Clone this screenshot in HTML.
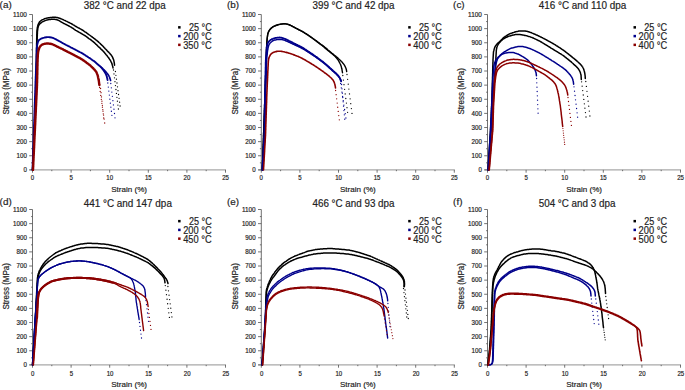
<!DOCTYPE html><html><head><meta charset="utf-8"><style>html,body{margin:0;padding:0;background:#fff;}svg{display:block;}text{font-family:"Liberation Sans", sans-serif;stroke:#222;stroke-width:0.18px;paint-order:stroke;}</style></head><body>
<svg width="685" height="390" viewBox="0 0 685 390">
<rect width="685" height="390" fill="#fff"/>
<g><line x1="32.50" y1="14.50" x2="32.50" y2="169.90" stroke="#707070" stroke-width="1"/><line x1="29.50" y1="169.90" x2="226.00" y2="169.90" stroke="#a8a8a8" stroke-width="1.1"/><line x1="29.20" y1="169.90" x2="32.50" y2="169.90" stroke="#505050" stroke-width="0.8"/><text x="26.90" y="172.20" font-size="6.4" fill="#222" text-anchor="end" textLength="3.45" lengthAdjust="spacingAndGlyphs">0</text><line x1="31.10" y1="162.84" x2="32.50" y2="162.84" stroke="#505050" stroke-width="0.8"/><line x1="29.20" y1="155.77" x2="32.50" y2="155.77" stroke="#505050" stroke-width="0.8"/><text x="26.90" y="158.07" font-size="6.4" fill="#222" text-anchor="end" textLength="10.35" lengthAdjust="spacingAndGlyphs">100</text><line x1="31.10" y1="148.71" x2="32.50" y2="148.71" stroke="#505050" stroke-width="0.8"/><line x1="29.20" y1="141.65" x2="32.50" y2="141.65" stroke="#505050" stroke-width="0.8"/><text x="26.90" y="143.95" font-size="6.4" fill="#222" text-anchor="end" textLength="10.35" lengthAdjust="spacingAndGlyphs">200</text><line x1="31.10" y1="134.58" x2="32.50" y2="134.58" stroke="#505050" stroke-width="0.8"/><line x1="29.20" y1="127.52" x2="32.50" y2="127.52" stroke="#505050" stroke-width="0.8"/><text x="26.90" y="129.82" font-size="6.4" fill="#222" text-anchor="end" textLength="10.35" lengthAdjust="spacingAndGlyphs">300</text><line x1="31.10" y1="120.46" x2="32.50" y2="120.46" stroke="#505050" stroke-width="0.8"/><line x1="29.20" y1="113.39" x2="32.50" y2="113.39" stroke="#505050" stroke-width="0.8"/><text x="26.90" y="115.69" font-size="6.4" fill="#222" text-anchor="end" textLength="10.35" lengthAdjust="spacingAndGlyphs">400</text><line x1="31.10" y1="106.33" x2="32.50" y2="106.33" stroke="#505050" stroke-width="0.8"/><line x1="29.20" y1="99.27" x2="32.50" y2="99.27" stroke="#505050" stroke-width="0.8"/><text x="26.90" y="101.56" font-size="6.4" fill="#222" text-anchor="end" textLength="10.35" lengthAdjust="spacingAndGlyphs">500</text><line x1="31.10" y1="92.20" x2="32.50" y2="92.20" stroke="#505050" stroke-width="0.8"/><line x1="29.20" y1="85.14" x2="32.50" y2="85.14" stroke="#505050" stroke-width="0.8"/><text x="26.90" y="87.44" font-size="6.4" fill="#222" text-anchor="end" textLength="10.35" lengthAdjust="spacingAndGlyphs">600</text><line x1="31.10" y1="78.07" x2="32.50" y2="78.07" stroke="#505050" stroke-width="0.8"/><line x1="29.20" y1="71.01" x2="32.50" y2="71.01" stroke="#505050" stroke-width="0.8"/><text x="26.90" y="73.31" font-size="6.4" fill="#222" text-anchor="end" textLength="10.35" lengthAdjust="spacingAndGlyphs">700</text><line x1="31.10" y1="63.95" x2="32.50" y2="63.95" stroke="#505050" stroke-width="0.8"/><line x1="29.20" y1="56.88" x2="32.50" y2="56.88" stroke="#505050" stroke-width="0.8"/><text x="26.90" y="59.18" font-size="6.4" fill="#222" text-anchor="end" textLength="10.35" lengthAdjust="spacingAndGlyphs">800</text><line x1="31.10" y1="49.82" x2="32.50" y2="49.82" stroke="#505050" stroke-width="0.8"/><line x1="29.20" y1="42.76" x2="32.50" y2="42.76" stroke="#505050" stroke-width="0.8"/><text x="26.90" y="45.06" font-size="6.4" fill="#222" text-anchor="end" textLength="10.35" lengthAdjust="spacingAndGlyphs">900</text><line x1="31.10" y1="35.69" x2="32.50" y2="35.69" stroke="#505050" stroke-width="0.8"/><line x1="29.20" y1="28.63" x2="32.50" y2="28.63" stroke="#505050" stroke-width="0.8"/><text x="26.90" y="30.93" font-size="6.4" fill="#222" text-anchor="end" textLength="13.80" lengthAdjust="spacingAndGlyphs">1000</text><line x1="31.10" y1="21.57" x2="32.50" y2="21.57" stroke="#505050" stroke-width="0.8"/><line x1="29.20" y1="14.50" x2="32.50" y2="14.50" stroke="#505050" stroke-width="0.8"/><text x="26.90" y="16.80" font-size="6.4" fill="#222" text-anchor="end" textLength="13.80" lengthAdjust="spacingAndGlyphs">1100</text><line x1="32.50" y1="169.90" x2="32.50" y2="172.70" stroke="#505050" stroke-width="0.8"/><text x="32.50" y="180.30" font-size="6.4" fill="#222" text-anchor="middle" textLength="3.37" lengthAdjust="spacingAndGlyphs">0</text><line x1="51.80" y1="169.90" x2="51.80" y2="171.20" stroke="#505050" stroke-width="0.8"/><line x1="71.10" y1="169.90" x2="71.10" y2="172.70" stroke="#505050" stroke-width="0.8"/><text x="71.10" y="180.30" font-size="6.4" fill="#222" text-anchor="middle" textLength="3.37" lengthAdjust="spacingAndGlyphs">5</text><line x1="90.40" y1="169.90" x2="90.40" y2="171.20" stroke="#505050" stroke-width="0.8"/><line x1="109.70" y1="169.90" x2="109.70" y2="172.70" stroke="#505050" stroke-width="0.8"/><text x="109.70" y="180.30" font-size="6.4" fill="#222" text-anchor="middle" textLength="6.74" lengthAdjust="spacingAndGlyphs">10</text><line x1="129.00" y1="169.90" x2="129.00" y2="171.20" stroke="#505050" stroke-width="0.8"/><line x1="148.30" y1="169.90" x2="148.30" y2="172.70" stroke="#505050" stroke-width="0.8"/><text x="148.30" y="180.30" font-size="6.4" fill="#222" text-anchor="middle" textLength="6.74" lengthAdjust="spacingAndGlyphs">15</text><line x1="167.60" y1="169.90" x2="167.60" y2="171.20" stroke="#505050" stroke-width="0.8"/><line x1="186.90" y1="169.90" x2="186.90" y2="172.70" stroke="#505050" stroke-width="0.8"/><text x="186.90" y="180.30" font-size="6.4" fill="#222" text-anchor="middle" textLength="6.74" lengthAdjust="spacingAndGlyphs">20</text><line x1="206.20" y1="169.90" x2="206.20" y2="171.20" stroke="#505050" stroke-width="0.8"/><line x1="225.50" y1="169.90" x2="225.50" y2="172.70" stroke="#505050" stroke-width="0.8"/><text x="225.50" y="180.30" font-size="6.4" fill="#222" text-anchor="middle" textLength="6.74" lengthAdjust="spacingAndGlyphs">25</text><text x="129.10" y="191.50" font-size="8.1" fill="#222" text-anchor="middle" textLength="35.8" lengthAdjust="spacingAndGlyphs">Strain (%)</text><text transform="translate(9.10,91.40) rotate(-90)" font-size="8.3" fill="#222" text-anchor="middle" textLength="46.4" lengthAdjust="spacingAndGlyphs">Stress (MPa)</text><text x="-0.40" y="7.60" font-size="9.9" fill="#222">(a)</text><text x="83.70" y="9.00" font-size="10" fill="#222" textLength="82" lengthAdjust="spacingAndGlyphs">382 °C and 22 dpa</text><rect x="178.10" y="26.10" width="2.5" height="2.5" fill="#000000"/><text x="211.70" y="31.30" font-size="10.2" fill="#222" text-anchor="end" textLength="22.8" lengthAdjust="spacingAndGlyphs">25 °C</text><rect x="178.10" y="34.85" width="2.5" height="2.5" fill="#00008b"/><text x="211.70" y="40.05" font-size="10.2" fill="#222" text-anchor="end" textLength="28.5" lengthAdjust="spacingAndGlyphs">200 °C</text><rect x="178.10" y="43.60" width="2.5" height="2.5" fill="#8b0000"/><text x="211.70" y="48.80" font-size="10.2" fill="#222" text-anchor="end" textLength="28.5" lengthAdjust="spacingAndGlyphs">350 °C</text><path d="M32.5,169.9 32.5,169.1 32.6,168.3 32.6,167.5 32.7,166.7 32.7,165.9 32.7,165.1 32.8,164.3 32.8,163.5 32.9,162.7 32.9,161.9 32.9,161.1 33.0,160.3 33.0,159.5 33.0,158.7 33.1,157.9 33.1,157.1 33.2,156.3 33.2,155.5 33.2,154.7 33.3,153.9 33.3,153.1 33.4,152.3 33.4,151.5 33.4,150.7 33.5,149.9 33.5,149.1 33.6,148.3 33.6,147.5 33.6,146.7 33.7,145.9 33.7,145.1 33.7,144.3 33.8,143.5 33.8,142.7 33.9,141.9 33.9,141.1 33.9,140.3 34.0,139.5 34.0,138.6 34.1,137.8 34.1,137.0 34.1,136.2 34.2,135.4 34.2,134.6 34.3,133.8 34.3,133.0 34.3,132.2 34.4,131.4 34.4,130.6 34.4,129.8 34.5,129.0 34.5,128.2 34.6,127.4 34.6,126.6 34.6,125.8 34.7,125.0 34.7,124.2 34.8,123.4 34.8,122.6 34.8,121.8 34.9,121.0 34.9,120.2 35.0,119.4 35.0,118.6 35.0,117.8 35.1,117.0 35.1,116.2 35.2,115.4 35.2,114.6 35.2,113.8 35.3,113.0 35.3,112.2 35.3,111.4 35.4,110.6 35.4,109.8 35.5,109.0 35.5,108.2 35.5,107.4 35.6,106.6 35.6,105.8 35.7,105.0 35.7,104.2 35.7,103.4 35.8,102.6 35.8,101.8 35.8,101.0 35.9,100.2 35.9,99.4 35.9,98.6 35.9,97.8 35.9,97.0 35.9,96.2 36.0,95.4 36.0,94.6 36.0,93.8 36.0,93.0 36.0,92.2 36.0,91.4 36.0,90.6 36.0,89.8 36.0,89.0 36.0,88.2 36.1,87.4 36.1,86.6 36.1,85.7 36.1,84.9 36.1,84.1 36.1,83.3 36.1,82.5 36.1,81.7 36.1,80.9 36.1,80.1 36.1,79.3 36.2,78.5 36.2,77.7 36.2,76.9 36.2,76.1 36.2,75.3 36.2,74.5 36.2,73.7 36.2,72.9 36.2,72.1 36.2,71.3 36.3,70.5 36.3,69.7 36.3,68.9 36.3,68.1 36.3,67.3 36.3,66.5 36.3,65.7 36.3,64.9 36.3,64.1 36.3,63.3 36.4,62.5 36.4,61.7 36.4,60.9 36.4,60.1 36.4,59.3 36.4,58.5 36.4,57.7 36.4,56.9 36.4,56.1 36.4,55.3 36.4,54.5 36.5,53.7 36.5,52.9 36.5,52.1 36.5,51.3 36.5,50.5 36.5,49.7 36.5,48.8 36.5,48.0 36.6,47.2 36.6,46.4 36.6,45.6 36.6,44.8 36.6,44.0 36.6,43.2 36.7,42.4 36.7,41.6 36.7,40.8 36.7,40.0 36.7,39.2 36.7,38.4 36.8,37.6 36.8,36.8 36.8,36.0 36.8,35.2 36.8,34.4 36.9,33.6 36.9,32.8 36.9,32.0 37.0,31.2 37.0,30.4 37.1,29.6 37.2,28.8 37.3,28.0 37.4,27.2 37.6,26.5 37.8,25.7 38.0,24.9 38.3,24.2 38.6,23.5 39.0,22.8 39.4,22.1 39.9,21.5 40.5,21.0 41.1,20.5 41.7,20.1 42.4,19.7 43.2,19.4 43.9,19.1 44.6,18.8 45.4,18.5 46.2,18.3 46.9,18.1 47.7,18.0 48.5,17.8 49.3,17.7 50.1,17.6 50.9,17.5 51.7,17.4 52.5,17.3 53.3,17.3 54.1,17.3 54.9,17.3 55.7,17.3 56.4,17.4 57.2,17.6 58.0,17.8 58.8,18.0 59.5,18.2 60.3,18.5 61.0,18.8 61.8,19.1 62.5,19.4 63.2,19.7 64.0,20.1 64.7,20.4 65.4,20.7 66.1,21.1 66.9,21.4 67.6,21.8 68.3,22.2 69.0,22.5 69.7,22.9 70.5,23.2 71.2,23.6 71.9,24.0 72.6,24.4 73.2,24.8 73.9,25.2 74.6,25.7 75.3,26.1 76.0,26.5 76.7,26.9 77.4,27.3 78.1,27.7 78.8,28.0 79.5,28.4 80.2,28.8 80.9,29.2 81.6,29.6 82.3,30.0 83.0,30.4 83.6,30.9 84.3,31.3 84.9,31.8 85.6,32.2 86.3,32.7 86.9,33.2 87.6,33.6 88.2,34.1 88.9,34.6 89.5,35.0 90.2,35.5 90.8,36.0 91.4,36.5 92.1,36.9 92.7,37.4 93.4,37.9 94.0,38.4 94.7,38.8 95.3,39.3 95.9,39.8 96.6,40.3 97.2,40.9 97.8,41.4 98.4,41.9 99.0,42.5 99.6,43.0 100.2,43.5 100.7,44.1 101.3,44.6 101.9,45.2 102.5,45.8 103.0,46.3 103.6,46.9 104.1,47.5 104.7,48.1 105.2,48.7 105.8,49.3 106.3,49.8 106.9,50.4 107.4,51.0 108.0,51.6 108.6,52.1 109.1,52.7 109.7,53.3 110.2,53.9 110.7,54.5 111.2,55.1 111.7,55.8 112.1,56.4 112.5,57.1 112.8,57.9 113.1,58.6 113.4,59.3 113.7,60.1 113.9,60.9 114.0,61.6 114.2,62.4 114.3,63.2 114.4,64.0 114.5,64.8 114.5,65.2" fill="none" stroke="#000000" stroke-width="1.5" stroke-linejoin="round" stroke-linecap="round"/><path d="M32.6,169.9 32.6,169.1 32.7,168.3 32.7,167.5 32.8,166.7 32.8,165.9 32.8,165.1 32.9,164.3 32.9,163.5 33.0,162.7 33.0,161.9 33.0,161.1 33.1,160.3 33.1,159.5 33.2,158.7 33.2,157.9 33.2,157.1 33.3,156.3 33.3,155.5 33.4,154.7 33.4,153.9 33.4,153.1 33.5,152.3 33.5,151.5 33.6,150.7 33.6,149.9 33.6,149.1 33.7,148.3 33.7,147.5 33.8,146.7 33.8,145.9 33.8,145.1 33.9,144.3 33.9,143.5 34.0,142.7 34.0,141.9 34.0,141.0 34.1,140.2 34.1,139.4 34.2,138.6 34.2,137.8 34.2,137.0 34.3,136.2 34.3,135.4 34.4,134.6 34.4,133.8 34.4,133.0 34.5,132.2 34.5,131.4 34.6,130.6 34.6,129.8 34.6,129.0 34.7,128.2 34.7,127.4 34.8,126.6 34.8,125.8 34.8,125.0 34.9,124.2 34.9,123.4 35.0,122.6 35.0,121.8 35.0,121.0 35.1,120.2 35.1,119.4 35.2,118.6 35.2,117.8 35.2,117.0 35.3,116.2 35.3,115.4 35.4,114.6 35.4,113.8 35.4,113.0 35.5,112.2 35.5,111.4 35.6,110.6 35.6,109.8 35.6,109.0 35.7,108.2 35.7,107.4 35.8,106.6 35.8,105.8 35.9,105.0 35.9,104.2 35.9,103.4 36.0,102.6 36.0,101.8 36.0,101.0 36.1,100.2 36.1,99.4 36.1,98.6 36.1,97.8 36.1,97.0 36.2,96.2 36.2,95.4 36.2,94.6 36.2,93.8 36.2,93.0 36.2,92.2 36.2,91.4 36.2,90.6 36.2,89.7 36.3,88.9 36.3,88.1 36.3,87.3 36.3,86.5 36.3,85.7 36.3,84.9 36.3,84.1 36.3,83.3 36.4,82.5 36.4,81.7 36.4,80.9 36.4,80.1 36.4,79.3 36.4,78.5 36.4,77.7 36.4,76.9 36.4,76.1 36.5,75.3 36.5,74.5 36.5,73.7 36.5,72.9 36.5,72.1 36.5,71.3 36.5,70.5 36.5,69.7 36.6,68.9 36.6,68.1 36.6,67.3 36.6,66.5 36.6,65.7 36.6,64.9 36.6,64.1 36.6,63.3 36.6,62.5 36.7,61.7 36.7,60.9 36.7,60.1 36.7,59.3 36.7,58.5 36.7,57.7 36.7,56.9 36.7,56.1 36.8,55.2 36.8,54.4 36.8,53.6 36.8,52.8 36.8,52.0 36.8,51.2 36.8,50.4 36.8,49.6 36.8,48.8 36.9,48.0 36.9,47.2 36.9,46.4 36.9,45.6 36.9,44.8 36.9,44.0 37.0,43.2 37.0,42.4 37.0,41.6 37.1,40.8 37.1,40.0 37.1,39.2 37.2,38.4 37.2,37.6 37.2,36.8 37.3,36.0 37.3,35.2 37.3,34.4 37.4,33.6 37.4,32.8 37.4,32.0 37.5,31.2 37.6,30.4 37.7,29.6 37.8,28.8 37.9,28.0 38.1,27.2 38.3,26.5 38.6,25.8 38.9,25.1 39.3,24.4 39.8,23.8 40.4,23.3 41.0,22.8 41.6,22.3 42.3,21.9 43.0,21.6 43.7,21.3 44.5,20.9 45.2,20.6 45.9,20.4 46.7,20.1 47.5,19.9 48.2,19.7 49.0,19.6 49.8,19.5 50.6,19.4 51.4,19.3 52.2,19.2 53.0,19.2 53.8,19.2 54.6,19.2 55.4,19.4 56.1,19.5 56.9,19.7 57.6,20.0 58.4,20.3 59.1,20.7 59.8,21.1 60.4,21.5 61.1,21.9 61.8,22.3 62.5,22.7 63.2,23.1 63.9,23.5 64.7,23.8 65.4,24.2 66.1,24.5 66.8,24.9 67.5,25.3 68.2,25.6 68.9,26.0 69.6,26.4 70.4,26.8 71.1,27.2 71.7,27.6 72.4,28.0 73.1,28.4 73.7,28.9 74.4,29.4 75.0,29.8 75.7,30.3 76.4,30.7 77.1,31.1 77.8,31.5 78.5,31.9 79.2,32.3 79.9,32.7 80.6,33.1 81.3,33.5 82.0,33.9 82.7,34.3 83.3,34.7 84.0,35.1 84.7,35.5 85.4,35.9 86.1,36.4 86.7,36.8 87.4,37.3 88.0,37.8 88.6,38.3 89.3,38.8 89.9,39.2 90.6,39.7 91.2,40.2 91.8,40.7 92.5,41.2 93.1,41.7 93.7,42.2 94.3,42.7 94.9,43.2 95.5,43.8 96.1,44.3 96.7,44.9 97.3,45.4 97.8,46.0 98.4,46.6 99.0,47.1 99.6,47.7 100.2,48.2 100.7,48.8 101.3,49.3 101.9,49.9 102.5,50.5 103.0,51.0 103.6,51.6 104.1,52.2 104.6,52.8 105.1,53.4 105.6,54.1 106.1,54.7 106.7,55.3 107.2,55.9 107.7,56.6 108.1,57.2 108.6,57.8 109.1,58.5 109.5,59.2 110.0,59.8 110.4,60.5 110.8,61.2 111.1,61.9 111.5,62.6 111.8,63.4 112.0,64.1 112.3,64.9 112.5,65.7 112.7,66.4 112.9,67.2 113.0,68.0" fill="none" stroke="#000000" stroke-width="1.5" stroke-linejoin="round" stroke-linecap="round"/><circle cx="113.50" cy="70.00" r="0.65" fill="#000000"/><circle cx="113.99" cy="73.90" r="0.65" fill="#000000"/><circle cx="114.48" cy="77.80" r="0.65" fill="#000000"/><circle cx="114.97" cy="81.70" r="0.65" fill="#000000"/><circle cx="115.46" cy="85.60" r="0.65" fill="#000000"/><circle cx="115.95" cy="89.50" r="0.65" fill="#000000"/><circle cx="116.44" cy="93.40" r="0.65" fill="#000000"/><circle cx="116.93" cy="97.30" r="0.65" fill="#000000"/><circle cx="117.42" cy="101.20" r="0.65" fill="#000000"/><circle cx="117.91" cy="105.10" r="0.65" fill="#000000"/><circle cx="118.40" cy="109.00" r="0.65" fill="#000000"/><circle cx="115.40" cy="71.50" r="0.65" fill="#000000"/><circle cx="115.92" cy="75.33" r="0.65" fill="#000000"/><circle cx="116.44" cy="79.17" r="0.65" fill="#000000"/><circle cx="116.97" cy="83.00" r="0.65" fill="#000000"/><circle cx="117.49" cy="86.83" r="0.65" fill="#000000"/><circle cx="118.01" cy="90.67" r="0.65" fill="#000000"/><circle cx="118.53" cy="94.50" r="0.65" fill="#000000"/><circle cx="119.06" cy="98.33" r="0.65" fill="#000000"/><circle cx="119.58" cy="102.17" r="0.65" fill="#000000"/><circle cx="120.10" cy="106.00" r="0.65" fill="#000000"/><path d="M32.5,169.9 32.5,169.1 32.6,168.3 32.6,167.5 32.6,166.7 32.6,165.9 32.7,165.1 32.7,164.3 32.7,163.5 32.7,162.7 32.8,161.9 32.8,161.1 32.8,160.3 32.9,159.5 32.9,158.7 32.9,157.9 32.9,157.1 33.0,156.3 33.0,155.5 33.0,154.7 33.1,153.9 33.1,153.1 33.1,152.3 33.1,151.5 33.2,150.7 33.2,149.9 33.2,149.1 33.2,148.2 33.3,147.4 33.3,146.6 33.3,145.8 33.4,145.0 33.4,144.2 33.4,143.4 33.4,142.6 33.5,141.8 33.5,141.0 33.5,140.2 33.6,139.4 33.6,138.6 33.6,137.8 33.6,137.0 33.7,136.2 33.7,135.4 33.7,134.6 33.7,133.8 33.8,133.0 33.8,132.2 33.8,131.4 33.9,130.6 33.9,129.8 33.9,129.0 33.9,128.2 34.0,127.4 34.0,126.6 34.0,125.8 34.0,125.0 34.1,124.2 34.1,123.4 34.1,122.6 34.2,121.8 34.2,121.0 34.2,120.2 34.2,119.4 34.3,118.6 34.3,117.8 34.3,117.0 34.4,116.2 34.4,115.4 34.4,114.6 34.4,113.8 34.5,113.0 34.5,112.2 34.5,111.4 34.5,110.6 34.6,109.8 34.6,109.0 34.6,108.2 34.7,107.4 34.7,106.6 34.7,105.8 34.7,104.9 34.8,104.1 34.8,103.3 34.8,102.5 34.9,101.7 34.9,100.9 34.9,100.1 34.9,99.3 35.0,98.5 35.0,97.7 35.0,96.9 35.0,96.1 35.1,95.3 35.1,94.5 35.1,93.7 35.2,92.9 35.2,92.1 35.2,91.3 35.2,90.5 35.3,89.7 35.3,88.9 35.3,88.1 35.3,87.3 35.4,86.5 35.4,85.7 35.4,84.9 35.5,84.1 35.5,83.3 35.5,82.5 35.5,81.7 35.6,80.9 35.6,80.1 35.6,79.3 35.7,78.5 35.7,77.7 35.7,76.9 35.8,76.1 35.8,75.3 35.8,74.5 35.9,73.7 35.9,72.9 35.9,72.1 35.9,71.3 36.0,70.5 36.0,69.7 36.0,68.9 36.1,68.1 36.1,67.3 36.1,66.5 36.2,65.7 36.2,64.9 36.2,64.1 36.3,63.3 36.3,62.5 36.3,61.7 36.4,60.9 36.4,60.0 36.4,59.2 36.5,58.4 36.5,57.6 36.5,56.8 36.5,56.0 36.6,55.2 36.6,54.4 36.6,53.6 36.7,52.8 36.7,52.0 36.7,51.2 36.7,50.4 36.8,49.6 36.8,48.8 36.8,48.0 36.9,47.2 37.0,46.4 37.1,45.6 37.2,44.9 37.4,44.1 37.6,43.3 37.8,42.5 38.0,41.8 38.3,41.1 38.7,40.5 39.2,39.9 39.8,39.5 40.5,39.0 41.2,38.7 41.9,38.4 42.6,38.1 43.4,37.9 44.2,37.7 44.9,37.5 45.7,37.3 46.5,37.2 47.3,37.1 48.1,37.1 48.9,37.1 49.6,37.2 50.4,37.3 51.2,37.5 52.0,37.7 52.7,37.9 53.5,38.2 54.2,38.5 54.9,38.8 55.6,39.2 56.4,39.6 57.1,40.0 57.8,40.4 58.5,40.8 59.2,41.2 59.9,41.5 60.6,41.9 61.3,42.3 62.0,42.7 62.7,43.1 63.4,43.5 64.1,43.8 64.8,44.2 65.5,44.6 66.2,45.0 66.9,45.3 67.6,45.7 68.4,46.1 69.1,46.4 69.8,46.8 70.5,47.2 71.2,47.6 71.9,47.9 72.6,48.3 73.3,48.7 74.0,49.0 74.8,49.4 75.5,49.8 76.2,50.2 76.9,50.5 77.6,50.9 78.3,51.3 79.0,51.6 79.7,52.0 80.5,52.4 81.2,52.7 81.9,53.1 82.6,53.5 83.2,53.9 83.9,54.4 84.6,54.8 85.3,55.2 85.9,55.7 86.6,56.1 87.3,56.6 87.9,57.0 88.6,57.5 89.3,57.9 90.0,58.3 90.6,58.8 91.3,59.2 91.9,59.7 92.6,60.2 93.2,60.6 93.9,61.1 94.5,61.6 95.1,62.1 95.7,62.6 96.4,63.2 97.0,63.7 97.6,64.2 98.2,64.7 98.8,65.2 99.4,65.7 100.0,66.2 100.6,66.8 101.2,67.4 101.7,68.0 102.2,68.6 102.7,69.2 103.2,69.9 103.7,70.5 104.1,71.2 104.6,71.8 105.0,72.5 105.4,73.2 105.7,73.9 106.1,74.6 106.4,75.4 106.7,76.1 106.9,76.9 107.1,77.7 107.3,78.4 107.4,79.2 107.6,80.0" fill="none" stroke="#00008b" stroke-width="1.9" stroke-linejoin="round" stroke-linecap="round"/><path d="M100.7,66.7 101.3,67.3 101.9,67.8 102.5,68.4 103.1,69.0 103.7,69.5 104.3,70.1 104.9,70.7 105.5,71.3 106.0,71.9 106.5,72.5 107.0,73.2 107.5,73.8 108.0,74.5 108.5,75.2 108.9,75.9 109.2,76.6 109.6,77.4 109.8,78.1 110.1,78.9 110.4,79.7 110.6,80.5" fill="none" stroke="#00008b" stroke-width="1.6" stroke-linejoin="round" stroke-linecap="round"/><circle cx="107.80" cy="83.00" r="0.65" fill="#00008b"/><circle cx="108.31" cy="87.04" r="0.65" fill="#00008b"/><circle cx="108.83" cy="91.08" r="0.65" fill="#00008b"/><circle cx="109.34" cy="95.11" r="0.65" fill="#00008b"/><circle cx="109.85" cy="99.15" r="0.65" fill="#00008b"/><circle cx="110.36" cy="103.19" r="0.65" fill="#00008b"/><circle cx="110.88" cy="107.22" r="0.65" fill="#00008b"/><circle cx="111.39" cy="111.26" r="0.65" fill="#00008b"/><circle cx="111.90" cy="115.30" r="0.65" fill="#00008b"/><circle cx="110.80" cy="83.50" r="0.65" fill="#00008b"/><circle cx="111.33" cy="87.79" r="0.65" fill="#00008b"/><circle cx="111.85" cy="92.08" r="0.65" fill="#00008b"/><circle cx="112.38" cy="96.36" r="0.65" fill="#00008b"/><circle cx="112.90" cy="100.65" r="0.65" fill="#00008b"/><circle cx="113.42" cy="104.94" r="0.65" fill="#00008b"/><circle cx="113.95" cy="109.22" r="0.65" fill="#00008b"/><circle cx="114.47" cy="113.51" r="0.65" fill="#00008b"/><circle cx="115.00" cy="117.80" r="0.65" fill="#00008b"/><path d="M33.0,169.9 33.0,169.1 33.1,168.3 33.1,167.5 33.2,166.7 33.2,165.9 33.2,165.1 33.3,164.3 33.3,163.5 33.3,162.7 33.4,161.9 33.4,161.1 33.5,160.3 33.5,159.5 33.5,158.7 33.6,157.9 33.6,157.1 33.6,156.3 33.7,155.5 33.7,154.7 33.8,153.9 33.8,153.1 33.8,152.3 33.9,151.5 33.9,150.7 33.9,149.9 34.0,149.1 34.0,148.3 34.1,147.5 34.1,146.6 34.1,145.8 34.2,145.0 34.2,144.2 34.2,143.4 34.3,142.6 34.3,141.8 34.4,141.0 34.4,140.2 34.4,139.4 34.5,138.6 34.5,137.8 34.5,137.0 34.6,136.2 34.6,135.4 34.7,134.6 34.7,133.8 34.7,133.0 34.8,132.2 34.8,131.4 34.9,130.6 34.9,129.8 34.9,129.0 35.0,128.2 35.0,127.4 35.0,126.6 35.1,125.8 35.1,125.0 35.2,124.2 35.2,123.4 35.2,122.6 35.3,121.8 35.3,121.0 35.3,120.2 35.4,119.4 35.4,118.6 35.5,117.8 35.5,117.0 35.5,116.2 35.6,115.4 35.6,114.6 35.6,113.8 35.7,113.0 35.7,112.2 35.8,111.4 35.8,110.6 35.8,109.8 35.9,109.0 35.9,108.2 35.9,107.4 36.0,106.6 36.0,105.8 36.1,105.0 36.1,104.2 36.1,103.4 36.2,102.6 36.2,101.8 36.2,100.9 36.3,100.1 36.3,99.3 36.4,98.5 36.4,97.7 36.4,96.9 36.5,96.1 36.5,95.3 36.6,94.5 36.6,93.7 36.6,92.9 36.7,92.1 36.7,91.3 36.7,90.5 36.8,89.7 36.8,88.9 36.9,88.1 36.9,87.3 36.9,86.5 37.0,85.7 37.0,84.9 37.0,84.1 37.0,83.3 37.1,82.5 37.1,81.7 37.1,80.9 37.1,80.1 37.1,79.3 37.2,78.5 37.2,77.7 37.2,76.9 37.2,76.1 37.2,75.3 37.3,74.5 37.3,73.7 37.3,72.9 37.3,72.1 37.3,71.3 37.3,70.5 37.4,69.7 37.4,68.9 37.4,68.1 37.4,67.3 37.4,66.5 37.5,65.7 37.5,64.9 37.5,64.1 37.5,63.2 37.5,62.4 37.6,61.6 37.6,60.8 37.6,60.0 37.6,59.2 37.7,58.4 37.7,57.6 37.8,56.8 37.8,56.0 37.8,55.2 37.9,54.4 38.0,53.6 38.0,52.8 38.2,52.0 38.3,51.3 38.5,50.5 38.7,49.7 39.0,49.0 39.2,48.2 39.5,47.5 39.9,46.8 40.4,46.2 40.9,45.7 41.5,45.2 42.1,44.7 42.8,44.4 43.5,44.1 44.3,43.9 45.1,43.7 45.8,43.6 46.6,43.5 47.4,43.5 48.2,43.5 49.0,43.6 49.8,43.7 50.6,43.8 51.4,44.0 52.1,44.2 52.9,44.5 53.6,44.8 54.3,45.2 55.1,45.5 55.8,45.9 56.5,46.2 57.2,46.6 57.9,46.9 58.7,47.3 59.4,47.6 60.1,48.0 60.8,48.3 61.5,48.7 62.3,49.0 63.0,49.4 63.7,49.8 64.4,50.1 65.1,50.5 65.8,50.9 66.6,51.2 67.3,51.6 68.0,52.0 68.7,52.3 69.4,52.7 70.1,53.0 70.8,53.4 71.6,53.8 72.3,54.2 73.0,54.5 73.7,54.9 74.4,55.3 75.1,55.7 75.8,56.0 76.5,56.4 77.2,56.8 77.9,57.2 78.6,57.5 79.4,57.9 80.1,58.3 80.8,58.7 81.5,59.1 82.1,59.5 82.8,59.9 83.5,60.4 84.1,60.9 84.8,61.3 85.4,61.8 86.1,62.3 86.7,62.8 87.3,63.3 88.0,63.7 88.6,64.2 89.3,64.7 89.9,65.2 90.5,65.7 91.1,66.3 91.7,66.8 92.2,67.4 92.8,68.0 93.4,68.5 93.9,69.1 94.5,69.7 95.0,70.3 95.5,70.9 96.0,71.5 96.4,72.2 96.7,72.9 97.0,73.7 97.3,74.4 97.6,75.2 97.8,75.9 98.0,76.7 98.1,77.5 98.3,78.3 98.5,79.1 98.6,79.8 98.8,80.6 98.9,81.4 99.0,82.2 99.1,83.0 99.2,83.8 99.3,84.6 99.4,85.0" fill="none" stroke="#8b0000" stroke-width="2.4" stroke-linejoin="round" stroke-linecap="round"/><circle cx="99.60" cy="87.50" r="0.65" fill="#8b0000"/><circle cx="100.17" cy="91.44" r="0.65" fill="#8b0000"/><circle cx="100.73" cy="95.39" r="0.65" fill="#8b0000"/><circle cx="101.30" cy="99.33" r="0.65" fill="#8b0000"/><circle cx="101.87" cy="103.28" r="0.65" fill="#8b0000"/><circle cx="102.43" cy="107.22" r="0.65" fill="#8b0000"/><circle cx="103.00" cy="111.17" r="0.65" fill="#8b0000"/><circle cx="103.57" cy="115.11" r="0.65" fill="#8b0000"/><circle cx="104.13" cy="119.06" r="0.65" fill="#8b0000"/><circle cx="104.70" cy="123.00" r="0.65" fill="#8b0000"/><circle cx="100.60" cy="88.50" r="0.65" fill="#8b0000"/><circle cx="101.04" cy="92.71" r="0.65" fill="#8b0000"/><circle cx="101.49" cy="96.93" r="0.65" fill="#8b0000"/><circle cx="101.93" cy="101.14" r="0.65" fill="#8b0000"/><circle cx="102.37" cy="105.36" r="0.65" fill="#8b0000"/><circle cx="102.81" cy="109.57" r="0.65" fill="#8b0000"/><circle cx="103.26" cy="113.79" r="0.65" fill="#8b0000"/><circle cx="103.70" cy="118.00" r="0.65" fill="#8b0000"/></g>
<g><line x1="261.30" y1="14.50" x2="261.30" y2="169.90" stroke="#707070" stroke-width="1"/><line x1="258.30" y1="169.90" x2="454.80" y2="169.90" stroke="#a8a8a8" stroke-width="1.1"/><line x1="258.00" y1="169.90" x2="261.30" y2="169.90" stroke="#505050" stroke-width="0.8"/><text x="255.70" y="172.20" font-size="6.4" fill="#222" text-anchor="end" textLength="3.45" lengthAdjust="spacingAndGlyphs">0</text><line x1="259.90" y1="162.84" x2="261.30" y2="162.84" stroke="#505050" stroke-width="0.8"/><line x1="258.00" y1="155.77" x2="261.30" y2="155.77" stroke="#505050" stroke-width="0.8"/><text x="255.70" y="158.07" font-size="6.4" fill="#222" text-anchor="end" textLength="10.35" lengthAdjust="spacingAndGlyphs">100</text><line x1="259.90" y1="148.71" x2="261.30" y2="148.71" stroke="#505050" stroke-width="0.8"/><line x1="258.00" y1="141.65" x2="261.30" y2="141.65" stroke="#505050" stroke-width="0.8"/><text x="255.70" y="143.95" font-size="6.4" fill="#222" text-anchor="end" textLength="10.35" lengthAdjust="spacingAndGlyphs">200</text><line x1="259.90" y1="134.58" x2="261.30" y2="134.58" stroke="#505050" stroke-width="0.8"/><line x1="258.00" y1="127.52" x2="261.30" y2="127.52" stroke="#505050" stroke-width="0.8"/><text x="255.70" y="129.82" font-size="6.4" fill="#222" text-anchor="end" textLength="10.35" lengthAdjust="spacingAndGlyphs">300</text><line x1="259.90" y1="120.46" x2="261.30" y2="120.46" stroke="#505050" stroke-width="0.8"/><line x1="258.00" y1="113.39" x2="261.30" y2="113.39" stroke="#505050" stroke-width="0.8"/><text x="255.70" y="115.69" font-size="6.4" fill="#222" text-anchor="end" textLength="10.35" lengthAdjust="spacingAndGlyphs">400</text><line x1="259.90" y1="106.33" x2="261.30" y2="106.33" stroke="#505050" stroke-width="0.8"/><line x1="258.00" y1="99.27" x2="261.30" y2="99.27" stroke="#505050" stroke-width="0.8"/><text x="255.70" y="101.56" font-size="6.4" fill="#222" text-anchor="end" textLength="10.35" lengthAdjust="spacingAndGlyphs">500</text><line x1="259.90" y1="92.20" x2="261.30" y2="92.20" stroke="#505050" stroke-width="0.8"/><line x1="258.00" y1="85.14" x2="261.30" y2="85.14" stroke="#505050" stroke-width="0.8"/><text x="255.70" y="87.44" font-size="6.4" fill="#222" text-anchor="end" textLength="10.35" lengthAdjust="spacingAndGlyphs">600</text><line x1="259.90" y1="78.07" x2="261.30" y2="78.07" stroke="#505050" stroke-width="0.8"/><line x1="258.00" y1="71.01" x2="261.30" y2="71.01" stroke="#505050" stroke-width="0.8"/><text x="255.70" y="73.31" font-size="6.4" fill="#222" text-anchor="end" textLength="10.35" lengthAdjust="spacingAndGlyphs">700</text><line x1="259.90" y1="63.95" x2="261.30" y2="63.95" stroke="#505050" stroke-width="0.8"/><line x1="258.00" y1="56.88" x2="261.30" y2="56.88" stroke="#505050" stroke-width="0.8"/><text x="255.70" y="59.18" font-size="6.4" fill="#222" text-anchor="end" textLength="10.35" lengthAdjust="spacingAndGlyphs">800</text><line x1="259.90" y1="49.82" x2="261.30" y2="49.82" stroke="#505050" stroke-width="0.8"/><line x1="258.00" y1="42.76" x2="261.30" y2="42.76" stroke="#505050" stroke-width="0.8"/><text x="255.70" y="45.06" font-size="6.4" fill="#222" text-anchor="end" textLength="10.35" lengthAdjust="spacingAndGlyphs">900</text><line x1="259.90" y1="35.69" x2="261.30" y2="35.69" stroke="#505050" stroke-width="0.8"/><line x1="258.00" y1="28.63" x2="261.30" y2="28.63" stroke="#505050" stroke-width="0.8"/><text x="255.70" y="30.93" font-size="6.4" fill="#222" text-anchor="end" textLength="13.80" lengthAdjust="spacingAndGlyphs">1000</text><line x1="259.90" y1="21.57" x2="261.30" y2="21.57" stroke="#505050" stroke-width="0.8"/><line x1="258.00" y1="14.50" x2="261.30" y2="14.50" stroke="#505050" stroke-width="0.8"/><text x="255.70" y="16.80" font-size="6.4" fill="#222" text-anchor="end" textLength="13.80" lengthAdjust="spacingAndGlyphs">1100</text><line x1="261.30" y1="169.90" x2="261.30" y2="172.70" stroke="#505050" stroke-width="0.8"/><text x="261.30" y="180.30" font-size="6.4" fill="#222" text-anchor="middle" textLength="3.37" lengthAdjust="spacingAndGlyphs">0</text><line x1="280.60" y1="169.90" x2="280.60" y2="171.20" stroke="#505050" stroke-width="0.8"/><line x1="299.90" y1="169.90" x2="299.90" y2="172.70" stroke="#505050" stroke-width="0.8"/><text x="299.90" y="180.30" font-size="6.4" fill="#222" text-anchor="middle" textLength="3.37" lengthAdjust="spacingAndGlyphs">5</text><line x1="319.20" y1="169.90" x2="319.20" y2="171.20" stroke="#505050" stroke-width="0.8"/><line x1="338.50" y1="169.90" x2="338.50" y2="172.70" stroke="#505050" stroke-width="0.8"/><text x="338.50" y="180.30" font-size="6.4" fill="#222" text-anchor="middle" textLength="6.74" lengthAdjust="spacingAndGlyphs">10</text><line x1="357.80" y1="169.90" x2="357.80" y2="171.20" stroke="#505050" stroke-width="0.8"/><line x1="377.10" y1="169.90" x2="377.10" y2="172.70" stroke="#505050" stroke-width="0.8"/><text x="377.10" y="180.30" font-size="6.4" fill="#222" text-anchor="middle" textLength="6.74" lengthAdjust="spacingAndGlyphs">15</text><line x1="396.40" y1="169.90" x2="396.40" y2="171.20" stroke="#505050" stroke-width="0.8"/><line x1="415.70" y1="169.90" x2="415.70" y2="172.70" stroke="#505050" stroke-width="0.8"/><text x="415.70" y="180.30" font-size="6.4" fill="#222" text-anchor="middle" textLength="6.74" lengthAdjust="spacingAndGlyphs">20</text><line x1="435.00" y1="169.90" x2="435.00" y2="171.20" stroke="#505050" stroke-width="0.8"/><line x1="454.30" y1="169.90" x2="454.30" y2="172.70" stroke="#505050" stroke-width="0.8"/><text x="454.30" y="180.30" font-size="6.4" fill="#222" text-anchor="middle" textLength="6.74" lengthAdjust="spacingAndGlyphs">25</text><text x="357.90" y="191.50" font-size="8.1" fill="#222" text-anchor="middle" textLength="35.8" lengthAdjust="spacingAndGlyphs">Strain (%)</text><text transform="translate(237.90,91.40) rotate(-90)" font-size="8.3" fill="#222" text-anchor="middle" textLength="46.4" lengthAdjust="spacingAndGlyphs">Stress (MPa)</text><text x="226.90" y="7.60" font-size="9.9" fill="#222">(b)</text><text x="312.50" y="9.00" font-size="10" fill="#222" textLength="82" lengthAdjust="spacingAndGlyphs">399 °C and 42 dpa</text><rect x="408.20" y="26.10" width="2.5" height="2.5" fill="#000000"/><text x="441.80" y="31.30" font-size="10.2" fill="#222" text-anchor="end" textLength="22.8" lengthAdjust="spacingAndGlyphs">25 °C</text><rect x="408.20" y="34.85" width="2.5" height="2.5" fill="#00008b"/><text x="441.80" y="40.05" font-size="10.2" fill="#222" text-anchor="end" textLength="28.5" lengthAdjust="spacingAndGlyphs">200 °C</text><rect x="408.20" y="43.60" width="2.5" height="2.5" fill="#8b0000"/><text x="441.80" y="48.80" font-size="10.2" fill="#222" text-anchor="end" textLength="28.5" lengthAdjust="spacingAndGlyphs">400 °C</text><path d="M262.3,169.9 262.3,169.1 262.4,168.3 262.4,167.5 262.4,166.7 262.4,165.9 262.5,165.1 262.5,164.3 262.5,163.5 262.6,162.7 262.6,161.9 262.6,161.1 262.6,160.3 262.7,159.5 262.7,158.7 262.7,157.9 262.8,157.1 262.8,156.3 262.8,155.5 262.8,154.7 262.9,153.9 262.9,153.1 262.9,152.3 263.0,151.5 263.0,150.6 263.0,149.8 263.1,149.0 263.1,148.2 263.1,147.4 263.1,146.6 263.2,145.8 263.2,145.0 263.2,144.2 263.3,143.4 263.3,142.6 263.3,141.8 263.3,141.0 263.4,140.2 263.4,139.4 263.4,138.6 263.5,137.8 263.5,137.0 263.5,136.2 263.5,135.4 263.6,134.6 263.6,133.8 263.6,133.0 263.7,132.2 263.7,131.4 263.7,130.6 263.7,129.8 263.8,129.0 263.8,128.2 263.8,127.4 263.9,126.6 263.9,125.8 263.9,125.0 263.9,124.2 264.0,123.4 264.0,122.6 264.0,121.8 264.1,121.0 264.1,120.2 264.1,119.4 264.2,118.6 264.2,117.8 264.2,117.0 264.2,116.2 264.3,115.4 264.3,114.6 264.3,113.7 264.4,112.9 264.4,112.1 264.4,111.3 264.4,110.5 264.5,109.7 264.5,108.9 264.5,108.1 264.6,107.3 264.6,106.5 264.6,105.7 264.6,104.9 264.7,104.1 264.7,103.3 264.7,102.5 264.8,101.7 264.8,100.9 264.8,100.1 264.8,99.3 264.9,98.5 264.9,97.7 264.9,96.9 265.0,96.1 265.0,95.3 265.0,94.5 265.0,93.7 265.1,92.9 265.1,92.1 265.1,91.3 265.2,90.5 265.2,89.7 265.2,88.9 265.2,88.1 265.3,87.3 265.3,86.5 265.3,85.7 265.3,84.9 265.4,84.1 265.4,83.3 265.4,82.5 265.4,81.7 265.5,80.9 265.5,80.1 265.5,79.3 265.6,78.5 265.6,77.7 265.6,76.8 265.6,76.0 265.7,75.2 265.7,74.4 265.7,73.6 265.7,72.8 265.8,72.0 265.8,71.2 265.8,70.4 265.8,69.6 265.9,68.8 265.9,68.0 265.9,67.2 266.0,66.4 266.0,65.6 266.0,64.8 266.0,64.0 266.1,63.2 266.1,62.4 266.1,61.6 266.1,60.8 266.2,60.0 266.2,59.2 266.2,58.4 266.2,57.6 266.3,56.8 266.3,56.0 266.3,55.2 266.4,54.4 266.4,53.6 266.4,52.8 266.4,52.0 266.5,51.2 266.5,50.4 266.5,49.6 266.6,48.8 266.6,48.0 266.6,47.2 266.7,46.4 266.7,45.6 266.8,44.8 266.8,44.0 266.9,43.2 266.9,42.4 266.9,41.6 267.0,40.8 267.1,40.0 267.1,39.2 267.2,38.4 267.3,37.6 267.4,36.8 267.5,36.0 267.6,35.2 267.7,34.4 267.9,33.6 268.1,32.9 268.4,32.1 268.8,31.4 269.1,30.7 269.6,30.0 270.0,29.4 270.6,28.8 271.1,28.3 271.7,27.8 272.4,27.3 273.0,26.8 273.7,26.4 274.4,26.1 275.1,25.8 275.9,25.5 276.6,25.2 277.4,25.0 278.2,24.7 278.9,24.5 279.7,24.4 280.5,24.2 281.3,24.1 282.1,24.0 282.9,23.9 283.7,23.8 284.5,23.8 285.2,23.9 286.0,23.9 286.8,24.1 287.6,24.3 288.3,24.5 289.1,24.7 289.8,25.0 290.6,25.4 291.3,25.7 292.0,26.1 292.7,26.5 293.4,26.9 294.1,27.2 294.8,27.6 295.5,28.0 296.2,28.4 297.0,28.7 297.7,29.1 298.4,29.5 299.1,29.8 299.8,30.2 300.5,30.6 301.2,30.9 301.9,31.3 302.6,31.7 303.3,32.1 304.0,32.5 304.7,33.0 305.4,33.4 306.1,33.8 306.7,34.2 307.4,34.7 308.1,35.1 308.8,35.6 309.4,36.0 310.1,36.5 310.7,36.9 311.4,37.4 312.0,37.8 312.7,38.3 313.4,38.8 314.0,39.2 314.7,39.7 315.3,40.2 316.0,40.6 316.6,41.1 317.3,41.6 317.9,42.1 318.6,42.5 319.2,43.0 319.8,43.5 320.5,44.0 321.1,44.5 321.8,44.9 322.4,45.4 323.1,45.9 323.7,46.4 324.3,46.9 324.9,47.4 325.6,47.9 326.2,48.4 326.8,48.9 327.4,49.4 328.0,50.0 328.7,50.5 329.3,51.0 329.9,51.5 330.5,52.0 331.1,52.5 331.7,53.0 332.4,53.5 333.0,54.0 333.6,54.6 334.2,55.1 334.9,55.6 335.5,56.0 336.1,56.6 336.7,57.1 337.3,57.6 337.9,58.1 338.5,58.7 339.1,59.2 339.7,59.8 340.3,60.3 340.9,60.9 341.4,61.5 342.0,62.0 342.5,62.7 343.0,63.3 343.5,63.9 344.0,64.5 344.4,65.2 344.8,65.9 345.2,66.6 345.5,67.3 345.8,68.0 346.1,68.8 346.3,69.5 346.5,70.3 346.6,71.1 346.7,71.5" fill="none" stroke="#000000" stroke-width="1.4" stroke-linejoin="round" stroke-linecap="round"/><path d="M262.3,169.9 262.3,169.1 262.4,168.3 262.4,167.5 262.4,166.7 262.4,165.9 262.5,165.1 262.5,164.3 262.5,163.5 262.6,162.7 262.6,161.9 262.6,161.1 262.6,160.3 262.7,159.5 262.7,158.7 262.7,157.9 262.8,157.1 262.8,156.3 262.8,155.5 262.8,154.7 262.9,153.9 262.9,153.1 262.9,152.3 263.0,151.5 263.0,150.7 263.0,149.9 263.1,149.1 263.1,148.3 263.1,147.5 263.1,146.7 263.2,145.9 263.2,145.1 263.2,144.3 263.3,143.5 263.3,142.7 263.3,141.9 263.3,141.1 263.4,140.3 263.4,139.4 263.4,138.6 263.5,137.8 263.5,137.0 263.5,136.2 263.5,135.4 263.6,134.6 263.6,133.8 263.6,133.0 263.7,132.2 263.7,131.4 263.7,130.6 263.7,129.8 263.8,129.0 263.8,128.2 263.8,127.4 263.9,126.6 263.9,125.8 263.9,125.0 263.9,124.2 264.0,123.4 264.0,122.6 264.0,121.8 264.1,121.0 264.1,120.2 264.1,119.4 264.1,118.6 264.2,117.8 264.2,117.0 264.2,116.2 264.3,115.4 264.3,114.6 264.3,113.8 264.4,113.0 264.4,112.2 264.4,111.4 264.4,110.6 264.5,109.8 264.5,109.0 264.5,108.2 264.6,107.4 264.6,106.6 264.6,105.8 264.6,105.0 264.7,104.2 264.7,103.4 264.7,102.6 264.8,101.8 264.8,101.0 264.8,100.2 264.8,99.4 264.9,98.6 264.9,97.8 264.9,97.0 265.0,96.2 265.0,95.4 265.0,94.6 265.0,93.8 265.1,93.0 265.1,92.2 265.1,91.4 265.1,90.6 265.2,89.8 265.2,89.0 265.2,88.2 265.3,87.4 265.3,86.6 265.3,85.8 265.3,85.0 265.4,84.2 265.4,83.4 265.4,82.6 265.4,81.8 265.5,80.9 265.5,80.1 265.5,79.3 265.5,78.5 265.6,77.7 265.6,76.9 265.6,76.1 265.7,75.3 265.7,74.5 265.7,73.7 265.7,72.9 265.8,72.1 265.8,71.3 265.8,70.5 265.8,69.7 265.9,68.9 265.9,68.1 265.9,67.3 265.9,66.5 266.0,65.7 266.0,64.9 266.0,64.1 266.1,63.3 266.1,62.5 266.1,61.7 266.1,60.9 266.2,60.1 266.2,59.3 266.2,58.5 266.2,57.7 266.3,56.9 266.3,56.1 266.3,55.3 266.3,54.5 266.4,53.7 266.4,52.9 266.4,52.1 266.5,51.3 266.5,50.5 266.5,49.7 266.6,48.9 266.6,48.1 266.6,47.3 266.7,46.5 266.7,45.7 266.8,44.9 266.8,44.1 266.8,43.3 266.9,42.5 266.9,41.7 267.0,40.9 267.0,40.1 267.1,39.3 267.2,38.5 267.3,37.7 267.4,36.9 267.5,36.1 267.6,35.3 267.7,34.5 267.9,33.8 268.1,33.0 268.4,32.3 268.7,31.5 269.1,30.8 269.5,30.2 269.9,29.5 270.5,28.9 271.0,28.4 271.6,27.9 272.2,27.4 272.9,26.9 273.6,26.5 274.3,26.1 275.0,25.8 275.7,25.5 276.5,25.3 277.2,25.0 278.0,24.8 278.8,24.6 279.6,24.4 280.3,24.2 281.1,24.1 281.9,24.0 282.7,23.9 283.5,23.9 284.3,23.8 285.1,23.8 285.9,23.9 286.7,24.1 287.4,24.2 288.2,24.4 289.0,24.7 289.7,25.0 290.4,25.3 291.1,25.6 291.9,26.0 292.6,26.4 293.3,26.8 294.0,27.2 294.7,27.5 295.4,27.9 296.1,28.3 296.8,28.7 297.5,29.0 298.2,29.4 298.9,29.8 299.7,30.1 300.4,30.5 301.1,30.9 301.8,31.2 302.5,31.6 303.2,32.0 303.9,32.4 304.5,32.9 305.2,33.3 305.9,33.7 306.6,34.1 307.3,34.6 307.9,35.0 308.6,35.5 309.2,35.9 309.9,36.4 310.5,36.9 311.2,37.3 311.8,37.8 312.5,38.3 313.1,38.8 313.8,39.2 314.4,39.7 315.1,40.2 315.7,40.7 316.4,41.1 317.0,41.6 317.6,42.1 318.3,42.6 318.9,43.1 319.5,43.6 320.2,44.1 320.8,44.6 321.5,45.0 322.1,45.5 322.7,46.0 323.3,46.5 324.0,47.0 324.6,47.6 325.2,48.1 325.8,48.6 326.4,49.1 327.0,49.6 327.6,50.2 328.2,50.7 328.9,51.2 329.5,51.7 330.1,52.2 330.7,52.7 331.3,53.2 332.0,53.7 332.6,54.2 333.2,54.7 333.8,55.2 334.4,55.8 335.0,56.3 335.5,56.9 336.0,57.5 336.6,58.1 337.1,58.8 337.6,59.4 338.1,60.0 338.5,60.7 338.9,61.4 339.3,62.1 339.7,62.8 340.0,63.5 340.4,64.2 340.7,64.9 341.0,65.7 341.2,66.4 341.4,67.2 341.6,68.0 341.8,68.8 342.0,69.5 342.1,70.3 342.2,71.1 342.4,71.9 342.5,72.7" fill="none" stroke="#000000" stroke-width="1.4" stroke-linejoin="round" stroke-linecap="round"/><circle cx="342.80" cy="75.50" r="0.65" fill="#000000"/><circle cx="343.40" cy="80.10" r="0.65" fill="#000000"/><circle cx="344.00" cy="84.70" r="0.65" fill="#000000"/><circle cx="344.60" cy="89.30" r="0.65" fill="#000000"/><circle cx="345.20" cy="93.90" r="0.65" fill="#000000"/><circle cx="345.80" cy="98.50" r="0.65" fill="#000000"/><circle cx="346.40" cy="103.10" r="0.65" fill="#000000"/><circle cx="347.00" cy="107.70" r="0.65" fill="#000000"/><circle cx="347.60" cy="112.30" r="0.65" fill="#000000"/><circle cx="347.00" cy="74.50" r="0.65" fill="#000000"/><circle cx="347.62" cy="79.36" r="0.65" fill="#000000"/><circle cx="348.25" cy="84.22" r="0.65" fill="#000000"/><circle cx="348.88" cy="89.09" r="0.65" fill="#000000"/><circle cx="349.50" cy="93.95" r="0.65" fill="#000000"/><circle cx="350.12" cy="98.81" r="0.65" fill="#000000"/><circle cx="350.75" cy="103.68" r="0.65" fill="#000000"/><circle cx="351.38" cy="108.54" r="0.65" fill="#000000"/><circle cx="352.00" cy="113.40" r="0.65" fill="#000000"/><path d="M262.3,169.9 262.3,169.1 262.4,168.3 262.4,167.5 262.5,166.7 262.5,165.9 262.6,165.1 262.6,164.3 262.7,163.5 262.7,162.7 262.8,161.9 262.8,161.1 262.9,160.3 262.9,159.5 262.9,158.7 263.0,157.9 263.0,157.1 263.1,156.3 263.1,155.5 263.2,154.7 263.2,153.9 263.3,153.1 263.3,152.3 263.4,151.5 263.4,150.7 263.4,149.9 263.5,149.1 263.5,148.3 263.6,147.5 263.6,146.7 263.7,145.9 263.7,145.1 263.8,144.3 263.8,143.5 263.9,142.7 263.9,141.9 264.0,141.1 264.0,140.3 264.0,139.5 264.1,138.7 264.1,137.9 264.2,137.1 264.2,136.3 264.3,135.5 264.3,134.7 264.3,133.9 264.3,133.1 264.3,132.3 264.4,131.5 264.4,130.7 264.4,129.9 264.4,129.1 264.4,128.3 264.4,127.5 264.4,126.7 264.5,125.9 264.5,125.1 264.5,124.3 264.5,123.5 264.5,122.7 264.5,121.8 264.5,121.0 264.6,120.2 264.6,119.4 264.6,118.6 264.6,117.8 264.6,117.0 264.6,116.2 264.6,115.4 264.7,114.6 264.7,113.8 264.7,113.0 264.7,112.2 264.7,111.4 264.7,110.6 264.7,109.8 264.8,109.0 264.8,108.2 264.8,107.4 264.8,106.6 264.8,105.8 264.8,105.0 264.8,104.2 264.9,103.4 264.9,102.6 264.9,101.8 264.9,101.0 264.9,100.2 264.9,99.4 264.9,98.6 265.0,97.8 265.0,97.0 265.0,96.2 265.0,95.4 265.0,94.6 265.0,93.8 265.0,93.0 265.1,92.2 265.1,91.4 265.1,90.6 265.1,89.8 265.1,89.0 265.2,88.2 265.2,87.4 265.2,86.6 265.2,85.8 265.2,85.0 265.2,84.2 265.3,83.4 265.3,82.6 265.3,81.8 265.3,81.0 265.3,80.2 265.4,79.4 265.4,78.6 265.4,77.8 265.4,77.0 265.4,76.2 265.4,75.4 265.5,74.6 265.5,73.7 265.5,72.9 265.5,72.1 265.5,71.3 265.6,70.5 265.6,69.7 265.6,68.9 265.6,68.1 265.6,67.3 265.7,66.5 265.7,65.7 265.7,64.9 265.7,64.1 265.7,63.3 265.7,62.5 265.8,61.7 265.8,60.9 265.8,60.1 265.9,59.3 265.9,58.5 266.0,57.7 266.1,56.9 266.1,56.1 266.2,55.3 266.3,54.5 266.3,53.7 266.4,52.9 266.4,52.1 266.5,51.3 266.5,50.5 266.6,49.7 266.6,48.9 266.7,48.1 266.7,47.3 266.8,46.5 267.0,45.8 267.2,45.0 267.4,44.3 267.7,43.5 268.0,42.8 268.4,42.1 268.9,41.5 269.4,40.9 270.0,40.4 270.6,39.9 271.3,39.5 271.9,39.1 272.7,38.8 273.4,38.5 274.1,38.3 274.9,38.1 275.7,37.9 276.5,37.8 277.3,37.7 278.1,37.6 278.9,37.6 279.6,37.5 280.4,37.6 281.2,37.7 282.0,37.9 282.8,38.1 283.5,38.3 284.3,38.6 285.0,38.8 285.7,39.2 286.5,39.5 287.2,39.9 287.9,40.2 288.6,40.6 289.3,41.0 290.1,41.3 290.8,41.7 291.5,42.0 292.2,42.4 292.9,42.8 293.6,43.1 294.4,43.5 295.1,43.8 295.8,44.2 296.5,44.6 297.2,44.9 297.9,45.3 298.7,45.6 299.4,46.0 300.1,46.4 300.8,46.7 301.5,47.1 302.2,47.5 302.9,47.9 303.6,48.3 304.2,48.7 304.9,49.2 305.6,49.6 306.3,50.1 306.9,50.5 307.6,50.9 308.3,51.4 308.9,51.8 309.6,52.3 310.3,52.7 310.9,53.2 311.6,53.6 312.3,54.1 312.9,54.5 313.6,55.0 314.2,55.4 314.9,55.9 315.6,56.4 316.2,56.8 316.9,57.3 317.5,57.8 318.1,58.3 318.8,58.7 319.4,59.2 320.1,59.7 320.7,60.2 321.3,60.7 322.0,61.1 322.6,61.6 323.3,62.1 323.9,62.6 324.5,63.1 325.1,63.6 325.7,64.1 326.3,64.7 326.9,65.2 327.5,65.7 328.1,66.3 328.7,66.8 329.3,67.3 329.9,67.9 330.5,68.4 331.1,68.9 331.7,69.5 332.3,70.0 332.9,70.6 333.5,71.1 334.1,71.6 334.7,72.2 335.3,72.7 335.9,73.2 336.5,73.8 337.0,74.4 337.6,75.0 338.1,75.6 338.6,76.2 339.0,76.8 339.5,77.5 339.8,78.2 340.2,78.9 340.4,79.7 340.7,80.4 340.8,80.8" fill="none" stroke="#00008b" stroke-width="1.8" stroke-linejoin="round" stroke-linecap="round"/><path d="M262.8,169.9 262.8,169.1 262.9,168.3 262.9,167.5 263.0,166.7 263.0,165.9 263.1,165.1 263.1,164.3 263.2,163.5 263.2,162.7 263.3,161.9 263.3,161.1 263.4,160.3 263.4,159.5 263.4,158.7 263.5,157.9 263.5,157.1 263.6,156.3 263.6,155.5 263.7,154.7 263.7,153.9 263.8,153.1 263.8,152.3 263.9,151.5 263.9,150.7 263.9,149.9 264.0,149.1 264.0,148.3 264.1,147.5 264.1,146.7 264.2,145.9 264.2,145.1 264.3,144.3 264.3,143.5 264.4,142.7 264.4,141.8 264.5,141.0 264.5,140.2 264.5,139.4 264.6,138.6 264.6,137.8 264.7,137.0 264.7,136.2 264.8,135.4 264.8,134.6 264.8,133.8 264.8,133.0 264.9,132.2 264.9,131.4 264.9,130.6 264.9,129.8 264.9,129.0 264.9,128.2 265.0,127.4 265.0,126.6 265.0,125.8 265.0,125.0 265.0,124.2 265.0,123.4 265.0,122.6 265.1,121.8 265.1,121.0 265.1,120.2 265.1,119.4 265.1,118.6 265.1,117.8 265.2,117.0 265.2,116.2 265.2,115.4 265.2,114.6 265.2,113.8 265.2,113.0 265.3,112.2 265.3,111.4 265.3,110.6 265.3,109.8 265.3,109.0 265.3,108.2 265.4,107.3 265.4,106.5 265.4,105.7 265.4,104.9 265.4,104.1 265.4,103.3 265.4,102.5 265.5,101.7 265.5,100.9 265.5,100.1 265.5,99.3 265.5,98.5 265.5,97.7 265.6,96.9 265.6,96.1 265.6,95.3 265.6,94.5 265.6,93.7 265.7,92.9 265.7,92.1 265.7,91.3 265.7,90.5 265.8,89.7 265.8,88.9 265.8,88.1 265.8,87.3 265.8,86.5 265.9,85.7 265.9,84.9 265.9,84.1 265.9,83.3 266.0,82.5 266.0,81.7 266.0,80.9 266.0,80.1 266.0,79.3 266.1,78.5 266.1,77.7 266.1,76.9 266.1,76.1 266.2,75.2 266.2,74.4 266.2,73.6 266.2,72.8 266.3,72.0 266.3,71.2 266.3,70.4 266.3,69.6 266.3,68.8 266.4,68.0 266.4,67.2 266.4,66.4 266.4,65.6 266.5,64.8 266.5,64.0 266.5,63.2 266.5,62.4 266.6,61.6 266.6,60.8 266.6,60.0 266.7,59.2 266.8,58.4 266.8,57.6 266.9,56.8 267.0,56.0 267.1,55.2 267.2,54.4 267.2,53.6 267.3,52.8 267.4,52.0 267.5,51.2 267.6,50.4 267.8,49.6 267.9,48.8 268.0,48.1 268.2,47.3 268.4,46.5 268.6,45.7 268.9,45.0 269.2,44.3 269.7,43.7 270.1,43.0 270.7,42.5 271.3,41.9 271.9,41.5 272.5,41.0 273.2,40.6 273.9,40.3 274.7,40.1 275.5,39.9 276.2,39.8 277.0,39.6 277.8,39.5 278.6,39.5 279.4,39.4 280.2,39.4 281.0,39.5 281.8,39.6 282.6,39.7 283.3,39.9 284.1,40.1 284.9,40.4 285.6,40.7 286.3,41.0 287.1,41.3 287.8,41.6 288.5,42.0 289.3,42.3 290.0,42.6 290.7,43.0 291.4,43.3 292.2,43.7 292.9,44.0 293.6,44.3 294.4,44.7 295.1,45.0 295.8,45.4 296.5,45.7 297.3,46.1 298.0,46.4 298.7,46.7 299.4,47.1 300.2,47.4 300.9,47.8 301.6,48.2 302.3,48.5 303.0,48.9 303.7,49.3 304.4,49.7 305.1,50.1 305.8,50.6 306.4,51.0 307.1,51.4 307.8,51.8 308.5,52.3 309.1,52.7 309.8,53.2 310.5,53.6 311.2,54.0 311.8,54.5 312.5,54.9 313.2,55.4 313.8,55.8 314.5,56.2 315.2,56.7 315.8,57.1 316.5,57.6 317.1,58.1 317.8,58.6 318.4,59.0 319.1,59.5 319.7,60.0 320.4,60.5 321.0,60.9 321.7,61.4 322.3,61.9 322.9,62.4 323.6,62.9 324.2,63.4 324.8,63.9 325.4,64.4 326.1,64.9 326.7,65.4 327.3,66.0 327.9,66.5 328.5,67.1 329.0,67.6 329.6,68.1 330.2,68.7 330.8,69.2 331.4,69.7 332.0,70.3 332.6,70.8 333.2,71.3 333.8,71.9 334.4,72.4 335.0,73.0 335.6,73.5 336.2,74.0 336.8,74.6 337.3,75.2 337.9,75.7 338.4,76.3 338.9,77.0 339.4,77.6 339.9,78.2 340.3,78.9 340.6,79.6 340.9,80.4 341.2,81.1 341.3,81.5" fill="none" stroke="#00008b" stroke-width="1.5" stroke-linejoin="round" stroke-linecap="round"/><circle cx="340.60" cy="83.50" r="0.65" fill="#00008b"/><circle cx="341.26" cy="87.81" r="0.65" fill="#00008b"/><circle cx="341.93" cy="92.12" r="0.65" fill="#00008b"/><circle cx="342.59" cy="96.44" r="0.65" fill="#00008b"/><circle cx="343.25" cy="100.75" r="0.65" fill="#00008b"/><circle cx="343.91" cy="105.06" r="0.65" fill="#00008b"/><circle cx="344.57" cy="109.38" r="0.65" fill="#00008b"/><circle cx="345.24" cy="113.69" r="0.65" fill="#00008b"/><circle cx="345.90" cy="118.00" r="0.65" fill="#00008b"/><circle cx="341.60" cy="84.50" r="0.65" fill="#00008b"/><circle cx="341.99" cy="88.84" r="0.65" fill="#00008b"/><circle cx="342.38" cy="93.17" r="0.65" fill="#00008b"/><circle cx="342.76" cy="97.51" r="0.65" fill="#00008b"/><circle cx="343.15" cy="101.85" r="0.65" fill="#00008b"/><circle cx="343.54" cy="106.19" r="0.65" fill="#00008b"/><circle cx="343.93" cy="110.53" r="0.65" fill="#00008b"/><circle cx="344.31" cy="114.86" r="0.65" fill="#00008b"/><circle cx="344.70" cy="119.20" r="0.65" fill="#00008b"/><path d="M263.5,169.9 263.5,169.1 263.6,168.3 263.6,167.5 263.7,166.7 263.7,165.9 263.8,165.1 263.8,164.3 263.9,163.5 263.9,162.7 264.0,161.9 264.0,161.1 264.1,160.3 264.1,159.5 264.1,158.7 264.2,157.9 264.2,157.1 264.3,156.3 264.3,155.5 264.4,154.7 264.4,153.9 264.5,153.1 264.5,152.3 264.6,151.5 264.6,150.7 264.6,149.9 264.7,149.1 264.7,148.3 264.8,147.5 264.8,146.7 264.9,145.9 264.9,145.1 265.0,144.3 265.0,143.5 265.1,142.7 265.1,141.9 265.2,141.1 265.2,140.3 265.2,139.5 265.3,138.7 265.3,137.9 265.4,137.1 265.4,136.3 265.5,135.5 265.5,134.7 265.5,133.9 265.6,133.1 265.6,132.3 265.6,131.5 265.6,130.7 265.7,129.9 265.7,129.1 265.7,128.3 265.7,127.5 265.8,126.7 265.8,125.9 265.8,125.1 265.8,124.3 265.9,123.5 265.9,122.7 265.9,121.9 266.0,121.1 266.0,120.2 266.0,119.4 266.0,118.6 266.1,117.8 266.1,117.0 266.1,116.2 266.1,115.4 266.2,114.6 266.2,113.8 266.2,113.0 266.2,112.2 266.3,111.4 266.3,110.6 266.3,109.8 266.3,109.0 266.4,108.2 266.4,107.4 266.4,106.6 266.4,105.8 266.5,105.0 266.5,104.2 266.5,103.4 266.6,102.6 266.6,101.8 266.6,101.0 266.6,100.2 266.7,99.4 266.7,98.6 266.7,97.8 266.7,97.0 266.8,96.2 266.8,95.4 266.8,94.6 266.9,93.8 266.9,93.0 266.9,92.2 267.0,91.4 267.0,90.6 267.0,89.8 267.1,89.0 267.1,88.2 267.1,87.4 267.2,86.6 267.2,85.8 267.2,85.0 267.3,84.2 267.3,83.4 267.3,82.6 267.4,81.8 267.4,81.0 267.5,80.2 267.5,79.4 267.5,78.6 267.6,77.8 267.6,77.0 267.6,76.2 267.7,75.4 267.7,74.6 267.7,73.8 267.8,73.0 267.8,72.2 267.8,71.4 267.9,70.6 267.9,69.8 268.0,69.0 268.0,68.2 268.0,67.4 268.1,66.6 268.1,65.8 268.2,65.0 268.2,64.2 268.2,63.4 268.3,62.6 268.3,61.8 268.4,61.0 268.5,60.2 268.6,59.4 268.7,58.6 269.0,57.9 269.2,57.1 269.6,56.4 269.9,55.7 270.3,55.0 270.7,54.4 271.2,53.8 271.8,53.3 272.4,52.9 273.1,52.6 273.8,52.3 274.6,52.0 275.3,51.8 276.1,51.6 276.9,51.4 277.6,51.3 278.4,51.2 279.2,51.2 280.0,51.2 280.8,51.3 281.6,51.4 282.4,51.5 283.2,51.7 284.0,51.8 284.7,52.0 285.5,52.2 286.3,52.4 287.1,52.6 287.8,52.8 288.6,53.1 289.4,53.3 290.1,53.5 290.9,53.8 291.7,54.1 292.4,54.3 293.2,54.6 293.9,54.9 294.7,55.1 295.4,55.4 296.2,55.7 296.9,56.0 297.7,56.3 298.4,56.6 299.1,56.9 299.9,57.3 300.6,57.6 301.3,57.9 302.0,58.3 302.7,58.7 303.4,59.1 304.1,59.4 304.8,59.8 305.5,60.2 306.2,60.7 306.9,61.1 307.6,61.5 308.3,61.9 309.0,62.3 309.7,62.7 310.4,63.1 311.0,63.5 311.7,64.0 312.4,64.4 313.1,64.8 313.8,65.2 314.5,65.6 315.1,66.1 315.8,66.5 316.5,67.0 317.1,67.4 317.8,67.9 318.5,68.3 319.1,68.8 319.8,69.2 320.4,69.7 321.1,70.1 321.8,70.6 322.4,71.0 323.1,71.5 323.7,72.0 324.3,72.5 325.0,73.0 325.6,73.4 326.3,73.9 326.9,74.4 327.5,74.9 328.2,75.4 328.8,75.9 329.4,76.4 330.0,77.0 330.6,77.5 331.2,78.0 331.7,78.6 332.3,79.2 332.8,79.8 333.2,80.4 333.6,81.1 334.0,81.8 334.3,82.6 334.5,83.3 334.8,84.1 335.0,84.9 335.1,85.6 335.3,86.4 335.4,87.2 335.5,88.0" fill="none" stroke="#8b0000" stroke-width="1.6" stroke-linejoin="round" stroke-linecap="round"/><circle cx="335.60" cy="90.50" r="0.65" fill="#8b0000"/><circle cx="336.13" cy="94.69" r="0.65" fill="#8b0000"/><circle cx="336.66" cy="98.87" r="0.65" fill="#8b0000"/><circle cx="337.19" cy="103.06" r="0.65" fill="#8b0000"/><circle cx="337.71" cy="107.24" r="0.65" fill="#8b0000"/><circle cx="338.24" cy="111.43" r="0.65" fill="#8b0000"/><circle cx="338.77" cy="115.61" r="0.65" fill="#8b0000"/><circle cx="339.30" cy="119.80" r="0.65" fill="#8b0000"/></g>
<g><line x1="487.50" y1="14.50" x2="487.50" y2="169.90" stroke="#707070" stroke-width="1"/><line x1="484.50" y1="169.90" x2="681.00" y2="169.90" stroke="#a8a8a8" stroke-width="1.1"/><line x1="484.20" y1="169.90" x2="487.50" y2="169.90" stroke="#505050" stroke-width="0.8"/><text x="481.90" y="172.20" font-size="6.4" fill="#222" text-anchor="end" textLength="3.45" lengthAdjust="spacingAndGlyphs">0</text><line x1="486.10" y1="162.84" x2="487.50" y2="162.84" stroke="#505050" stroke-width="0.8"/><line x1="484.20" y1="155.77" x2="487.50" y2="155.77" stroke="#505050" stroke-width="0.8"/><text x="481.90" y="158.07" font-size="6.4" fill="#222" text-anchor="end" textLength="10.35" lengthAdjust="spacingAndGlyphs">100</text><line x1="486.10" y1="148.71" x2="487.50" y2="148.71" stroke="#505050" stroke-width="0.8"/><line x1="484.20" y1="141.65" x2="487.50" y2="141.65" stroke="#505050" stroke-width="0.8"/><text x="481.90" y="143.95" font-size="6.4" fill="#222" text-anchor="end" textLength="10.35" lengthAdjust="spacingAndGlyphs">200</text><line x1="486.10" y1="134.58" x2="487.50" y2="134.58" stroke="#505050" stroke-width="0.8"/><line x1="484.20" y1="127.52" x2="487.50" y2="127.52" stroke="#505050" stroke-width="0.8"/><text x="481.90" y="129.82" font-size="6.4" fill="#222" text-anchor="end" textLength="10.35" lengthAdjust="spacingAndGlyphs">300</text><line x1="486.10" y1="120.46" x2="487.50" y2="120.46" stroke="#505050" stroke-width="0.8"/><line x1="484.20" y1="113.39" x2="487.50" y2="113.39" stroke="#505050" stroke-width="0.8"/><text x="481.90" y="115.69" font-size="6.4" fill="#222" text-anchor="end" textLength="10.35" lengthAdjust="spacingAndGlyphs">400</text><line x1="486.10" y1="106.33" x2="487.50" y2="106.33" stroke="#505050" stroke-width="0.8"/><line x1="484.20" y1="99.27" x2="487.50" y2="99.27" stroke="#505050" stroke-width="0.8"/><text x="481.90" y="101.56" font-size="6.4" fill="#222" text-anchor="end" textLength="10.35" lengthAdjust="spacingAndGlyphs">500</text><line x1="486.10" y1="92.20" x2="487.50" y2="92.20" stroke="#505050" stroke-width="0.8"/><line x1="484.20" y1="85.14" x2="487.50" y2="85.14" stroke="#505050" stroke-width="0.8"/><text x="481.90" y="87.44" font-size="6.4" fill="#222" text-anchor="end" textLength="10.35" lengthAdjust="spacingAndGlyphs">600</text><line x1="486.10" y1="78.07" x2="487.50" y2="78.07" stroke="#505050" stroke-width="0.8"/><line x1="484.20" y1="71.01" x2="487.50" y2="71.01" stroke="#505050" stroke-width="0.8"/><text x="481.90" y="73.31" font-size="6.4" fill="#222" text-anchor="end" textLength="10.35" lengthAdjust="spacingAndGlyphs">700</text><line x1="486.10" y1="63.95" x2="487.50" y2="63.95" stroke="#505050" stroke-width="0.8"/><line x1="484.20" y1="56.88" x2="487.50" y2="56.88" stroke="#505050" stroke-width="0.8"/><text x="481.90" y="59.18" font-size="6.4" fill="#222" text-anchor="end" textLength="10.35" lengthAdjust="spacingAndGlyphs">800</text><line x1="486.10" y1="49.82" x2="487.50" y2="49.82" stroke="#505050" stroke-width="0.8"/><line x1="484.20" y1="42.76" x2="487.50" y2="42.76" stroke="#505050" stroke-width="0.8"/><text x="481.90" y="45.06" font-size="6.4" fill="#222" text-anchor="end" textLength="10.35" lengthAdjust="spacingAndGlyphs">900</text><line x1="486.10" y1="35.69" x2="487.50" y2="35.69" stroke="#505050" stroke-width="0.8"/><line x1="484.20" y1="28.63" x2="487.50" y2="28.63" stroke="#505050" stroke-width="0.8"/><text x="481.90" y="30.93" font-size="6.4" fill="#222" text-anchor="end" textLength="13.80" lengthAdjust="spacingAndGlyphs">1000</text><line x1="486.10" y1="21.57" x2="487.50" y2="21.57" stroke="#505050" stroke-width="0.8"/><line x1="484.20" y1="14.50" x2="487.50" y2="14.50" stroke="#505050" stroke-width="0.8"/><text x="481.90" y="16.80" font-size="6.4" fill="#222" text-anchor="end" textLength="13.80" lengthAdjust="spacingAndGlyphs">1100</text><line x1="487.50" y1="169.90" x2="487.50" y2="172.70" stroke="#505050" stroke-width="0.8"/><text x="487.50" y="180.30" font-size="6.4" fill="#222" text-anchor="middle" textLength="3.37" lengthAdjust="spacingAndGlyphs">0</text><line x1="506.80" y1="169.90" x2="506.80" y2="171.20" stroke="#505050" stroke-width="0.8"/><line x1="526.10" y1="169.90" x2="526.10" y2="172.70" stroke="#505050" stroke-width="0.8"/><text x="526.10" y="180.30" font-size="6.4" fill="#222" text-anchor="middle" textLength="3.37" lengthAdjust="spacingAndGlyphs">5</text><line x1="545.40" y1="169.90" x2="545.40" y2="171.20" stroke="#505050" stroke-width="0.8"/><line x1="564.70" y1="169.90" x2="564.70" y2="172.70" stroke="#505050" stroke-width="0.8"/><text x="564.70" y="180.30" font-size="6.4" fill="#222" text-anchor="middle" textLength="6.74" lengthAdjust="spacingAndGlyphs">10</text><line x1="584.00" y1="169.90" x2="584.00" y2="171.20" stroke="#505050" stroke-width="0.8"/><line x1="603.30" y1="169.90" x2="603.30" y2="172.70" stroke="#505050" stroke-width="0.8"/><text x="603.30" y="180.30" font-size="6.4" fill="#222" text-anchor="middle" textLength="6.74" lengthAdjust="spacingAndGlyphs">15</text><line x1="622.60" y1="169.90" x2="622.60" y2="171.20" stroke="#505050" stroke-width="0.8"/><line x1="641.90" y1="169.90" x2="641.90" y2="172.70" stroke="#505050" stroke-width="0.8"/><text x="641.90" y="180.30" font-size="6.4" fill="#222" text-anchor="middle" textLength="6.74" lengthAdjust="spacingAndGlyphs">20</text><line x1="661.20" y1="169.90" x2="661.20" y2="171.20" stroke="#505050" stroke-width="0.8"/><line x1="680.50" y1="169.90" x2="680.50" y2="172.70" stroke="#505050" stroke-width="0.8"/><text x="680.50" y="180.30" font-size="6.4" fill="#222" text-anchor="middle" textLength="6.74" lengthAdjust="spacingAndGlyphs">25</text><text x="584.10" y="191.50" font-size="8.1" fill="#222" text-anchor="middle" textLength="35.8" lengthAdjust="spacingAndGlyphs">Strain (%)</text><text transform="translate(464.10,91.40) rotate(-90)" font-size="8.3" fill="#222" text-anchor="middle" textLength="46.4" lengthAdjust="spacingAndGlyphs">Stress (MPa)</text><text x="453.10" y="7.60" font-size="9.9" fill="#222">(c)</text><text x="538.70" y="9.00" font-size="10" fill="#222" textLength="87.5" lengthAdjust="spacingAndGlyphs">416 °C and 110 dpa</text><rect x="633.50" y="26.10" width="2.5" height="2.5" fill="#000000"/><text x="667.10" y="31.30" font-size="10.2" fill="#222" text-anchor="end" textLength="22.8" lengthAdjust="spacingAndGlyphs">25 °C</text><rect x="633.50" y="34.85" width="2.5" height="2.5" fill="#00008b"/><text x="667.10" y="40.05" font-size="10.2" fill="#222" text-anchor="end" textLength="28.5" lengthAdjust="spacingAndGlyphs">200 °C</text><rect x="633.50" y="43.60" width="2.5" height="2.5" fill="#8b0000"/><text x="667.10" y="48.80" font-size="10.2" fill="#222" text-anchor="end" textLength="28.5" lengthAdjust="spacingAndGlyphs">400 °C</text><path d="M488.0,169.9 488.1,169.1 488.1,168.3 488.2,167.5 488.2,166.7 488.3,165.9 488.3,165.1 488.4,164.3 488.4,163.5 488.5,162.7 488.5,161.9 488.6,161.1 488.6,160.3 488.7,159.5 488.7,158.7 488.8,157.9 488.8,157.1 488.9,156.3 488.9,155.5 489.0,154.7 489.0,153.9 489.1,153.1 489.1,152.3 489.2,151.5 489.2,150.7 489.3,149.9 489.3,149.1 489.4,148.3 489.4,147.5 489.5,146.7 489.5,145.9 489.6,145.1 489.6,144.3 489.7,143.5 489.7,142.7 489.8,141.9 489.8,141.1 489.9,140.3 489.9,139.5 490.0,138.7 490.0,137.9 490.1,137.1 490.1,136.3 490.2,135.5 490.2,134.7 490.3,133.9 490.3,133.1 490.4,132.3 490.4,131.5 490.5,130.7 490.5,129.9 490.5,129.1 490.6,128.3 490.6,127.5 490.7,126.7 490.7,125.9 490.7,125.1 490.8,124.3 490.8,123.5 490.9,122.7 490.9,121.9 490.9,121.1 491.0,120.3 491.0,119.5 491.0,118.7 491.1,117.9 491.1,117.1 491.2,116.3 491.2,115.5 491.2,114.7 491.3,113.9 491.3,113.1 491.3,112.3 491.4,111.5 491.4,110.7 491.5,109.9 491.5,109.1 491.5,108.3 491.6,107.5 491.6,106.7 491.7,105.9 491.7,105.1 491.7,104.3 491.7,103.5 491.8,102.7 491.8,101.9 491.8,101.1 491.8,100.3 491.9,99.5 491.9,98.7 491.9,97.9 491.9,97.1 492.0,96.3 492.0,95.5 492.0,94.7 492.0,93.9 492.1,93.1 492.1,92.3 492.1,91.5 492.1,90.7 492.2,89.9 492.2,89.1 492.2,88.3 492.2,87.5 492.3,86.7 492.3,85.9 492.3,85.1 492.3,84.3 492.3,83.5 492.4,82.7 492.4,81.9 492.4,81.1 492.4,80.3 492.5,79.5 492.5,78.7 492.5,77.9 492.5,77.1 492.6,76.2 492.6,75.4 492.6,74.6 492.6,73.8 492.7,73.0 492.7,72.2 492.7,71.4 492.7,70.6 492.7,69.8 492.8,69.0 492.8,68.2 492.8,67.4 492.8,66.6 492.8,65.8 492.9,65.0 492.9,64.2 492.9,63.4 492.9,62.6 493.0,61.8 493.0,61.0 493.0,60.2 493.0,59.4 493.1,58.6 493.1,57.8 493.2,57.0 493.2,56.2 493.3,55.4 493.3,54.6 493.4,53.8 493.4,53.0 493.5,52.2 493.6,51.4 493.8,50.7 494.0,49.9 494.2,49.1 494.4,48.4 494.7,47.6 495.0,46.9 495.4,46.2 495.8,45.5 496.3,44.9 496.8,44.3 497.3,43.7 497.9,43.1 498.5,42.6 499.1,42.1 499.7,41.5 500.2,41.0 500.8,40.5 501.4,39.9 502.0,39.3 502.5,38.7 503.1,38.2 503.7,37.6 504.3,37.1 504.9,36.7 505.6,36.2 506.3,35.8 506.9,35.4 507.6,35.0 508.3,34.6 509.0,34.2 509.7,33.8 510.5,33.5 511.2,33.2 512.0,33.0 512.7,32.7 513.5,32.5 514.2,32.3 515.0,32.0 515.8,31.8 516.6,31.6 517.3,31.4 518.1,31.3 518.9,31.1 519.7,31.0 520.5,31.0 521.3,30.9 522.1,30.9 522.9,30.9 523.7,30.9 524.5,31.0 525.3,31.0 526.1,31.2 526.8,31.3 527.6,31.5 528.4,31.7 529.2,31.9 529.9,32.2 530.7,32.4 531.4,32.7 532.2,33.1 532.9,33.4 533.6,33.7 534.4,34.0 535.1,34.3 535.8,34.7 536.6,35.0 537.3,35.3 538.0,35.6 538.7,36.0 539.5,36.3 540.2,36.7 540.9,37.0 541.6,37.4 542.3,37.7 543.0,38.1 543.8,38.5 544.5,38.9 545.2,39.2 545.9,39.6 546.6,40.0 547.3,40.4 548.0,40.8 548.7,41.2 549.4,41.5 550.1,41.9 550.8,42.3 551.5,42.7 552.2,43.1 552.9,43.5 553.6,43.9 554.3,44.3 555.0,44.7 555.6,45.1 556.3,45.6 557.0,46.0 557.7,46.4 558.3,46.9 559.0,47.3 559.7,47.7 560.4,48.2 561.0,48.6 561.7,49.1 562.4,49.5 563.0,50.0 563.7,50.4 564.3,50.9 565.0,51.4 565.6,51.9 566.2,52.4 566.9,52.8 567.5,53.3 568.2,53.8 568.8,54.3 569.4,54.8 570.1,55.3 570.7,55.8 571.3,56.3 571.9,56.8 572.5,57.3 573.1,57.8 573.8,58.3 574.4,58.9 575.0,59.4 575.6,59.9 576.2,60.4 576.8,60.9 577.4,61.5 578.0,62.0 578.6,62.5 579.2,63.1 579.8,63.6 580.4,64.2 580.9,64.8 581.4,65.4 581.9,66.0 582.3,66.6 582.8,67.3 583.1,68.0 583.5,68.7 583.8,69.5 584.0,70.2 584.3,71.0 584.4,71.8 584.6,72.5 584.8,73.3 584.9,74.1 585.0,74.9 585.1,75.7 585.2,76.5 585.2,77.3 585.3,78.1 585.3,78.5" fill="none" stroke="#000000" stroke-width="1.5" stroke-linejoin="round" stroke-linecap="round"/><path d="M488.5,169.9 488.6,169.1 488.6,168.3 488.7,167.5 488.7,166.7 488.8,165.9 488.8,165.1 488.9,164.3 488.9,163.5 489.0,162.7 489.0,161.9 489.1,161.1 489.1,160.3 489.2,159.5 489.2,158.7 489.3,157.9 489.3,157.1 489.4,156.3 489.4,155.5 489.5,154.7 489.5,153.9 489.6,153.1 489.6,152.3 489.7,151.5 489.7,150.7 489.8,149.9 489.8,149.1 489.9,148.3 489.9,147.5 490.0,146.7 490.0,145.9 490.1,145.1 490.1,144.3 490.2,143.5 490.2,142.7 490.3,141.9 490.3,141.1 490.4,140.3 490.4,139.5 490.5,138.7 490.5,137.9 490.6,137.1 490.6,136.3 490.7,135.5 490.7,134.7 490.8,133.9 490.8,133.1 490.9,132.3 490.9,131.5 491.0,130.7 491.0,129.9 491.1,129.1 491.1,128.3 491.2,127.5 491.2,126.7 491.2,125.9 491.3,125.1 491.3,124.3 491.4,123.5 491.4,122.7 491.5,121.9 491.5,121.1 491.6,120.3 491.6,119.5 491.7,118.7 491.7,117.9 491.8,117.1 491.8,116.3 491.9,115.5 491.9,114.7 492.0,113.9 492.0,113.1 492.1,112.3 492.1,111.5 492.2,110.7 492.2,109.9 492.3,109.1 492.3,108.3 492.4,107.5 492.4,106.7 492.5,105.9 492.5,105.1 492.6,104.3 492.6,103.5 492.7,102.7 492.8,101.9 492.8,101.1 492.9,100.3 492.9,99.5 493.0,98.7 493.1,97.9 493.1,97.1 493.2,96.3 493.3,95.5 493.3,94.7 493.4,93.9 493.5,93.1 493.5,92.3 493.6,91.5 493.6,90.7 493.7,89.9 493.8,89.1 493.8,88.3 493.9,87.5 494.0,86.7 494.0,85.9 494.1,85.1 494.2,84.3 494.2,83.5 494.3,82.7 494.4,81.9 494.4,81.1 494.5,80.3 494.6,79.5 494.6,78.7 494.7,77.9 494.8,77.1 494.9,76.3 495.0,75.5 495.0,74.7 495.1,73.9 495.2,73.1 495.3,72.3 495.3,71.5 495.4,70.7 495.5,69.9 495.5,69.1 495.5,68.3 495.6,67.5 495.6,66.7 495.6,65.9 495.6,65.1 495.7,64.3 495.7,63.5 495.7,62.7 495.7,61.9 495.8,61.1 495.8,60.3 495.8,59.5 495.9,58.7 495.9,57.9 495.9,57.1 496.0,56.3 496.0,55.5 496.1,54.7 496.1,53.9 496.2,53.1 496.2,52.3 496.3,51.5 496.3,50.7 496.4,49.9 496.5,49.1 496.7,48.3 496.8,47.5 497.1,46.8 497.3,46.0 497.7,45.3 498.0,44.6 498.5,44.0 498.9,43.3 499.4,42.7 500.0,42.1 500.5,41.5 501.0,40.9 501.6,40.3 502.2,39.8 502.8,39.3 503.4,38.9 504.1,38.5 504.8,38.1 505.5,37.7 506.2,37.4 507.0,37.0 507.7,36.7 508.4,36.4 509.2,36.1 509.9,35.9 510.7,35.7 511.5,35.5 512.3,35.3 513.1,35.1 513.8,34.9 514.6,34.7 515.4,34.6 516.2,34.5 517.0,34.5 517.8,34.5 518.6,34.5 519.4,34.5 520.2,34.6 521.0,34.7 521.7,34.8 522.5,34.9 523.3,35.1 524.1,35.2 524.9,35.4 525.7,35.6 526.5,35.7 527.2,35.9 528.0,36.2 528.8,36.4 529.5,36.6 530.3,36.9 531.1,37.2 531.8,37.4 532.5,37.7 533.3,38.0 534.0,38.4 534.7,38.7 535.5,39.1 536.2,39.4 536.9,39.8 537.6,40.1 538.3,40.5 539.1,40.8 539.8,41.2 540.5,41.6 541.2,42.0 541.9,42.4 542.5,42.8 543.2,43.2 543.9,43.6 544.6,44.1 545.3,44.5 546.0,44.9 546.7,45.3 547.3,45.7 548.0,46.2 548.7,46.6 549.4,47.0 550.1,47.4 550.7,47.8 551.4,48.3 552.1,48.7 552.8,49.1 553.5,49.5 554.1,50.0 554.8,50.4 555.5,50.8 556.2,51.2 556.9,51.6 557.6,52.0 558.3,52.5 559.0,52.9 559.6,53.3 560.3,53.7 561.0,54.1 561.7,54.5 562.4,55.0 563.0,55.4 563.7,55.9 564.3,56.4 564.9,56.9 565.6,57.4 566.2,57.9 566.8,58.4 567.5,58.9 568.1,59.4 568.7,59.9 569.3,60.4 569.9,60.9 570.6,61.4 571.2,61.9 571.8,62.5 572.4,63.0 573.0,63.5 573.5,64.1 574.1,64.6 574.7,65.1 575.3,65.7 575.9,66.2 576.5,66.8 577.1,67.3 577.6,67.9 578.1,68.6 578.6,69.2 579.0,69.9 579.4,70.5 579.8,71.3 580.1,72.0 580.4,72.7 580.6,73.5 580.8,74.2 581.0,75.0 581.1,75.8 581.1,76.6 581.2,77.4 581.2,78.2 581.3,79.0 581.3,79.4" fill="none" stroke="#000000" stroke-width="1.5" stroke-linejoin="round" stroke-linecap="round"/><circle cx="581.60" cy="81.80" r="0.65" fill="#000000"/><circle cx="582.15" cy="86.20" r="0.65" fill="#000000"/><circle cx="582.70" cy="90.60" r="0.65" fill="#000000"/><circle cx="583.25" cy="95.00" r="0.65" fill="#000000"/><circle cx="583.80" cy="99.40" r="0.65" fill="#000000"/><circle cx="584.35" cy="103.80" r="0.65" fill="#000000"/><circle cx="584.90" cy="108.20" r="0.65" fill="#000000"/><circle cx="585.45" cy="112.60" r="0.65" fill="#000000"/><circle cx="586.00" cy="117.00" r="0.65" fill="#000000"/><circle cx="585.80" cy="81.50" r="0.65" fill="#000000"/><circle cx="586.39" cy="86.43" r="0.65" fill="#000000"/><circle cx="586.97" cy="91.36" r="0.65" fill="#000000"/><circle cx="587.56" cy="96.29" r="0.65" fill="#000000"/><circle cx="588.14" cy="101.21" r="0.65" fill="#000000"/><circle cx="588.73" cy="106.14" r="0.65" fill="#000000"/><circle cx="589.31" cy="111.07" r="0.65" fill="#000000"/><circle cx="589.90" cy="116.00" r="0.65" fill="#000000"/><path d="M488.3,169.9 488.4,169.1 488.4,168.3 488.5,167.5 488.5,166.7 488.6,165.9 488.6,165.1 488.7,164.3 488.7,163.5 488.8,162.7 488.8,161.9 488.9,161.1 488.9,160.3 489.0,159.5 489.1,158.7 489.1,157.9 489.2,157.1 489.2,156.3 489.3,155.5 489.3,154.7 489.4,153.9 489.4,153.1 489.5,152.3 489.5,151.5 489.6,150.7 489.7,149.9 489.7,149.1 489.8,148.3 489.8,147.5 489.9,146.7 489.9,145.9 490.0,145.1 490.0,144.3 490.1,143.5 490.1,142.7 490.2,141.9 490.2,141.1 490.3,140.3 490.4,139.5 490.4,138.7 490.5,137.9 490.5,137.1 490.6,136.3 490.6,135.5 490.7,134.7 490.7,133.9 490.8,133.1 490.8,132.3 490.9,131.5 491.0,130.7 491.0,129.9 491.1,129.1 491.1,128.3 491.2,127.5 491.2,126.7 491.2,125.9 491.3,125.1 491.3,124.3 491.4,123.5 491.4,122.7 491.5,121.9 491.5,121.1 491.6,120.3 491.6,119.5 491.7,118.7 491.7,117.9 491.8,117.1 491.8,116.3 491.9,115.5 491.9,114.7 492.0,113.9 492.0,113.1 492.1,112.3 492.1,111.5 492.2,110.7 492.2,109.9 492.3,109.1 492.3,108.3 492.4,107.5 492.4,106.7 492.5,105.9 492.5,105.1 492.6,104.3 492.6,103.5 492.7,102.7 492.7,101.9 492.8,101.1 492.9,100.3 492.9,99.5 493.0,98.7 493.0,97.9 493.1,97.1 493.2,96.3 493.2,95.5 493.3,94.7 493.3,93.9 493.4,93.1 493.5,92.3 493.5,91.5 493.6,90.7 493.6,89.9 493.7,89.1 493.8,88.3 493.8,87.5 493.9,86.7 493.9,85.9 494.0,85.1 494.0,84.3 494.1,83.5 494.2,82.7 494.2,81.9 494.3,81.1 494.3,80.3 494.4,79.5 494.4,78.7 494.5,77.9 494.5,77.1 494.6,76.3 494.6,75.5 494.7,74.7 494.7,73.9 494.8,73.1 494.9,72.3 494.9,71.5 495.0,70.7 495.0,69.9 495.1,69.1 495.2,68.3 495.3,67.5 495.4,66.7 495.5,65.9 495.7,65.1 495.9,64.3 496.1,63.6 496.3,62.8 496.5,62.0 496.7,61.2 497.0,60.5 497.2,59.7 497.5,59.0 497.9,58.3 498.3,57.7 498.8,57.0 499.3,56.5 499.9,56.0 500.5,55.4 501.1,55.0 501.8,54.5 502.4,54.1 503.2,53.8 503.9,53.5 504.7,53.3 505.4,53.1 506.2,52.9 507.0,52.8 507.8,52.7 508.6,52.6 509.4,52.5 510.2,52.4 511.0,52.4 511.8,52.4 512.5,52.5 513.3,52.6 514.1,52.7 514.9,53.0 515.6,53.2 516.4,53.4 517.1,53.7 517.9,54.0 518.6,54.3 519.3,54.7 520.0,55.1 520.7,55.5 521.4,55.9 522.1,56.3 522.8,56.7 523.5,57.1 524.2,57.5 524.8,58.0 525.5,58.4 526.2,58.9 526.8,59.3 527.4,59.8 528.0,60.4 528.6,61.0 529.1,61.5 529.6,62.1 530.2,62.7 530.7,63.3 531.2,64.0 531.7,64.6 532.2,65.2 532.6,65.9 533.1,66.5 533.5,67.2 533.9,67.9 534.3,68.6 534.7,69.3 535.0,70.0 535.4,70.8 535.6,71.5 535.9,72.3 536.1,73.0 536.2,73.8 536.3,74.6 536.4,75.4 536.4,75.8" fill="none" stroke="#00008b" stroke-width="1.5" stroke-linejoin="round" stroke-linecap="round"/><circle cx="536.60" cy="78.50" r="0.65" fill="#00008b"/><circle cx="536.79" cy="82.84" r="0.65" fill="#00008b"/><circle cx="536.98" cy="87.17" r="0.65" fill="#00008b"/><circle cx="537.16" cy="91.51" r="0.65" fill="#00008b"/><circle cx="537.35" cy="95.85" r="0.65" fill="#00008b"/><circle cx="537.54" cy="100.19" r="0.65" fill="#00008b"/><circle cx="537.73" cy="104.53" r="0.65" fill="#00008b"/><circle cx="537.91" cy="108.86" r="0.65" fill="#00008b"/><circle cx="538.10" cy="113.20" r="0.65" fill="#00008b"/><path d="M488.0,169.9 488.1,169.1 488.1,168.3 488.2,167.5 488.2,166.7 488.3,165.9 488.3,165.1 488.4,164.3 488.4,163.5 488.5,162.7 488.5,161.9 488.6,161.1 488.6,160.3 488.7,159.5 488.7,158.7 488.8,157.9 488.8,157.1 488.9,156.3 488.9,155.5 489.0,154.7 489.0,153.9 489.1,153.1 489.1,152.3 489.2,151.5 489.2,150.7 489.3,149.9 489.3,149.1 489.4,148.3 489.4,147.5 489.5,146.7 489.5,145.9 489.6,145.1 489.6,144.3 489.7,143.5 489.7,142.7 489.8,141.9 489.8,141.1 489.9,140.3 489.9,139.5 490.0,138.7 490.0,137.9 490.1,137.1 490.1,136.3 490.2,135.5 490.2,134.7 490.3,133.9 490.3,133.1 490.4,132.3 490.4,131.5 490.5,130.7 490.5,129.9 490.5,129.1 490.6,128.3 490.6,127.5 490.7,126.7 490.7,125.9 490.7,125.1 490.8,124.3 490.8,123.5 490.9,122.7 490.9,121.9 490.9,121.1 491.0,120.3 491.0,119.5 491.0,118.7 491.1,117.8 491.1,117.0 491.2,116.2 491.2,115.4 491.2,114.6 491.3,113.8 491.3,113.0 491.4,112.2 491.4,111.4 491.4,110.6 491.5,109.8 491.5,109.0 491.5,108.2 491.6,107.4 491.6,106.6 491.7,105.8 491.7,105.0 491.7,104.2 491.8,103.4 491.8,102.6 491.8,101.8 491.9,101.0 491.9,100.2 491.9,99.4 492.0,98.6 492.0,97.8 492.0,97.0 492.1,96.2 492.1,95.4 492.1,94.6 492.1,93.8 492.2,93.0 492.2,92.2 492.2,91.4 492.3,90.6 492.3,89.8 492.3,89.0 492.4,88.2 492.4,87.4 492.4,86.6 492.5,85.8 492.5,85.0 492.6,84.2 492.6,83.4 492.6,82.6 492.7,81.8 492.7,81.0 492.8,80.2 492.8,79.4 492.9,78.6 492.9,77.8 493.0,77.0 493.0,76.2 493.1,75.4 493.1,74.6 493.2,73.8 493.2,73.0 493.3,72.2 493.3,71.4 493.4,70.6 493.5,69.8 493.6,69.0 493.6,68.2 493.7,67.4 493.8,66.6 494.0,65.8 494.1,65.0 494.2,64.2 494.4,63.5 494.6,62.7 494.9,62.0 495.2,61.2 495.6,60.5 496.0,59.9 496.5,59.2 497.0,58.6 497.5,58.0 498.0,57.4 498.6,56.8 499.2,56.3 499.7,55.7 500.3,55.1 500.9,54.6 501.5,54.1 502.1,53.5 502.7,53.0 503.4,52.6 504.0,52.1 504.7,51.7 505.4,51.3 506.1,50.9 506.8,50.5 507.5,50.1 508.2,49.7 508.9,49.3 509.6,48.9 510.3,48.6 511.0,48.3 511.8,48.1 512.6,47.9 513.3,47.7 514.1,47.5 514.9,47.3 515.7,47.1 516.5,46.9 517.2,46.7 518.0,46.6 518.8,46.5 519.6,46.5 520.4,46.5 521.2,46.5 522.0,46.5 522.8,46.6 523.6,46.7 524.4,46.9 525.1,47.1 525.9,47.3 526.7,47.5 527.5,47.7 528.2,48.0 529.0,48.3 529.7,48.6 530.5,48.8 531.2,49.1 531.9,49.4 532.7,49.8 533.4,50.1 534.1,50.4 534.9,50.8 535.6,51.1 536.3,51.5 537.0,51.8 537.7,52.2 538.5,52.5 539.2,52.9 539.9,53.3 540.6,53.7 541.3,54.1 542.0,54.5 542.7,54.9 543.4,55.3 544.0,55.7 544.7,56.1 545.4,56.6 546.1,57.0 546.8,57.4 547.5,57.8 548.1,58.2 548.8,58.7 549.5,59.1 550.2,59.5 550.9,59.9 551.5,60.3 552.2,60.8 552.9,61.2 553.6,61.6 554.3,62.0 554.9,62.5 555.6,62.9 556.3,63.4 557.0,63.8 557.6,64.3 558.3,64.7 558.9,65.2 559.6,65.6 560.3,66.1 560.9,66.5 561.6,67.0 562.3,67.4 562.9,67.8 563.6,68.3 564.2,68.8 564.9,69.3 565.5,69.8 566.0,70.4 566.6,70.9 567.1,71.5 567.7,72.1 568.2,72.7 568.8,73.3 569.3,73.9 569.8,74.5 570.3,75.1 570.8,75.8 571.2,76.4 571.7,77.1 572.1,77.8 572.4,78.5 572.7,79.2 572.9,80.0 573.1,80.8 573.3,81.5 573.4,82.3 573.5,83.1 573.6,83.9 573.6,84.3" fill="none" stroke="#00008b" stroke-width="1.5" stroke-linejoin="round" stroke-linecap="round"/><circle cx="574.00" cy="86.80" r="0.65" fill="#00008b"/><circle cx="574.51" cy="91.14" r="0.65" fill="#00008b"/><circle cx="575.03" cy="95.49" r="0.65" fill="#00008b"/><circle cx="575.54" cy="99.83" r="0.65" fill="#00008b"/><circle cx="576.06" cy="104.17" r="0.65" fill="#00008b"/><circle cx="576.57" cy="108.51" r="0.65" fill="#00008b"/><circle cx="577.09" cy="112.86" r="0.65" fill="#00008b"/><circle cx="577.60" cy="117.20" r="0.65" fill="#00008b"/><path d="M489.0,169.9 489.1,169.1 489.1,168.3 489.2,167.5 489.3,166.7 489.4,165.9 489.4,165.1 489.5,164.3 489.6,163.5 489.6,162.7 489.7,161.9 489.8,161.1 489.8,160.3 489.9,159.5 490.0,158.7 490.1,157.9 490.1,157.1 490.2,156.3 490.3,155.5 490.3,154.7 490.4,153.9 490.5,153.1 490.5,152.3 490.6,151.5 490.7,150.7 490.8,149.9 490.8,149.1 490.9,148.3 491.0,147.5 491.0,146.7 491.1,145.9 491.2,145.1 491.2,144.3 491.3,143.5 491.4,142.7 491.5,141.9 491.5,141.1 491.6,140.3 491.7,139.5 491.7,138.7 491.8,137.9 491.9,137.1 491.9,136.3 492.0,135.5 492.1,134.7 492.2,133.9 492.2,133.1 492.3,132.3 492.4,131.5 492.4,130.7 492.5,129.9 492.5,129.1 492.5,128.3 492.6,127.5 492.6,126.7 492.6,125.9 492.6,125.1 492.7,124.3 492.7,123.5 492.7,122.7 492.7,121.9 492.7,121.1 492.8,120.3 492.8,119.5 492.8,118.7 492.8,117.9 492.9,117.1 492.9,116.3 492.9,115.5 492.9,114.7 493.0,113.9 493.0,113.1 493.0,112.3 493.0,111.5 493.0,110.6 493.1,109.8 493.1,109.0 493.1,108.2 493.1,107.4 493.2,106.6 493.2,105.8 493.2,105.0 493.2,104.2 493.3,103.4 493.3,102.6 493.4,101.8 493.4,101.0 493.4,100.2 493.5,99.4 493.5,98.6 493.6,97.8 493.6,97.0 493.7,96.2 493.7,95.4 493.7,94.6 493.8,93.8 493.8,93.0 493.9,92.2 493.9,91.4 493.9,90.6 494.0,89.8 494.0,89.0 494.1,88.2 494.1,87.4 494.2,86.6 494.2,85.8 494.2,85.0 494.3,84.2 494.3,83.4 494.4,82.6 494.4,81.8 494.5,81.0 494.5,80.2 494.6,79.4 494.7,78.6 494.8,77.8 494.9,77.0 495.0,76.2 495.1,75.4 495.2,74.6 495.3,73.8 495.4,73.0 495.6,72.2 495.7,71.4 495.9,70.7 496.1,69.9 496.4,69.1 496.6,68.4 496.9,67.7 497.3,67.0 497.8,66.3 498.3,65.7 498.8,65.1 499.4,64.6 499.9,64.0 500.6,63.5 501.2,63.1 501.9,62.6 502.6,62.3 503.3,61.9 504.0,61.5 504.7,61.2 505.4,60.9 506.2,60.6 506.9,60.3 507.7,60.1 508.5,60.0 509.3,59.8 510.1,59.7 510.9,59.5 511.6,59.4 512.4,59.4 513.2,59.3 514.0,59.3 514.8,59.4 515.6,59.4 516.4,59.4 517.2,59.5 518.0,59.6 518.8,59.7 519.6,59.8 520.4,59.9 521.2,60.1 522.0,60.3 522.8,60.5 523.5,60.6 524.3,60.8 525.1,61.0 525.9,61.3 526.6,61.5 527.4,61.7 528.1,62.0 528.9,62.3 529.6,62.6 530.3,63.0 531.1,63.3 531.8,63.6 532.5,63.9 533.3,64.3 534.0,64.6 534.7,65.0 535.5,65.3 536.2,65.6 536.9,66.0 537.6,66.3 538.4,66.7 539.1,67.0 539.8,67.4 540.5,67.7 541.3,68.1 542.0,68.4 542.7,68.8 543.4,69.2 544.1,69.6 544.8,70.0 545.5,70.3 546.2,70.7 546.9,71.1 547.6,71.5 548.3,71.9 549.0,72.4 549.6,72.8 550.3,73.2 551.0,73.7 551.7,74.1 552.3,74.5 553.0,75.0 553.7,75.4 554.4,75.9 555.0,76.3 555.7,76.8 556.3,77.2 557.0,77.7 557.6,78.2 558.2,78.7 558.9,79.2 559.5,79.7 560.1,80.2 560.7,80.7 561.3,81.2 561.9,81.8 562.5,82.4 563.0,83.0 563.5,83.6 564.0,84.2 564.5,84.8 564.9,85.5 565.3,86.2 565.6,86.9 565.9,87.6 566.2,88.4 566.4,89.2 566.7,89.9 566.9,90.7 567.1,91.5 567.3,92.2 567.4,93.0 567.6,93.8 567.7,94.6 567.8,95.0" fill="none" stroke="#8b0000" stroke-width="1.5" stroke-linejoin="round" stroke-linecap="round"/><circle cx="568.00" cy="97.50" r="0.65" fill="#8b0000"/><circle cx="568.49" cy="101.49" r="0.65" fill="#8b0000"/><circle cx="568.97" cy="105.47" r="0.65" fill="#8b0000"/><circle cx="569.46" cy="109.46" r="0.65" fill="#8b0000"/><circle cx="569.94" cy="113.44" r="0.65" fill="#8b0000"/><circle cx="570.43" cy="117.43" r="0.65" fill="#8b0000"/><circle cx="570.91" cy="121.41" r="0.65" fill="#8b0000"/><circle cx="571.40" cy="125.40" r="0.65" fill="#8b0000"/><path d="M489.3,169.9 489.4,169.1 489.4,168.3 489.5,167.5 489.6,166.7 489.7,165.9 489.7,165.1 489.8,164.3 489.9,163.5 489.9,162.7 490.0,161.9 490.1,161.1 490.1,160.3 490.2,159.5 490.3,158.7 490.4,157.9 490.4,157.1 490.5,156.3 490.6,155.5 490.6,154.7 490.7,153.9 490.8,153.1 490.8,152.3 490.9,151.5 491.0,150.7 491.1,149.9 491.1,149.1 491.2,148.3 491.3,147.5 491.3,146.7 491.4,145.9 491.5,145.1 491.5,144.3 491.6,143.5 491.7,142.7 491.8,141.9 491.8,141.1 491.9,140.3 492.0,139.5 492.0,138.7 492.1,137.9 492.2,137.1 492.2,136.3 492.3,135.5 492.4,134.7 492.5,133.9 492.5,133.1 492.6,132.3 492.7,131.5 492.7,130.7 492.8,129.9 492.8,129.1 492.8,128.3 492.9,127.5 492.9,126.7 492.9,125.9 493.0,125.1 493.0,124.3 493.0,123.5 493.0,122.7 493.1,121.9 493.1,121.1 493.1,120.3 493.1,119.5 493.2,118.7 493.2,117.9 493.2,117.1 493.2,116.3 493.3,115.5 493.3,114.7 493.3,113.9 493.3,113.1 493.4,112.3 493.4,111.5 493.4,110.7 493.4,109.9 493.5,109.1 493.5,108.3 493.5,107.5 493.5,106.7 493.6,105.9 493.6,105.1 493.7,104.3 493.7,103.5 493.7,102.7 493.8,101.9 493.8,101.1 493.9,100.3 493.9,99.5 494.0,98.7 494.0,97.9 494.1,97.1 494.1,96.3 494.2,95.5 494.2,94.7 494.3,93.9 494.3,93.1 494.4,92.3 494.4,91.5 494.5,90.7 494.5,89.9 494.6,89.1 494.6,88.3 494.7,87.5 494.7,86.7 494.8,85.9 494.8,85.1 494.9,84.3 494.9,83.5 495.0,82.7 495.1,81.9 495.2,81.1 495.3,80.3 495.4,79.5 495.5,78.7 495.6,77.9 495.7,77.1 495.8,76.3 496.0,75.5 496.1,74.7 496.3,73.9 496.4,73.2 496.6,72.4 496.9,71.6 497.2,70.9 497.5,70.2 498.0,69.6 498.5,69.0 499.0,68.4 499.5,67.8 500.1,67.3 500.7,66.8 501.3,66.3 502.0,65.8 502.7,65.4 503.4,65.1 504.1,64.7 504.8,64.4 505.6,64.1 506.3,63.8 507.1,63.6 507.8,63.4 508.6,63.3 509.4,63.1 510.2,63.0 511.0,62.9 511.8,62.9 512.6,62.8 513.4,62.8 514.2,62.8 515.0,62.9 515.8,62.9 516.6,63.0 517.4,63.0 518.2,63.1 519.0,63.2 519.8,63.3 520.6,63.5 521.3,63.7 522.1,63.9 522.9,64.1 523.7,64.3 524.4,64.5 525.2,64.7 526.0,65.0 526.7,65.2 527.5,65.5 528.2,65.8 529.0,66.1 529.7,66.4 530.4,66.8 531.1,67.1 531.9,67.4 532.6,67.8 533.3,68.2 534.0,68.5 534.7,68.9 535.4,69.3 536.1,69.7 536.8,70.1 537.5,70.5 538.2,70.9 538.9,71.3 539.6,71.7 540.3,72.1 541.0,72.5 541.7,72.9 542.4,73.3 543.1,73.7 543.8,74.1 544.5,74.5 545.1,74.9 545.8,75.4 546.4,75.8 547.1,76.3 547.7,76.8 548.4,77.3 549.0,77.8 549.6,78.3 550.2,78.8 550.9,79.3 551.5,79.8 552.1,80.4 552.6,80.9 553.2,81.5 553.7,82.1 554.2,82.7 554.7,83.3 555.2,84.0 555.6,84.6 555.9,85.4 556.2,86.1 556.5,86.8 556.7,87.6 556.9,88.4 557.1,89.1 557.4,89.9 557.6,90.7 557.7,91.5 557.9,92.3 558.1,93.0 558.3,93.8 558.5,94.6 558.6,95.4 558.8,96.2 558.9,97.0 559.0,97.8 559.2,98.6 559.3,99.3 559.4,100.1 559.5,100.9 559.7,101.7 559.8,102.5 559.9,103.3 560.0,104.1 560.2,104.9 560.3,105.7 560.4,106.5 560.5,107.3 560.6,108.1 560.7,108.9 560.8,109.7 560.9,110.5 561.0,111.3 561.1,112.1 561.2,112.9 561.2,113.6 561.3,114.4 561.4,115.2 561.5,116.0 561.6,116.8 561.7,117.6 561.8,118.4 561.9,119.2 562.0,120.0 562.1,120.8 562.2,121.6 562.2,122.4 562.3,123.2 562.4,124.0 562.5,124.8 562.6,125.6 562.7,126.4" fill="none" stroke="#8b0000" stroke-width="1.5" stroke-linejoin="round" stroke-linecap="round"/><circle cx="562.90" cy="128.50" r="0.6" fill="#8b0000"/><circle cx="563.16" cy="130.77" r="0.6" fill="#8b0000"/><circle cx="563.41" cy="133.04" r="0.6" fill="#8b0000"/><circle cx="563.67" cy="135.31" r="0.6" fill="#8b0000"/><circle cx="563.93" cy="137.59" r="0.6" fill="#8b0000"/><circle cx="564.19" cy="139.86" r="0.6" fill="#8b0000"/><circle cx="564.44" cy="142.13" r="0.6" fill="#8b0000"/><circle cx="564.70" cy="144.40" r="0.6" fill="#8b0000"/></g>
<g><line x1="32.50" y1="209.50" x2="32.50" y2="364.90" stroke="#707070" stroke-width="1"/><line x1="29.50" y1="364.90" x2="226.00" y2="364.90" stroke="#a8a8a8" stroke-width="1.1"/><line x1="29.20" y1="364.90" x2="32.50" y2="364.90" stroke="#505050" stroke-width="0.8"/><text x="26.90" y="367.20" font-size="6.4" fill="#222" text-anchor="end" textLength="3.45" lengthAdjust="spacingAndGlyphs">0</text><line x1="31.10" y1="357.84" x2="32.50" y2="357.84" stroke="#505050" stroke-width="0.8"/><line x1="29.20" y1="350.77" x2="32.50" y2="350.77" stroke="#505050" stroke-width="0.8"/><text x="26.90" y="353.07" font-size="6.4" fill="#222" text-anchor="end" textLength="10.35" lengthAdjust="spacingAndGlyphs">100</text><line x1="31.10" y1="343.71" x2="32.50" y2="343.71" stroke="#505050" stroke-width="0.8"/><line x1="29.20" y1="336.65" x2="32.50" y2="336.65" stroke="#505050" stroke-width="0.8"/><text x="26.90" y="338.95" font-size="6.4" fill="#222" text-anchor="end" textLength="10.35" lengthAdjust="spacingAndGlyphs">200</text><line x1="31.10" y1="329.58" x2="32.50" y2="329.58" stroke="#505050" stroke-width="0.8"/><line x1="29.20" y1="322.52" x2="32.50" y2="322.52" stroke="#505050" stroke-width="0.8"/><text x="26.90" y="324.82" font-size="6.4" fill="#222" text-anchor="end" textLength="10.35" lengthAdjust="spacingAndGlyphs">300</text><line x1="31.10" y1="315.46" x2="32.50" y2="315.46" stroke="#505050" stroke-width="0.8"/><line x1="29.20" y1="308.39" x2="32.50" y2="308.39" stroke="#505050" stroke-width="0.8"/><text x="26.90" y="310.69" font-size="6.4" fill="#222" text-anchor="end" textLength="10.35" lengthAdjust="spacingAndGlyphs">400</text><line x1="31.10" y1="301.33" x2="32.50" y2="301.33" stroke="#505050" stroke-width="0.8"/><line x1="29.20" y1="294.26" x2="32.50" y2="294.26" stroke="#505050" stroke-width="0.8"/><text x="26.90" y="296.56" font-size="6.4" fill="#222" text-anchor="end" textLength="10.35" lengthAdjust="spacingAndGlyphs">500</text><line x1="31.10" y1="287.20" x2="32.50" y2="287.20" stroke="#505050" stroke-width="0.8"/><line x1="29.20" y1="280.14" x2="32.50" y2="280.14" stroke="#505050" stroke-width="0.8"/><text x="26.90" y="282.44" font-size="6.4" fill="#222" text-anchor="end" textLength="10.35" lengthAdjust="spacingAndGlyphs">600</text><line x1="31.10" y1="273.07" x2="32.50" y2="273.07" stroke="#505050" stroke-width="0.8"/><line x1="29.20" y1="266.01" x2="32.50" y2="266.01" stroke="#505050" stroke-width="0.8"/><text x="26.90" y="268.31" font-size="6.4" fill="#222" text-anchor="end" textLength="10.35" lengthAdjust="spacingAndGlyphs">700</text><line x1="31.10" y1="258.95" x2="32.50" y2="258.95" stroke="#505050" stroke-width="0.8"/><line x1="29.20" y1="251.88" x2="32.50" y2="251.88" stroke="#505050" stroke-width="0.8"/><text x="26.90" y="254.18" font-size="6.4" fill="#222" text-anchor="end" textLength="10.35" lengthAdjust="spacingAndGlyphs">800</text><line x1="31.10" y1="244.82" x2="32.50" y2="244.82" stroke="#505050" stroke-width="0.8"/><line x1="29.20" y1="237.76" x2="32.50" y2="237.76" stroke="#505050" stroke-width="0.8"/><text x="26.90" y="240.06" font-size="6.4" fill="#222" text-anchor="end" textLength="10.35" lengthAdjust="spacingAndGlyphs">900</text><line x1="31.10" y1="230.69" x2="32.50" y2="230.69" stroke="#505050" stroke-width="0.8"/><line x1="29.20" y1="223.63" x2="32.50" y2="223.63" stroke="#505050" stroke-width="0.8"/><text x="26.90" y="225.93" font-size="6.4" fill="#222" text-anchor="end" textLength="13.80" lengthAdjust="spacingAndGlyphs">1000</text><line x1="31.10" y1="216.57" x2="32.50" y2="216.57" stroke="#505050" stroke-width="0.8"/><line x1="29.20" y1="209.50" x2="32.50" y2="209.50" stroke="#505050" stroke-width="0.8"/><text x="26.90" y="211.80" font-size="6.4" fill="#222" text-anchor="end" textLength="13.80" lengthAdjust="spacingAndGlyphs">1100</text><line x1="32.50" y1="364.90" x2="32.50" y2="367.70" stroke="#505050" stroke-width="0.8"/><text x="32.80" y="376.10" font-size="6.4" fill="#222" text-anchor="middle" textLength="3.37" lengthAdjust="spacingAndGlyphs">0</text><line x1="51.80" y1="364.90" x2="51.80" y2="366.20" stroke="#505050" stroke-width="0.8"/><line x1="71.10" y1="364.90" x2="71.10" y2="367.70" stroke="#505050" stroke-width="0.8"/><text x="71.40" y="376.10" font-size="6.4" fill="#222" text-anchor="middle" textLength="3.37" lengthAdjust="spacingAndGlyphs">5</text><line x1="90.40" y1="364.90" x2="90.40" y2="366.20" stroke="#505050" stroke-width="0.8"/><line x1="109.70" y1="364.90" x2="109.70" y2="367.70" stroke="#505050" stroke-width="0.8"/><text x="110.00" y="376.10" font-size="6.4" fill="#222" text-anchor="middle" textLength="6.74" lengthAdjust="spacingAndGlyphs">10</text><line x1="129.00" y1="364.90" x2="129.00" y2="366.20" stroke="#505050" stroke-width="0.8"/><line x1="148.30" y1="364.90" x2="148.30" y2="367.70" stroke="#505050" stroke-width="0.8"/><text x="148.60" y="376.10" font-size="6.4" fill="#222" text-anchor="middle" textLength="6.74" lengthAdjust="spacingAndGlyphs">15</text><line x1="167.60" y1="364.90" x2="167.60" y2="366.20" stroke="#505050" stroke-width="0.8"/><line x1="186.90" y1="364.90" x2="186.90" y2="367.70" stroke="#505050" stroke-width="0.8"/><text x="187.20" y="376.10" font-size="6.4" fill="#222" text-anchor="middle" textLength="6.74" lengthAdjust="spacingAndGlyphs">20</text><line x1="206.20" y1="364.90" x2="206.20" y2="366.20" stroke="#505050" stroke-width="0.8"/><line x1="225.50" y1="364.90" x2="225.50" y2="367.70" stroke="#505050" stroke-width="0.8"/><text x="225.80" y="376.10" font-size="6.4" fill="#222" text-anchor="middle" textLength="6.74" lengthAdjust="spacingAndGlyphs">25</text><text x="129.10" y="386.50" font-size="8.1" fill="#222" text-anchor="middle" textLength="35.8" lengthAdjust="spacingAndGlyphs">Strain (%)</text><text transform="translate(9.10,286.40) rotate(-90)" font-size="8.3" fill="#222" text-anchor="middle" textLength="46.4" lengthAdjust="spacingAndGlyphs">Stress (MPa)</text><text x="-0.40" y="204.70" font-size="9.9" fill="#222">(d)</text><text x="83.70" y="207.00" font-size="10" fill="#222" textLength="88.2" lengthAdjust="spacingAndGlyphs">441 °C and 147 dpa</text><rect x="178.10" y="219.90" width="2.5" height="2.5" fill="#000000"/><text x="211.70" y="225.10" font-size="10.2" fill="#222" text-anchor="end" textLength="22.8" lengthAdjust="spacingAndGlyphs">25 °C</text><rect x="178.10" y="228.65" width="2.5" height="2.5" fill="#00008b"/><text x="211.70" y="233.85" font-size="10.2" fill="#222" text-anchor="end" textLength="28.5" lengthAdjust="spacingAndGlyphs">200 °C</text><rect x="178.10" y="237.40" width="2.5" height="2.5" fill="#8b0000"/><text x="211.70" y="242.60" font-size="10.2" fill="#222" text-anchor="end" textLength="28.5" lengthAdjust="spacingAndGlyphs">450 °C</text><path d="M32.5,364.9 32.5,364.1 32.6,363.3 32.6,362.5 32.7,361.7 32.7,360.9 32.8,360.1 32.8,359.3 32.9,358.5 32.9,357.7 33.0,356.9 33.0,356.1 33.1,355.3 33.1,354.5 33.2,353.7 33.2,352.9 33.3,352.1 33.3,351.3 33.4,350.5 33.4,349.7 33.5,348.9 33.5,348.1 33.6,347.3 33.6,346.5 33.7,345.7 33.7,344.9 33.8,344.1 33.8,343.3 33.8,342.5 33.9,341.7 33.9,340.9 34.0,340.1 34.0,339.3 34.1,338.5 34.1,337.7 34.2,336.9 34.2,336.1 34.3,335.3 34.3,334.5 34.4,333.7 34.4,332.9 34.5,332.1 34.5,331.3 34.6,330.5 34.6,329.7 34.7,328.9 34.7,328.1 34.8,327.3 34.8,326.5 34.9,325.7 34.9,324.9 35.0,324.1 35.0,323.3 35.1,322.5 35.1,321.7 35.1,320.9 35.2,320.1 35.2,319.3 35.3,318.5 35.3,317.7 35.4,316.9 35.4,316.1 35.5,315.3 35.5,314.5 35.5,313.6 35.6,312.8 35.6,312.0 35.7,311.2 35.7,310.4 35.8,309.6 35.8,308.8 35.8,308.0 35.9,307.2 35.9,306.4 36.0,305.6 36.0,304.8 36.1,304.0 36.1,303.2 36.1,302.4 36.2,301.6 36.2,300.8 36.3,300.0 36.3,299.2 36.4,298.4 36.4,297.6 36.4,296.8 36.5,296.0 36.5,295.2 36.6,294.4 36.6,293.6 36.6,292.8 36.7,292.0 36.7,291.2 36.8,290.4 36.8,289.6 36.9,288.8 36.9,288.0 36.9,287.2 37.0,286.4 37.0,285.6 37.1,284.8 37.1,284.0 37.1,283.2 37.2,282.4 37.2,281.6 37.3,280.8 37.3,280.0 37.4,279.2 37.4,278.4 37.5,277.6 37.7,276.8 37.8,276.0 38.0,275.3 38.1,274.5 38.3,273.7 38.6,272.9 38.8,272.2 39.1,271.4 39.5,270.7 39.8,270.0 40.2,269.3 40.5,268.6 40.9,267.9 41.3,267.2 41.7,266.5 42.2,265.8 42.6,265.1 43.0,264.5 43.5,263.8 44.0,263.2 44.5,262.6 45.0,261.9 45.5,261.4 46.1,260.8 46.7,260.2 47.2,259.6 47.8,259.1 48.4,258.5 49.0,258.0 49.6,257.5 50.2,257.0 50.8,256.5 51.5,256.0 52.1,255.5 52.8,255.0 53.4,254.5 54.0,254.1 54.7,253.6 55.4,253.2 56.0,252.7 56.7,252.4 57.4,252.0 58.2,251.7 58.9,251.3 59.6,251.0 60.4,250.7 61.1,250.4 61.8,250.0 62.6,249.7 63.3,249.4 64.0,249.1 64.8,248.8 65.5,248.5 66.3,248.2 67.0,247.9 67.8,247.7 68.6,247.4 69.3,247.2 70.1,246.9 70.8,246.7 71.6,246.5 72.4,246.2 73.1,246.0 73.9,245.8 74.7,245.5 75.5,245.3 76.2,245.1 77.0,244.9 77.8,244.7 78.6,244.5 79.4,244.4 80.1,244.2 80.9,244.1 81.7,244.0 82.5,243.9 83.3,243.8 84.1,243.7 84.9,243.6 85.7,243.5 86.5,243.4 87.3,243.3 88.1,243.3 88.9,243.3 89.7,243.3 90.5,243.3 91.3,243.3 92.1,243.4 92.9,243.4 93.7,243.4 94.5,243.5 95.3,243.5 96.1,243.5 96.9,243.6 97.7,243.6 98.5,243.7 99.3,243.7 100.1,243.8 100.9,243.9 101.7,243.9 102.5,244.0 103.3,244.1 104.1,244.1 104.9,244.2 105.7,244.3 106.5,244.4 107.3,244.5 108.1,244.6 108.9,244.7 109.7,244.9 110.4,245.0 111.2,245.2 112.0,245.4 112.8,245.6 113.6,245.7 114.4,245.9 115.1,246.1 115.9,246.3 116.7,246.4 117.5,246.6 118.3,246.8 119.0,247.1 119.8,247.3 120.6,247.5 121.3,247.8 122.1,248.0 122.8,248.3 123.6,248.6 124.4,248.8 125.1,249.1 125.9,249.3 126.6,249.6 127.4,249.8 128.2,250.1 128.9,250.4 129.6,250.7 130.4,251.0 131.1,251.3 131.9,251.6 132.6,251.9 133.3,252.2 134.1,252.6 134.8,252.9 135.6,253.2 136.3,253.5 137.0,253.8 137.8,254.2 138.5,254.5 139.2,254.9 139.9,255.2 140.6,255.6 141.3,256.0 142.0,256.3 142.8,256.7 143.5,257.1 144.2,257.5 144.9,257.8 145.6,258.2 146.3,258.6 147.0,259.0 147.7,259.4 148.3,259.9 149.0,260.4 149.6,260.8 150.2,261.3 150.8,261.9 151.4,262.4 152.0,262.9 152.6,263.5 153.2,264.0 153.8,264.6 154.3,265.1 154.9,265.7 155.5,266.3 156.0,266.9 156.6,267.4 157.2,268.0 157.7,268.6 158.3,269.2 158.8,269.7 159.4,270.3 159.9,270.9 160.5,271.5 161.0,272.1 161.5,272.7 162.1,273.3 162.5,273.9 163.0,274.6 163.5,275.2 164.0,275.9 164.4,276.5 164.9,277.2 165.4,277.8 165.8,278.5 166.3,279.1 166.7,279.8 167.1,280.5 167.4,281.2 167.6,282.0 167.8,282.7 168.0,283.5" fill="none" stroke="#000000" stroke-width="1.5" stroke-linejoin="round" stroke-linecap="round"/><path d="M32.6,364.9 32.6,364.1 32.7,363.3 32.7,362.5 32.8,361.7 32.8,360.9 32.9,360.1 32.9,359.3 33.0,358.5 33.0,357.7 33.1,356.9 33.1,356.1 33.2,355.3 33.2,354.5 33.3,353.7 33.3,352.9 33.4,352.1 33.4,351.3 33.5,350.5 33.5,349.7 33.6,348.9 33.6,348.1 33.7,347.3 33.7,346.5 33.8,345.7 33.8,344.9 33.9,344.1 33.9,343.3 34.0,342.5 34.0,341.7 34.1,340.9 34.1,340.1 34.2,339.3 34.2,338.5 34.3,337.7 34.3,336.9 34.4,336.1 34.4,335.3 34.5,334.5 34.5,333.7 34.6,332.9 34.6,332.1 34.7,331.3 34.7,330.5 34.8,329.7 34.8,328.9 34.9,328.1 34.9,327.3 35.0,326.5 35.0,325.7 35.1,324.9 35.1,324.1 35.2,323.3 35.2,322.5 35.3,321.7 35.3,320.9 35.4,320.1 35.4,319.3 35.5,318.5 35.5,317.7 35.6,316.9 35.6,316.1 35.7,315.3 35.7,314.5 35.7,313.7 35.8,312.9 35.8,312.1 35.9,311.3 35.9,310.5 36.0,309.7 36.0,308.9 36.0,308.1 36.1,307.3 36.1,306.5 36.2,305.7 36.2,304.9 36.2,304.1 36.3,303.3 36.3,302.5 36.4,301.7 36.4,300.9 36.5,300.1 36.5,299.3 36.5,298.5 36.6,297.7 36.6,296.9 36.7,296.1 36.7,295.3 36.8,294.5 36.8,293.7 36.8,292.9 36.9,292.1 36.9,291.3 37.0,290.5 37.0,289.7 37.1,288.9 37.1,288.1 37.2,287.3 37.2,286.5 37.3,285.7 37.3,284.9 37.4,284.1 37.4,283.3 37.5,282.5 37.6,281.7 37.6,280.9 37.7,280.1 37.8,279.3 37.9,278.5 38.0,277.7 38.2,276.9 38.3,276.1 38.6,275.4 38.8,274.6 39.0,273.8 39.3,273.1 39.6,272.3 39.9,271.6 40.2,270.9 40.6,270.2 41.1,269.5 41.5,268.9 42.0,268.2 42.5,267.6 43.0,267.0 43.5,266.4 44.0,265.8 44.6,265.2 45.1,264.6 45.7,264.0 46.3,263.5 46.9,263.0 47.5,262.4 48.1,261.9 48.7,261.4 49.4,260.9 50.0,260.5 50.6,260.0 51.3,259.5 52.0,259.1 52.6,258.6 53.3,258.2 54.0,257.7 54.6,257.3 55.3,256.9 56.0,256.5 56.7,256.2 57.5,255.8 58.2,255.5 58.9,255.2 59.7,254.9 60.4,254.6 61.2,254.3 61.9,254.0 62.7,253.7 63.4,253.4 64.1,253.1 64.9,252.8 65.6,252.5 66.4,252.2 67.1,252.0 67.9,251.7 68.7,251.5 69.4,251.2 70.2,251.0 71.0,250.8 71.7,250.5 72.5,250.3 73.3,250.0 74.0,249.8 74.8,249.6 75.6,249.4 76.3,249.1 77.1,248.9 77.9,248.7 78.7,248.6 79.5,248.4 80.2,248.3 81.0,248.1 81.8,248.0 82.6,247.9 83.4,247.9 84.2,247.8 85.0,247.7 85.8,247.6 86.6,247.6 87.4,247.5 88.2,247.5 89.0,247.5 89.8,247.4 90.6,247.5 91.4,247.5 92.2,247.5 93.0,247.5 93.8,247.5 94.6,247.5 95.4,247.6 96.2,247.6 97.0,247.6 97.8,247.6 98.6,247.7 99.4,247.7 100.2,247.8 101.0,247.8 101.8,247.9 102.6,247.9 103.4,248.0 104.2,248.0 105.0,248.1 105.8,248.2 106.6,248.2 107.4,248.3 108.2,248.4 109.0,248.6 109.8,248.7 110.6,248.9 111.4,249.0 112.1,249.2 112.9,249.4 113.7,249.6 114.5,249.7 115.3,249.9 116.0,250.1 116.8,250.3 117.6,250.5 118.4,250.7 119.2,250.9 119.9,251.1 120.7,251.3 121.5,251.6 122.2,251.8 123.0,252.0 123.8,252.3 124.5,252.5 125.3,252.8 126.0,253.0 126.8,253.2 127.6,253.5 128.3,253.8 129.1,254.1 129.8,254.4 130.6,254.7 131.3,255.0 132.0,255.3 132.8,255.6 133.5,255.9 134.3,256.2 135.0,256.5 135.8,256.8 136.5,257.1 137.2,257.4 138.0,257.7 138.7,258.1 139.4,258.4 140.1,258.8 140.9,259.1 141.6,259.5 142.3,259.8 143.0,260.2 143.7,260.5 144.5,260.9 145.2,261.2 145.9,261.6 146.6,261.9 147.3,262.3 148.0,262.7 148.7,263.2 149.3,263.6 150.0,264.1 150.6,264.6 151.2,265.1 151.9,265.6 152.5,266.1 153.1,266.6 153.7,267.1 154.3,267.7 154.9,268.2 155.5,268.7 156.1,269.3 156.7,269.8 157.2,270.4 157.8,271.0 158.4,271.5 158.9,272.1 159.5,272.7 160.0,273.3 160.6,273.8 161.1,274.4 161.7,275.0 162.2,275.6 162.7,276.2 163.2,276.9 163.6,277.5 164.0,278.2 164.3,278.9 164.5,279.7 164.7,280.4 164.8,281.2 164.9,282.0 165.0,282.8" fill="none" stroke="#000000" stroke-width="1.5" stroke-linejoin="round" stroke-linecap="round"/><circle cx="165.30" cy="285.60" r="0.65" fill="#000000"/><circle cx="165.89" cy="290.14" r="0.65" fill="#000000"/><circle cx="166.47" cy="294.69" r="0.65" fill="#000000"/><circle cx="167.06" cy="299.23" r="0.65" fill="#000000"/><circle cx="167.64" cy="303.77" r="0.65" fill="#000000"/><circle cx="168.23" cy="308.31" r="0.65" fill="#000000"/><circle cx="168.81" cy="312.86" r="0.65" fill="#000000"/><circle cx="169.40" cy="317.40" r="0.65" fill="#000000"/><circle cx="167.90" cy="286.50" r="0.65" fill="#000000"/><circle cx="168.47" cy="290.84" r="0.65" fill="#000000"/><circle cx="169.04" cy="295.19" r="0.65" fill="#000000"/><circle cx="169.61" cy="299.53" r="0.65" fill="#000000"/><circle cx="170.19" cy="303.87" r="0.65" fill="#000000"/><circle cx="170.76" cy="308.21" r="0.65" fill="#000000"/><circle cx="171.33" cy="312.56" r="0.65" fill="#000000"/><circle cx="171.90" cy="316.90" r="0.65" fill="#000000"/><path d="M32.5,364.9 32.5,364.1 32.6,363.3 32.6,362.5 32.7,361.7 32.7,360.9 32.8,360.1 32.8,359.3 32.9,358.5 32.9,357.7 33.0,356.9 33.0,356.1 33.1,355.3 33.1,354.5 33.1,353.7 33.2,352.9 33.2,352.1 33.3,351.3 33.3,350.5 33.4,349.7 33.4,348.9 33.5,348.1 33.5,347.3 33.6,346.5 33.6,345.7 33.7,344.9 33.7,344.1 33.8,343.3 33.8,342.5 33.8,341.7 33.9,340.9 33.9,340.1 34.0,339.3 34.0,338.5 34.1,337.7 34.1,336.9 34.2,336.1 34.2,335.3 34.3,334.5 34.3,333.7 34.4,332.9 34.4,332.1 34.4,331.3 34.5,330.5 34.5,329.7 34.6,328.9 34.6,328.1 34.7,327.3 34.7,326.5 34.8,325.7 34.8,324.9 34.9,324.1 34.9,323.3 35.0,322.5 35.0,321.7 35.1,320.9 35.1,320.1 35.2,319.3 35.2,318.5 35.3,317.7 35.3,316.9 35.4,316.1 35.4,315.3 35.5,314.5 35.5,313.7 35.6,312.9 35.7,312.1 35.7,311.3 35.8,310.5 35.8,309.7 35.9,308.9 35.9,308.1 36.0,307.3 36.1,306.5 36.1,305.7 36.2,304.9 36.2,304.1 36.3,303.3 36.3,302.5 36.4,301.7 36.5,300.9 36.5,300.1 36.6,299.3 36.6,298.5 36.7,297.7 36.7,296.9 36.8,296.1 36.8,295.3 36.9,294.5 37.0,293.7 37.0,292.9 37.1,292.1 37.1,291.3 37.2,290.5 37.2,289.7 37.3,288.9 37.3,288.1 37.4,287.3 37.4,286.5 37.5,285.7 37.5,284.9 37.5,284.0 37.6,283.2 37.6,282.5 37.7,281.7 37.8,280.9 37.9,280.1 38.2,279.3 38.4,278.6 38.8,277.9 39.2,277.2 39.6,276.6 40.1,276.0 40.7,275.4 41.2,274.8 41.8,274.3 42.4,273.8 43.1,273.3 43.7,272.8 44.3,272.3 45.0,271.8 45.6,271.3 46.3,270.9 46.9,270.4 47.6,270.0 48.3,269.6 48.9,269.1 49.6,268.7 50.3,268.3 51.0,267.9 51.7,267.5 52.4,267.1 53.1,266.8 53.8,266.4 54.6,266.1 55.3,265.8 56.0,265.5 56.8,265.1 57.5,264.8 58.3,264.5 59.0,264.3 59.8,264.0 60.5,263.8 61.3,263.6 62.1,263.4 62.9,263.2 63.6,263.0 64.4,262.8 65.2,262.6 66.0,262.4 66.8,262.2 67.5,262.1 68.3,261.9 69.1,261.8 69.9,261.7 70.7,261.5 71.5,261.4 72.3,261.3 73.1,261.3 73.9,261.2 74.7,261.1 75.5,261.1 76.3,261.0 77.1,261.0 77.9,260.9 78.7,260.9 79.5,260.9 80.3,260.9 81.1,261.0 81.9,261.0 82.7,261.1 83.5,261.1 84.3,261.2 85.1,261.3 85.9,261.4 86.7,261.5 87.5,261.6 88.3,261.7 89.1,261.9 89.8,262.0 90.6,262.2 91.4,262.3 92.2,262.5 93.0,262.7 93.8,262.8 94.5,263.0 95.3,263.2 96.1,263.3 96.9,263.5 97.7,263.7 98.5,263.9 99.2,264.1 100.0,264.3 100.8,264.5 101.6,264.7 102.3,264.9 103.1,265.1 103.9,265.4 104.6,265.6 105.4,265.8 106.2,266.1 106.9,266.3 107.7,266.6 108.4,266.9 109.2,267.2 109.9,267.5 110.6,267.8 111.4,268.2 112.1,268.5 112.8,268.8 113.6,269.2 114.3,269.5 115.0,269.9 115.7,270.2 116.4,270.6 117.1,271.0 117.8,271.3 118.6,271.7 119.3,272.1 120.0,272.5 120.7,272.9 121.4,273.3 122.1,273.6 122.8,274.0 123.5,274.4 124.2,274.8 124.9,275.1 125.6,275.5 126.3,275.9 127.1,276.2 127.8,276.6 128.5,277.0 129.2,277.4 129.8,277.8 130.5,278.3 131.1,278.8 131.6,279.3 132.0,280.0 132.4,280.6 132.7,281.4 133.0,282.1 133.3,282.8 133.6,283.6 133.8,284.4 134.0,285.1 134.2,285.9 134.3,286.7 134.5,287.5 134.6,288.3 134.8,289.1 134.9,289.8 135.1,290.6 135.2,291.4 135.3,292.2 135.4,293.0 135.5,293.8 135.6,294.6 135.6,295.4 135.7,296.2 135.8,297.0 135.9,297.8 136.0,298.6 136.0,299.4 136.1,300.2 136.2,301.0 136.3,301.8 136.4,302.6 136.6,303.4 136.7,304.2 136.8,305.0 136.9,305.7 137.1,306.5 137.2,307.3 137.3,308.1 137.4,308.9 137.6,309.7 137.7,310.5 137.8,311.3 137.9,312.1 138.1,312.9 138.2,313.7 138.3,314.5 138.5,315.2 138.6,316.0 138.7,316.8 138.9,317.6 139.0,318.4 139.1,319.2 139.2,319.6" fill="none" stroke="#00008b" stroke-width="1.35" stroke-linejoin="round" stroke-linecap="round"/><circle cx="139.50" cy="322.50" r="0.65" fill="#00008b"/><circle cx="140.00" cy="326.38" r="0.65" fill="#00008b"/><circle cx="140.50" cy="330.25" r="0.65" fill="#00008b"/><circle cx="141.00" cy="334.12" r="0.65" fill="#00008b"/><circle cx="141.50" cy="338.00" r="0.65" fill="#00008b"/><path d="M32.5,364.9 32.5,364.1 32.6,363.3 32.6,362.5 32.7,361.7 32.7,360.9 32.8,360.1 32.8,359.3 32.9,358.5 32.9,357.7 33.0,356.9 33.0,356.1 33.1,355.3 33.1,354.5 33.1,353.7 33.2,352.9 33.2,352.1 33.3,351.3 33.3,350.5 33.4,349.7 33.4,348.9 33.5,348.1 33.5,347.3 33.6,346.5 33.6,345.7 33.7,344.9 33.7,344.1 33.8,343.3 33.8,342.5 33.8,341.7 33.9,340.9 33.9,340.1 34.0,339.2 34.0,338.4 34.1,337.6 34.1,336.8 34.2,336.0 34.2,335.2 34.3,334.4 34.3,333.6 34.4,332.8 34.4,332.0 34.4,331.2 34.5,330.4 34.5,329.6 34.6,328.8 34.6,328.0 34.7,327.2 34.7,326.4 34.8,325.6 34.8,324.8 34.9,324.0 34.9,323.2 35.0,322.4 35.0,321.6 35.1,320.8 35.1,320.0 35.2,319.2 35.2,318.4 35.3,317.6 35.3,316.8 35.4,316.0 35.4,315.2 35.5,314.4 35.6,313.6 35.6,312.8 35.7,312.0 35.7,311.2 35.8,310.4 35.8,309.6 35.9,308.8 35.9,308.0 36.0,307.2 36.1,306.4 36.1,305.6 36.2,304.8 36.2,304.0 36.3,303.2 36.3,302.4 36.4,301.6 36.5,300.8 36.5,300.0 36.6,299.2 36.6,298.4 36.7,297.6 36.7,296.8 36.8,296.0 36.9,295.2 36.9,294.4 37.0,293.6 37.0,292.8 37.1,292.0 37.1,291.2 37.2,290.4 37.2,289.6 37.3,288.8 37.3,288.0 37.4,287.2 37.4,286.4 37.5,285.6 37.5,284.8 37.6,284.0 37.6,283.2 37.7,282.4 37.7,281.6 37.8,280.8 38.0,280.0 38.2,279.3 38.5,278.5 38.8,277.8 39.2,277.1 39.7,276.5 40.2,275.9 40.7,275.3 41.3,274.8 41.9,274.2 42.5,273.7 43.1,273.2 43.8,272.7 44.4,272.2 45.0,271.8 45.7,271.3 46.4,270.8 47.0,270.4 47.7,269.9 48.4,269.5 49.0,269.1 49.7,268.6 50.4,268.2 51.1,267.8 51.8,267.4 52.5,267.1 53.2,266.7 54.0,266.4 54.7,266.1 55.4,265.7 56.2,265.4 56.9,265.1 57.6,264.8 58.4,264.5 59.1,264.2 59.9,264.0 60.7,263.8 61.4,263.5 62.2,263.3 63.0,263.1 63.8,262.9 64.5,262.7 65.3,262.5 66.1,262.4 66.9,262.2 67.7,262.0 68.5,261.9 69.3,261.8 70.0,261.6 70.8,261.5 71.6,261.4 72.4,261.3 73.2,261.2 74.0,261.2 74.8,261.1 75.6,261.1 76.4,261.0 77.2,261.0 78.0,260.9 78.8,260.9 79.6,260.9 80.4,260.9 81.2,261.0 82.0,261.0 82.8,261.1 83.6,261.2 84.4,261.2 85.2,261.3 86.0,261.4 86.8,261.5 87.6,261.6 88.4,261.7 89.2,261.9 90.0,262.0 90.8,262.2 91.6,262.4 92.3,262.5 93.1,262.7 93.9,262.9 94.7,263.0 95.5,263.2 96.3,263.4 97.1,263.5 97.8,263.7 98.6,263.9 99.4,264.1 100.2,264.3 101.0,264.5 101.7,264.7 102.5,264.9 103.3,265.2 104.0,265.4 104.8,265.6 105.6,265.9 106.3,266.1 107.1,266.4 107.8,266.6 108.6,266.9 109.3,267.3 110.1,267.6 110.8,267.9 111.5,268.2 112.3,268.6 113.0,268.9 113.7,269.2 114.4,269.6 115.2,269.9 115.9,270.3 116.6,270.7 117.3,271.0 118.0,271.4 118.7,271.8 119.4,272.2 120.1,272.6 120.8,273.0 121.5,273.3 122.2,273.7 123.0,274.1 123.7,274.5 124.4,274.8 125.1,275.2 125.8,275.6 126.5,275.9 127.2,276.3 128.0,276.7 128.7,277.0 129.4,277.4 130.1,277.7 130.8,278.1 131.6,278.4 132.3,278.8 133.0,279.2 133.7,279.5 134.4,279.9 135.1,280.2 135.9,280.6 136.6,281.0 137.2,281.4 137.9,281.8 138.6,282.3 139.2,282.8 139.9,283.2 140.5,283.7 141.2,284.2 141.8,284.7 142.3,285.2 142.9,285.8 143.4,286.4 143.8,287.1 144.2,287.8 144.5,288.5 144.7,289.3 144.9,290.0 145.0,290.8 145.1,291.6 145.2,292.4 145.3,293.2 145.4,294.0 145.4,294.8 145.5,295.6 145.5,296.4 145.5,297.2" fill="none" stroke="#00008b" stroke-width="1.35" stroke-linejoin="round" stroke-linecap="round"/><circle cx="146.00" cy="300.50" r="0.65" fill="#00008b"/><circle cx="146.50" cy="304.66" r="0.65" fill="#00008b"/><circle cx="147.00" cy="308.82" r="0.65" fill="#00008b"/><circle cx="147.50" cy="312.98" r="0.65" fill="#00008b"/><circle cx="148.00" cy="317.14" r="0.65" fill="#00008b"/><circle cx="148.50" cy="321.30" r="0.65" fill="#00008b"/><path d="M37.0,318.0 37.0,317.2 37.1,316.4 37.1,315.6 37.1,314.8 37.2,314.0 37.2,313.2 37.3,312.4 37.3,311.6 37.3,310.8 37.4,310.0 37.4,309.1 37.4,308.3 37.5,307.5 37.5,306.7 37.6,305.9 37.6,305.1 37.6,304.3 37.7,303.5 37.7,302.7 37.7,301.9 37.8,301.1 37.9,300.3 37.9,299.5 38.0,298.7 38.1,297.9 38.2,297.1 38.3,296.3 38.4,295.5 38.5,294.7 38.7,293.9 38.9,293.2 39.1,292.4 39.4,291.7 39.8,291.0 40.2,290.3 40.6,289.6 41.1,289.0 41.6,288.4 42.2,287.8 42.8,287.2 43.3,286.7 44.0,286.2 44.6,285.7 45.2,285.2 45.9,284.7 46.5,284.2 47.2,283.8 47.9,283.4 48.6,283.0 49.3,282.6 50.0,282.2 50.7,281.8 51.4,281.5 52.2,281.2 52.9,281.0 53.7,280.8 54.5,280.6 55.3,280.4 56.0,280.2 56.8,280.0 57.6,279.8 58.4,279.6 59.2,279.5 60.0,279.3 60.8,279.2 61.6,279.1 62.4,278.9 63.2,278.8 63.9,278.7 64.7,278.6 65.5,278.5 66.3,278.4 67.1,278.3 67.9,278.2 68.7,278.2 69.6,278.1 70.4,278.1 71.2,278.0 72.0,278.0 72.8,278.0 73.6,277.9 74.4,277.9 75.2,277.9 76.0,277.9 76.8,277.9 77.6,277.9 78.4,277.9 79.2,277.9 80.0,277.9 80.8,277.9 81.6,277.9 82.4,277.9 83.2,278.0 84.0,278.0 84.8,278.0 85.7,278.0 86.5,278.1 87.3,278.1 88.1,278.1 88.9,278.2 89.7,278.2 90.5,278.3 91.3,278.4 92.1,278.5 92.9,278.6 93.7,278.7 94.5,278.8 95.3,278.9 96.1,279.0 96.9,279.2 97.7,279.3 98.5,279.4 99.3,279.5 100.0,279.6 100.8,279.8 101.6,279.9 102.4,280.1 103.2,280.2 104.0,280.4 104.8,280.6 105.6,280.7 106.4,280.9 107.2,281.1 107.9,281.3 108.7,281.4 109.5,281.6 110.3,281.9 111.1,282.1 111.8,282.3 112.6,282.5 113.0,282.6" fill="none" stroke="#8b0000" stroke-width="2.2" stroke-linejoin="round" stroke-linecap="round"/><path d="M33.4,364.9 33.5,364.1 33.5,363.3 33.6,362.5 33.6,361.7 33.7,360.9 33.8,360.1 33.8,359.3 33.9,358.5 34.0,357.7 34.0,356.9 34.1,356.1 34.1,355.3 34.2,354.5 34.3,353.7 34.3,352.9 34.4,352.1 34.5,351.3 34.5,350.5 34.6,349.7 34.6,348.9 34.7,348.1 34.8,347.3 34.8,346.5 34.9,345.7 35.0,344.9 35.0,344.1 35.1,343.3 35.1,342.5 35.2,341.7 35.3,340.9 35.3,340.1 35.4,339.3 35.5,338.5 35.5,337.7 35.6,336.9 35.6,336.1 35.7,335.3 35.8,334.5 35.8,333.7 35.9,332.9 36.0,332.1 36.0,331.3 36.1,330.5 36.1,329.7 36.2,328.9 36.3,328.1 36.3,327.3 36.4,326.5 36.5,325.7 36.5,324.9 36.6,324.1 36.6,323.3 36.7,322.5 36.8,321.7 36.8,320.9 36.9,320.1 36.9,319.3 37.0,318.5 37.0,317.7 37.1,316.9 37.1,316.1 37.1,315.3 37.2,314.5 37.2,313.7 37.3,312.9 37.3,312.1 37.3,311.3 37.4,310.5 37.4,309.7 37.5,308.9 37.5,308.1 37.6,307.3 37.6,306.5 37.6,305.7 37.7,304.9 37.7,304.1 37.8,303.3 37.8,302.5 37.9,301.7 37.9,300.9 38.0,300.1 38.1,299.3 38.2,298.5 38.3,297.7 38.4,296.9 38.5,296.1 38.6,295.3 38.7,294.5 38.8,293.7 39.0,293.0 39.3,292.3 39.6,291.6 40.0,290.9 40.5,290.2 40.9,289.6 41.4,288.9 42.0,288.3 42.5,287.8 43.1,287.2 43.7,286.7 44.3,286.2 44.9,285.7 45.6,285.2 46.2,284.7 46.9,284.3 47.6,283.9 48.3,283.5 48.9,283.0 49.6,282.7 50.3,282.3 51.1,281.9 51.8,281.6 52.5,281.4 53.3,281.1 54.1,280.9 54.9,280.7 55.6,280.5 56.4,280.3 57.2,280.2 58.0,280.0 58.8,279.8 59.5,279.7 60.3,279.5 61.1,279.4 61.9,279.3 62.7,279.2 63.5,279.0 64.3,278.9 65.1,278.8 65.9,278.7 66.7,278.6 67.5,278.6 68.3,278.5 69.1,278.5 69.9,278.4 70.7,278.4 71.5,278.3 72.3,278.3 73.1,278.3 73.9,278.3 74.7,278.3 75.5,278.3 76.3,278.2 77.1,278.2 77.9,278.2 78.7,278.2 79.5,278.2 80.3,278.2 81.1,278.3 81.9,278.3 82.7,278.3 83.5,278.3 84.3,278.4 85.1,278.4 85.9,278.4 86.7,278.5 87.5,278.5 88.3,278.5 89.1,278.6 89.9,278.7 90.7,278.7 91.5,278.8 92.3,278.9 93.1,279.0 93.9,279.1 94.7,279.3 95.5,279.4 96.3,279.5 97.1,279.6 97.9,279.7 98.7,279.8 99.5,280.0 100.3,280.1 101.0,280.2 101.8,280.4 102.6,280.5 103.4,280.7 104.2,280.9 105.0,281.0 105.8,281.2 106.5,281.4 107.3,281.5 108.1,281.7 108.9,281.9 109.7,282.1 110.4,282.3 111.2,282.5 112.0,282.7 112.8,282.9 113.5,283.1 114.3,283.4 115.0,283.7 115.8,284.0 116.5,284.3 117.2,284.7 117.9,285.1 118.5,285.6 119.2,286.0 119.9,286.4 120.6,286.7 121.4,287.1 122.1,287.4 122.8,287.7 123.5,288.1 124.3,288.4 125.0,288.7 125.7,289.0 126.5,289.4 127.2,289.7 127.9,290.1 128.6,290.5 129.3,290.8 130.0,291.2 130.7,291.6 131.4,292.0 132.1,292.4 132.8,292.9 133.4,293.3 134.1,293.8 134.7,294.3 135.3,294.8 135.9,295.3 136.5,295.8 137.1,296.4 137.6,297.0 138.0,297.7 138.5,298.3 138.9,299.0 139.2,299.7 139.5,300.5 139.8,301.2 140.0,302.0 140.1,302.7 140.3,303.5 140.4,304.3 140.5,305.1 140.6,305.9 140.7,306.7 140.7,307.5 140.8,308.3 140.9,309.1 141.0,309.9 141.1,310.7 141.2,311.5 141.3,312.3 141.4,313.1 141.5,313.9 141.6,314.7 141.7,315.5 141.8,316.3 141.9,317.1 142.0,317.9 142.1,318.7 142.2,319.5 142.3,320.3 142.4,321.1 142.5,321.8 142.6,322.6 142.7,323.4 142.8,324.2 142.9,325.0 143.0,325.8 143.1,326.6 143.2,327.4 143.3,328.2 143.4,329.0 143.5,329.8 143.6,330.6" fill="none" stroke="#8b0000" stroke-width="1.4" stroke-linejoin="round" stroke-linecap="round"/><path d="M33.2,364.9 33.3,364.1 33.3,363.3 33.4,362.5 33.4,361.7 33.5,360.9 33.6,360.1 33.6,359.3 33.7,358.5 33.8,357.7 33.8,356.9 33.9,356.1 33.9,355.3 34.0,354.5 34.1,353.7 34.1,352.9 34.2,352.1 34.3,351.3 34.3,350.5 34.4,349.7 34.4,348.9 34.5,348.1 34.6,347.3 34.6,346.5 34.7,345.7 34.8,344.9 34.8,344.1 34.9,343.3 34.9,342.5 35.0,341.7 35.1,340.9 35.1,340.1 35.2,339.3 35.3,338.5 35.3,337.7 35.4,336.9 35.4,336.1 35.5,335.3 35.6,334.5 35.6,333.7 35.7,332.9 35.8,332.1 35.8,331.3 35.9,330.5 35.9,329.7 36.0,328.9 36.1,328.1 36.1,327.3 36.2,326.5 36.3,325.7 36.3,324.9 36.4,324.1 36.4,323.3 36.5,322.5 36.6,321.7 36.6,320.9 36.7,320.1 36.7,319.3 36.8,318.5 36.8,317.7 36.9,316.9 36.9,316.1 36.9,315.3 37.0,314.5 37.0,313.7 37.1,312.9 37.1,312.1 37.1,311.3 37.2,310.5 37.2,309.7 37.3,308.9 37.3,308.1 37.4,307.3 37.4,306.5 37.4,305.7 37.5,304.9 37.5,304.1 37.6,303.3 37.6,302.5 37.7,301.7 37.7,300.9 37.8,300.1 37.9,299.3 38.0,298.5 38.0,297.7 38.1,296.9 38.2,296.1 38.3,295.3 38.5,294.5 38.6,293.7 38.8,293.0 39.0,292.2 39.3,291.5 39.7,290.8 40.1,290.1 40.6,289.5 41.0,288.8 41.5,288.2 42.1,287.6 42.7,287.1 43.2,286.5 43.8,286.0 44.5,285.5 45.1,285.0 45.7,284.5 46.4,284.1 47.1,283.6 47.7,283.2 48.4,282.8 49.1,282.4 49.8,282.0 50.5,281.6 51.2,281.3 52.0,281.0 52.7,280.8 53.5,280.5 54.3,280.3 55.1,280.1 55.8,280.0 56.6,279.8 57.4,279.6 58.2,279.4 59.0,279.2 59.8,279.1 60.5,279.0 61.3,278.8 62.1,278.7 62.9,278.6 63.7,278.5 64.5,278.3 65.3,278.2 66.1,278.1 66.9,278.0 67.7,277.9 68.5,277.9 69.3,277.8 70.1,277.7 70.9,277.7 71.7,277.7 72.5,277.6 73.3,277.6 74.1,277.6 74.9,277.6 75.7,277.6 76.5,277.5 77.3,277.5 78.1,277.5 78.9,277.5 79.7,277.5 80.5,277.5 81.3,277.5 82.1,277.6 82.9,277.6 83.7,277.6 84.5,277.6 85.3,277.7 86.1,277.7 86.9,277.7 87.7,277.7 88.5,277.8 89.3,277.8 90.1,277.9 90.9,278.0 91.7,278.1 92.5,278.2 93.3,278.3 94.1,278.4 94.9,278.5 95.7,278.6 96.5,278.7 97.3,278.8 98.1,278.9 98.9,279.1 99.7,279.2 100.5,279.3 101.3,279.5 102.0,279.6 102.8,279.8 103.6,279.9 104.4,280.1 105.2,280.2 106.0,280.4 106.8,280.5 107.6,280.7 108.3,280.9 109.1,281.1 109.9,281.3 110.7,281.5 111.4,281.7 112.2,281.9 113.0,282.1 113.8,282.3 114.5,282.5 115.3,282.8 116.1,283.0 116.8,283.3 117.6,283.6 118.3,283.9 119.0,284.2 119.8,284.5 120.5,284.8 121.3,285.0 122.1,285.3 122.8,285.6 123.6,285.8 124.3,286.1 125.1,286.3 125.9,286.6 126.6,286.9 127.4,287.2 128.1,287.5 128.8,287.8 129.5,288.1 130.3,288.5 131.0,288.9 131.7,289.2 132.4,289.6 133.1,289.9 133.8,290.3 134.6,290.7 135.3,291.1 136.0,291.4 136.7,291.8 137.4,292.2 138.1,292.6 138.8,293.0 139.5,293.4 140.2,293.8 140.9,294.2 141.5,294.6 142.2,295.0 142.9,295.5 143.5,295.9 144.2,296.4 144.7,297.0 145.3,297.5 145.7,298.2 146.1,298.8 146.5,299.5 146.8,300.3 147.1,301.0 147.3,301.8 147.5,302.5 147.6,303.3 147.7,304.1 147.9,304.9 148.0,305.7 148.1,306.5" fill="none" stroke="#8b0000" stroke-width="1.4" stroke-linejoin="round" stroke-linecap="round"/><circle cx="148.40" cy="309.50" r="0.65" fill="#8b0000"/><circle cx="148.92" cy="313.48" r="0.65" fill="#8b0000"/><circle cx="149.44" cy="317.46" r="0.65" fill="#8b0000"/><circle cx="149.96" cy="321.44" r="0.65" fill="#8b0000"/><circle cx="150.48" cy="325.42" r="0.65" fill="#8b0000"/><circle cx="151.00" cy="329.40" r="0.65" fill="#8b0000"/></g>
<g><line x1="261.30" y1="209.50" x2="261.30" y2="364.90" stroke="#707070" stroke-width="1"/><line x1="258.30" y1="364.90" x2="454.80" y2="364.90" stroke="#a8a8a8" stroke-width="1.1"/><line x1="258.00" y1="364.90" x2="261.30" y2="364.90" stroke="#505050" stroke-width="0.8"/><text x="255.70" y="367.20" font-size="6.4" fill="#222" text-anchor="end" textLength="3.45" lengthAdjust="spacingAndGlyphs">0</text><line x1="259.90" y1="357.84" x2="261.30" y2="357.84" stroke="#505050" stroke-width="0.8"/><line x1="258.00" y1="350.77" x2="261.30" y2="350.77" stroke="#505050" stroke-width="0.8"/><text x="255.70" y="353.07" font-size="6.4" fill="#222" text-anchor="end" textLength="10.35" lengthAdjust="spacingAndGlyphs">100</text><line x1="259.90" y1="343.71" x2="261.30" y2="343.71" stroke="#505050" stroke-width="0.8"/><line x1="258.00" y1="336.65" x2="261.30" y2="336.65" stroke="#505050" stroke-width="0.8"/><text x="255.70" y="338.95" font-size="6.4" fill="#222" text-anchor="end" textLength="10.35" lengthAdjust="spacingAndGlyphs">200</text><line x1="259.90" y1="329.58" x2="261.30" y2="329.58" stroke="#505050" stroke-width="0.8"/><line x1="258.00" y1="322.52" x2="261.30" y2="322.52" stroke="#505050" stroke-width="0.8"/><text x="255.70" y="324.82" font-size="6.4" fill="#222" text-anchor="end" textLength="10.35" lengthAdjust="spacingAndGlyphs">300</text><line x1="259.90" y1="315.46" x2="261.30" y2="315.46" stroke="#505050" stroke-width="0.8"/><line x1="258.00" y1="308.39" x2="261.30" y2="308.39" stroke="#505050" stroke-width="0.8"/><text x="255.70" y="310.69" font-size="6.4" fill="#222" text-anchor="end" textLength="10.35" lengthAdjust="spacingAndGlyphs">400</text><line x1="259.90" y1="301.33" x2="261.30" y2="301.33" stroke="#505050" stroke-width="0.8"/><line x1="258.00" y1="294.26" x2="261.30" y2="294.26" stroke="#505050" stroke-width="0.8"/><text x="255.70" y="296.56" font-size="6.4" fill="#222" text-anchor="end" textLength="10.35" lengthAdjust="spacingAndGlyphs">500</text><line x1="259.90" y1="287.20" x2="261.30" y2="287.20" stroke="#505050" stroke-width="0.8"/><line x1="258.00" y1="280.14" x2="261.30" y2="280.14" stroke="#505050" stroke-width="0.8"/><text x="255.70" y="282.44" font-size="6.4" fill="#222" text-anchor="end" textLength="10.35" lengthAdjust="spacingAndGlyphs">600</text><line x1="259.90" y1="273.07" x2="261.30" y2="273.07" stroke="#505050" stroke-width="0.8"/><line x1="258.00" y1="266.01" x2="261.30" y2="266.01" stroke="#505050" stroke-width="0.8"/><text x="255.70" y="268.31" font-size="6.4" fill="#222" text-anchor="end" textLength="10.35" lengthAdjust="spacingAndGlyphs">700</text><line x1="259.90" y1="258.95" x2="261.30" y2="258.95" stroke="#505050" stroke-width="0.8"/><line x1="258.00" y1="251.88" x2="261.30" y2="251.88" stroke="#505050" stroke-width="0.8"/><text x="255.70" y="254.18" font-size="6.4" fill="#222" text-anchor="end" textLength="10.35" lengthAdjust="spacingAndGlyphs">800</text><line x1="259.90" y1="244.82" x2="261.30" y2="244.82" stroke="#505050" stroke-width="0.8"/><line x1="258.00" y1="237.76" x2="261.30" y2="237.76" stroke="#505050" stroke-width="0.8"/><text x="255.70" y="240.06" font-size="6.4" fill="#222" text-anchor="end" textLength="10.35" lengthAdjust="spacingAndGlyphs">900</text><line x1="259.90" y1="230.69" x2="261.30" y2="230.69" stroke="#505050" stroke-width="0.8"/><line x1="258.00" y1="223.63" x2="261.30" y2="223.63" stroke="#505050" stroke-width="0.8"/><text x="255.70" y="225.93" font-size="6.4" fill="#222" text-anchor="end" textLength="13.80" lengthAdjust="spacingAndGlyphs">1000</text><line x1="259.90" y1="216.57" x2="261.30" y2="216.57" stroke="#505050" stroke-width="0.8"/><line x1="258.00" y1="209.50" x2="261.30" y2="209.50" stroke="#505050" stroke-width="0.8"/><text x="255.70" y="211.80" font-size="6.4" fill="#222" text-anchor="end" textLength="13.80" lengthAdjust="spacingAndGlyphs">1100</text><line x1="261.30" y1="364.90" x2="261.30" y2="367.70" stroke="#505050" stroke-width="0.8"/><text x="261.60" y="376.10" font-size="6.4" fill="#222" text-anchor="middle" textLength="3.37" lengthAdjust="spacingAndGlyphs">0</text><line x1="280.60" y1="364.90" x2="280.60" y2="366.20" stroke="#505050" stroke-width="0.8"/><line x1="299.90" y1="364.90" x2="299.90" y2="367.70" stroke="#505050" stroke-width="0.8"/><text x="300.20" y="376.10" font-size="6.4" fill="#222" text-anchor="middle" textLength="3.37" lengthAdjust="spacingAndGlyphs">5</text><line x1="319.20" y1="364.90" x2="319.20" y2="366.20" stroke="#505050" stroke-width="0.8"/><line x1="338.50" y1="364.90" x2="338.50" y2="367.70" stroke="#505050" stroke-width="0.8"/><text x="338.80" y="376.10" font-size="6.4" fill="#222" text-anchor="middle" textLength="6.74" lengthAdjust="spacingAndGlyphs">10</text><line x1="357.80" y1="364.90" x2="357.80" y2="366.20" stroke="#505050" stroke-width="0.8"/><line x1="377.10" y1="364.90" x2="377.10" y2="367.70" stroke="#505050" stroke-width="0.8"/><text x="377.40" y="376.10" font-size="6.4" fill="#222" text-anchor="middle" textLength="6.74" lengthAdjust="spacingAndGlyphs">15</text><line x1="396.40" y1="364.90" x2="396.40" y2="366.20" stroke="#505050" stroke-width="0.8"/><line x1="415.70" y1="364.90" x2="415.70" y2="367.70" stroke="#505050" stroke-width="0.8"/><text x="416.00" y="376.10" font-size="6.4" fill="#222" text-anchor="middle" textLength="6.74" lengthAdjust="spacingAndGlyphs">20</text><line x1="435.00" y1="364.90" x2="435.00" y2="366.20" stroke="#505050" stroke-width="0.8"/><line x1="454.30" y1="364.90" x2="454.30" y2="367.70" stroke="#505050" stroke-width="0.8"/><text x="454.60" y="376.10" font-size="6.4" fill="#222" text-anchor="middle" textLength="6.74" lengthAdjust="spacingAndGlyphs">25</text><text x="357.90" y="386.50" font-size="8.1" fill="#222" text-anchor="middle" textLength="35.8" lengthAdjust="spacingAndGlyphs">Strain (%)</text><text transform="translate(237.90,286.40) rotate(-90)" font-size="8.3" fill="#222" text-anchor="middle" textLength="46.4" lengthAdjust="spacingAndGlyphs">Stress (MPa)</text><text x="226.90" y="204.70" font-size="9.9" fill="#222">(e)</text><text x="312.50" y="207.00" font-size="10" fill="#222" textLength="82" lengthAdjust="spacingAndGlyphs">466 °C and 93 dpa</text><rect x="408.20" y="219.90" width="2.5" height="2.5" fill="#000000"/><text x="441.80" y="225.10" font-size="10.2" fill="#222" text-anchor="end" textLength="22.8" lengthAdjust="spacingAndGlyphs">25 °C</text><rect x="408.20" y="228.65" width="2.5" height="2.5" fill="#00008b"/><text x="441.80" y="233.85" font-size="10.2" fill="#222" text-anchor="end" textLength="28.5" lengthAdjust="spacingAndGlyphs">200 °C</text><rect x="408.20" y="237.40" width="2.5" height="2.5" fill="#8b0000"/><text x="441.80" y="242.60" font-size="10.2" fill="#222" text-anchor="end" textLength="28.5" lengthAdjust="spacingAndGlyphs">450 °C</text><path d="M262.0,364.9 262.1,364.1 262.1,363.3 262.2,362.5 262.2,361.7 262.3,360.9 262.4,360.1 262.4,359.3 262.5,358.5 262.6,357.7 262.6,356.9 262.7,356.1 262.7,355.3 262.8,354.5 262.9,353.7 262.9,352.9 263.0,352.1 263.1,351.3 263.1,350.5 263.2,349.7 263.2,348.9 263.3,348.1 263.4,347.3 263.4,346.5 263.5,345.7 263.5,344.9 263.6,344.1 263.7,343.3 263.7,342.5 263.8,341.7 263.9,340.9 263.9,340.1 264.0,339.3 264.0,338.5 264.1,337.7 264.2,336.9 264.2,336.1 264.3,335.3 264.3,334.5 264.4,333.7 264.5,332.9 264.5,332.1 264.6,331.3 264.6,330.5 264.7,329.7 264.8,328.9 264.8,328.1 264.8,327.3 264.9,326.5 264.9,325.7 265.0,324.9 265.0,324.1 265.1,323.3 265.1,322.5 265.1,321.7 265.2,320.9 265.2,320.1 265.3,319.3 265.3,318.5 265.4,317.7 265.4,316.9 265.4,316.1 265.5,315.3 265.5,314.5 265.5,313.7 265.6,312.9 265.6,312.1 265.6,311.3 265.6,310.5 265.6,309.7 265.7,308.9 265.7,308.1 265.7,307.3 265.7,306.5 265.7,305.7 265.8,304.9 265.8,304.1 265.8,303.3 265.8,302.5 265.9,301.7 265.9,300.9 265.9,300.1 265.9,299.3 266.0,298.5 266.0,297.7 266.0,296.9 266.1,296.1 266.1,295.3 266.1,294.5 266.2,293.7 266.2,292.9 266.2,292.1 266.3,291.3 266.4,290.5 266.5,289.7 266.7,288.9 266.9,288.2 267.2,287.4 267.4,286.7 267.7,285.9 267.9,285.1 268.2,284.4 268.5,283.6 268.8,282.9 269.1,282.2 269.4,281.4 269.7,280.7 270.1,280.0 270.4,279.2 270.7,278.5 271.1,277.8 271.5,277.1 271.9,276.4 272.3,275.7 272.8,275.1 273.2,274.4 273.7,273.8 274.2,273.1 274.6,272.5 275.1,271.8 275.6,271.2 276.1,270.6 276.6,269.9 277.1,269.3 277.6,268.7 278.1,268.1 278.7,267.5 279.3,266.9 279.8,266.4 280.4,265.8 281.0,265.3 281.6,264.7 282.2,264.2 282.8,263.7 283.4,263.2 284.0,262.7 284.7,262.2 285.3,261.7 286.0,261.3 286.6,260.8 287.3,260.3 287.9,259.9 288.6,259.4 289.3,259.0 290.0,258.6 290.7,258.2 291.4,257.8 292.1,257.4 292.8,257.1 293.5,256.7 294.2,256.4 294.9,256.0 295.7,255.7 296.4,255.4 297.2,255.2 297.9,254.9 298.7,254.6 299.4,254.3 300.2,254.1 300.9,253.8 301.7,253.5 302.4,253.2 303.2,252.9 303.9,252.7 304.7,252.4 305.4,252.1 306.2,251.8 306.9,251.5 307.7,251.3 308.5,251.1 309.3,250.9 310.0,250.7 310.8,250.6 311.6,250.4 312.4,250.2 313.2,250.1 314.0,249.9 314.7,249.8 315.5,249.6 316.3,249.5 317.1,249.4 317.9,249.3 318.7,249.3 319.5,249.2 320.3,249.1 321.1,249.0 321.9,248.9 322.7,248.9 323.5,248.8 324.3,248.8 325.1,248.7 325.9,248.7 326.7,248.7 327.5,248.6 328.3,248.6 329.1,248.6 329.9,248.6 330.7,248.6 331.5,248.6 332.3,248.6 333.1,248.7 333.9,248.7 334.7,248.8 335.5,248.9 336.3,248.9 337.1,249.0 337.9,249.0 338.7,249.1 339.5,249.2 340.3,249.2 341.1,249.3 341.9,249.4 342.7,249.5 343.5,249.5 344.3,249.6 345.1,249.7 345.9,249.8 346.7,249.9 347.5,250.0 348.3,250.0 349.1,250.1 349.9,250.3 350.7,250.4 351.4,250.6 352.2,250.8 353.0,251.0 353.8,251.1 354.5,251.3 355.3,251.5 356.1,251.7 356.9,251.9 357.7,252.1 358.4,252.3 359.2,252.5 360.0,252.7 360.7,253.0 361.5,253.2 362.3,253.5 363.0,253.7 363.8,254.0 364.6,254.2 365.3,254.5 366.1,254.7 366.8,255.0 367.6,255.2 368.4,255.5 369.1,255.7 369.9,256.0 370.6,256.3 371.3,256.6 372.1,256.9 372.8,257.3 373.5,257.6 374.3,257.9 375.0,258.3 375.7,258.6 376.5,258.9 377.2,259.2 377.9,259.6 378.7,259.9 379.4,260.2 380.1,260.6 380.9,260.9 381.6,261.2 382.3,261.5 383.1,261.9 383.8,262.2 384.5,262.5 385.2,262.9 386.0,263.2 386.7,263.5 387.4,263.9 388.2,264.2 388.9,264.5 389.6,264.9 390.3,265.3 391.0,265.7 391.6,266.1 392.3,266.6 393.0,267.0 393.6,267.5 394.3,267.9 394.9,268.4 395.6,268.9 396.2,269.4 396.8,269.9 397.4,270.4 398.0,271.0 398.5,271.6 399.1,272.2 399.6,272.8 400.1,273.4 400.6,274.0 401.1,274.6 401.6,275.2 402.1,275.9 402.5,276.5 402.9,277.2 403.3,277.9 403.6,278.7 403.9,279.4 404.1,280.2 404.3,280.9 404.4,281.7 404.4,282.5 404.5,283.3 404.5,284.1 404.5,284.9 404.4,285.7 404.4,286.5" fill="none" stroke="#000000" stroke-width="1.5" stroke-linejoin="round" stroke-linecap="round"/><path d="M262.2,364.9 262.3,364.1 262.3,363.3 262.4,362.5 262.4,361.7 262.5,360.9 262.6,360.1 262.6,359.3 262.7,358.5 262.8,357.7 262.8,356.9 262.9,356.1 262.9,355.3 263.0,354.5 263.1,353.7 263.1,352.9 263.2,352.1 263.3,351.3 263.3,350.5 263.4,349.7 263.4,348.9 263.5,348.1 263.6,347.3 263.6,346.5 263.7,345.7 263.7,344.9 263.8,344.1 263.9,343.3 263.9,342.5 264.0,341.7 264.1,340.9 264.1,340.1 264.2,339.3 264.2,338.5 264.3,337.7 264.4,336.9 264.4,336.1 264.5,335.3 264.5,334.5 264.6,333.7 264.7,332.9 264.7,332.1 264.8,331.3 264.8,330.5 264.9,329.7 265.0,328.9 265.0,328.1 265.0,327.3 265.1,326.5 265.1,325.7 265.2,324.9 265.2,324.1 265.3,323.3 265.3,322.5 265.3,321.7 265.4,320.9 265.4,320.1 265.5,319.3 265.5,318.5 265.6,317.7 265.6,316.9 265.6,316.1 265.7,315.3 265.7,314.5 265.7,313.7 265.8,312.9 265.8,312.1 265.8,311.3 265.8,310.5 265.8,309.7 265.9,308.9 265.9,308.1 265.9,307.3 265.9,306.5 265.9,305.7 266.0,304.9 266.0,304.1 266.0,303.3 266.0,302.5 266.1,301.7 266.1,300.9 266.1,300.1 266.1,299.3 266.2,298.5 266.2,297.7 266.3,296.9 266.3,296.1 266.4,295.3 266.4,294.5 266.5,293.7 266.5,292.9 266.6,292.1 266.7,291.3 266.9,290.6 267.1,289.8 267.3,289.0 267.6,288.3 267.8,287.5 268.1,286.8 268.4,286.0 268.7,285.3 269.0,284.5 269.3,283.8 269.7,283.1 270.1,282.4 270.4,281.7 270.8,281.0 271.2,280.3 271.6,279.6 272.0,278.9 272.5,278.3 273.0,277.6 273.5,277.0 274.0,276.4 274.5,275.7 275.0,275.1 275.4,274.5 275.9,273.8 276.4,273.2 276.8,272.5 277.3,271.9 277.8,271.2 278.3,270.6 278.8,270.0 279.3,269.4 279.9,268.8 280.5,268.3 281.1,267.8 281.7,267.2 282.3,266.7 282.9,266.2 283.5,265.7 284.2,265.2 284.8,264.8 285.5,264.3 286.1,263.9 286.8,263.5 287.5,263.0 288.2,262.6 288.9,262.2 289.6,261.8 290.3,261.4 291.0,261.0 291.7,260.7 292.4,260.4 293.2,260.0 293.9,259.7 294.6,259.4 295.4,259.1 296.1,258.8 296.9,258.5 297.6,258.3 298.4,258.1 299.2,257.8 299.9,257.6 300.7,257.4 301.5,257.2 302.3,257.0 303.0,256.8 303.8,256.6 304.6,256.3 305.3,256.1 306.1,255.9 306.9,255.7 307.7,255.5 308.4,255.3 309.2,255.1 310.0,254.9 310.8,254.8 311.6,254.6 312.3,254.4 313.1,254.3 313.9,254.1 314.7,254.0 315.5,253.9 316.3,253.8 317.1,253.7 317.9,253.6 318.7,253.5 319.5,253.4 320.3,253.4 321.1,253.3 321.9,253.2 322.7,253.2 323.5,253.1 324.3,253.1 325.1,253.1 325.9,253.0 326.7,253.0 327.5,253.0 328.3,253.0 329.1,253.0 329.9,252.9 330.7,252.9 331.5,253.0 332.3,253.0 333.1,253.0 333.9,253.0 334.7,253.1 335.5,253.1 336.3,253.1 337.1,253.2 337.9,253.2 338.7,253.3 339.5,253.3 340.3,253.4 341.1,253.4 341.9,253.5 342.7,253.6 343.5,253.6 344.3,253.7 345.1,253.8 345.9,253.9 346.7,254.0 347.5,254.1 348.3,254.1 349.1,254.2 349.8,254.4 350.6,254.5 351.4,254.6 352.2,254.8 353.0,255.0 353.8,255.1 354.6,255.3 355.3,255.5 356.1,255.6 356.9,255.8 357.7,256.0 358.5,256.2 359.2,256.3 360.0,256.5 360.8,256.7 361.6,256.9 362.4,257.1 363.1,257.3 363.9,257.5 364.7,257.7 365.5,257.9 366.2,258.1 367.0,258.3 367.8,258.5 368.6,258.7 369.3,259.0 370.1,259.2 370.9,259.5 371.6,259.7 372.4,260.0 373.1,260.3 373.8,260.6 374.6,260.9 375.3,261.2 376.1,261.5 376.8,261.8 377.6,262.1 378.3,262.3 379.1,262.6 379.8,262.9 380.6,263.2 381.3,263.5 382.0,263.8 382.8,264.1 383.5,264.4 384.3,264.8 385.0,265.1 385.8,265.4 386.5,265.7 387.2,266.0 388.0,266.3 388.7,266.6 389.4,266.9 390.1,267.3 390.8,267.7 391.5,268.1 392.2,268.5 392.9,268.9 393.6,269.4 394.3,269.8 394.9,270.2 395.6,270.7 396.2,271.1 396.9,271.6 397.5,272.1 398.0,272.7 398.6,273.3 399.1,273.9 399.7,274.5 400.2,275.1 400.7,275.7 401.2,276.3 401.7,276.9 402.1,277.6 402.6,278.3 402.9,278.9 403.3,279.7 403.6,280.4 403.8,281.2 403.9,281.9 404.0,282.7 404.1,283.5 404.1,284.3 404.1,285.1 404.0,285.9 404.0,286.7" fill="none" stroke="#000000" stroke-width="1.5" stroke-linejoin="round" stroke-linecap="round"/><circle cx="403.50" cy="288.50" r="0.65" fill="#000000"/><circle cx="403.97" cy="292.57" r="0.65" fill="#000000"/><circle cx="404.44" cy="296.64" r="0.65" fill="#000000"/><circle cx="404.91" cy="300.71" r="0.65" fill="#000000"/><circle cx="405.39" cy="304.79" r="0.65" fill="#000000"/><circle cx="405.86" cy="308.86" r="0.65" fill="#000000"/><circle cx="406.33" cy="312.93" r="0.65" fill="#000000"/><circle cx="406.80" cy="317.00" r="0.65" fill="#000000"/><circle cx="405.00" cy="290.00" r="0.65" fill="#000000"/><circle cx="405.47" cy="294.07" r="0.65" fill="#000000"/><circle cx="405.94" cy="298.14" r="0.65" fill="#000000"/><circle cx="406.41" cy="302.21" r="0.65" fill="#000000"/><circle cx="406.89" cy="306.29" r="0.65" fill="#000000"/><circle cx="407.36" cy="310.36" r="0.65" fill="#000000"/><circle cx="407.83" cy="314.43" r="0.65" fill="#000000"/><circle cx="408.30" cy="318.50" r="0.65" fill="#000000"/><path d="M262.0,364.9 262.1,364.1 262.1,363.3 262.2,362.5 262.2,361.7 262.3,360.9 262.3,360.1 262.4,359.3 262.5,358.5 262.5,357.7 262.6,356.9 262.6,356.1 262.7,355.3 262.7,354.5 262.8,353.7 262.9,352.9 262.9,352.1 263.0,351.3 263.0,350.5 263.1,349.7 263.1,348.9 263.2,348.1 263.3,347.3 263.3,346.5 263.4,345.7 263.4,344.9 263.5,344.1 263.5,343.3 263.6,342.5 263.7,341.7 263.7,340.9 263.8,340.1 263.8,339.3 263.9,338.5 263.9,337.7 264.0,336.9 264.1,336.1 264.1,335.3 264.2,334.5 264.2,333.7 264.3,332.9 264.3,332.1 264.4,331.3 264.5,330.5 264.5,329.7 264.6,328.9 264.6,328.1 264.6,327.3 264.7,326.5 264.7,325.7 264.8,324.9 264.8,324.1 264.9,323.3 264.9,322.5 264.9,321.7 265.0,320.9 265.0,320.1 265.1,319.3 265.1,318.5 265.2,317.7 265.2,316.9 265.2,316.1 265.3,315.3 265.3,314.5 265.4,313.7 265.4,312.9 265.5,312.1 265.6,311.3 265.6,310.5 265.7,309.7 265.7,308.9 265.8,308.1 265.8,307.3 265.9,306.5 266.0,305.7 266.1,304.9 266.1,304.1 266.2,303.3 266.3,302.5 266.5,301.7 266.6,301.0 266.7,300.2 266.8,299.4 266.9,298.6 267.0,297.8 267.1,297.0 267.3,296.2 267.5,295.4 267.8,294.7 268.1,294.0 268.4,293.3 268.8,292.5 269.1,291.8 269.5,291.1 269.9,290.4 270.3,289.8 270.7,289.1 271.2,288.4 271.7,287.8 272.2,287.2 272.7,286.6 273.3,286.0 273.8,285.5 274.4,284.9 275.0,284.3 275.6,283.8 276.1,283.2 276.7,282.7 277.3,282.1 277.9,281.6 278.6,281.1 279.2,280.7 279.9,280.2 280.5,279.7 281.2,279.3 281.8,278.8 282.5,278.3 283.1,277.9 283.8,277.4 284.5,277.0 285.1,276.6 285.8,276.2 286.5,275.8 287.2,275.4 287.9,275.0 288.7,274.7 289.4,274.3 290.1,273.9 290.8,273.6 291.5,273.2 292.2,272.9 293.0,272.5 293.7,272.3 294.5,272.0 295.2,271.7 296.0,271.5 296.8,271.3 297.5,271.0 298.3,270.8 299.0,270.5 299.8,270.3 300.6,270.1 301.4,269.8 302.1,269.6 302.9,269.5 303.7,269.3 304.5,269.1 305.3,269.0 306.0,268.8 306.8,268.7 307.6,268.6 308.4,268.5 309.2,268.4 310.0,268.3 310.8,268.3 311.6,268.2 312.4,268.1 313.2,268.1 314.0,268.0 314.8,268.0 315.6,267.9 316.4,267.9 317.2,267.9 318.0,267.9 318.8,267.9 319.6,267.9 320.4,267.9 321.2,267.9 322.0,267.9 322.8,267.9 323.6,267.9 324.4,268.0 325.2,268.0 326.0,268.1 326.8,268.1 327.6,268.1 328.4,268.2 329.2,268.2 330.0,268.3 330.8,268.4 331.6,268.5 332.4,268.6 333.2,268.7 334.0,268.8 334.8,268.9 335.6,269.1 336.4,269.2 337.2,269.3 337.9,269.5 338.7,269.6 339.5,269.8 340.3,269.9 341.1,270.1 341.9,270.3 342.6,270.5 343.4,270.7 344.2,270.9 345.0,271.2 345.7,271.4 346.5,271.6 347.3,271.8 348.0,272.1 348.8,272.3 349.5,272.6 350.3,272.8 351.1,273.1 351.8,273.3 352.6,273.6 353.3,273.9 354.1,274.1 354.8,274.4 355.6,274.7 356.3,275.0 357.1,275.3 357.8,275.6 358.6,275.9 359.3,276.2 360.1,276.5 360.8,276.8 361.5,277.1 362.3,277.4 363.0,277.7 363.8,278.0 364.5,278.3 365.2,278.7 366.0,279.0 366.7,279.3 367.4,279.7 368.1,280.0 368.9,280.3 369.6,280.7 370.3,281.0 371.0,281.4 371.8,281.7 372.5,282.1 373.2,282.5 373.9,282.9 374.6,283.2 375.3,283.7 375.9,284.1 376.6,284.6 377.2,285.0 377.8,285.5 378.5,286.0 379.1,286.5 379.8,286.9 380.5,287.3 381.2,287.7 381.9,288.1 382.6,288.5 383.2,288.9 383.8,289.4 384.3,289.9 384.8,290.6 385.2,291.2 385.5,291.9 385.9,292.7 386.2,293.4 386.4,294.1 386.7,294.9 386.9,295.7 387.0,296.5 387.2,297.2 387.3,298.0 387.5,298.8 387.6,299.6 387.6,300.4 387.7,300.8" fill="none" stroke="#00008b" stroke-width="1.4" stroke-linejoin="round" stroke-linecap="round"/><circle cx="387.90" cy="303.50" r="0.65" fill="#00008b"/><circle cx="388.25" cy="307.33" r="0.65" fill="#00008b"/><circle cx="388.60" cy="311.17" r="0.65" fill="#00008b"/><circle cx="388.95" cy="315.00" r="0.65" fill="#00008b"/><circle cx="389.30" cy="318.83" r="0.65" fill="#00008b"/><circle cx="389.65" cy="322.67" r="0.65" fill="#00008b"/><circle cx="390.00" cy="326.50" r="0.65" fill="#00008b"/><path d="M262.2,364.9 262.3,364.1 262.3,363.3 262.4,362.5 262.4,361.7 262.5,360.9 262.5,360.1 262.6,359.3 262.7,358.5 262.7,357.7 262.8,356.9 262.8,356.1 262.9,355.3 262.9,354.5 263.0,353.7 263.1,352.9 263.1,352.1 263.2,351.3 263.2,350.5 263.3,349.7 263.3,348.9 263.4,348.1 263.5,347.3 263.5,346.5 263.6,345.7 263.6,344.9 263.7,344.1 263.7,343.3 263.8,342.5 263.9,341.7 263.9,340.9 264.0,340.1 264.0,339.3 264.1,338.5 264.1,337.7 264.2,336.9 264.3,336.1 264.3,335.3 264.4,334.5 264.4,333.7 264.5,332.9 264.5,332.1 264.6,331.3 264.7,330.5 264.7,329.7 264.8,328.9 264.8,328.1 264.9,327.3 264.9,326.5 265.0,325.7 265.0,324.9 265.1,324.1 265.1,323.3 265.1,322.5 265.2,321.7 265.2,320.9 265.3,320.1 265.3,319.3 265.4,318.5 265.4,317.7 265.5,316.9 265.5,316.1 265.6,315.3 265.7,314.5 265.7,313.7 265.8,312.9 265.9,312.1 265.9,311.3 266.0,310.5 266.1,309.7 266.1,308.9 266.2,308.1 266.3,307.3 266.4,306.5 266.5,305.7 266.6,304.9 266.7,304.1 266.8,303.4 267.0,302.6 267.1,301.8 267.3,301.0 267.4,300.2 267.6,299.4 267.7,298.6 267.9,297.8 268.1,297.1 268.3,296.3 268.6,295.6 268.9,294.9 269.3,294.2 269.7,293.5 270.1,292.8 270.5,292.1 271.0,291.4 271.4,290.7 271.8,290.1 272.3,289.4 272.8,288.8 273.3,288.2 273.9,287.6 274.4,287.1 275.0,286.5 275.6,285.9 276.1,285.4 276.7,284.8 277.3,284.2 277.9,283.7 278.5,283.2 279.1,282.7 279.7,282.2 280.4,281.7 281.0,281.3 281.7,280.8 282.3,280.3 283.0,279.9 283.7,279.4 284.3,279.0 285.0,278.5 285.7,278.1 286.3,277.7 287.0,277.3 287.7,276.9 288.4,276.5 289.2,276.2 289.9,275.8 290.6,275.4 291.3,275.1 292.0,274.7 292.7,274.4 293.5,274.0 294.2,273.7 295.0,273.4 295.7,273.2 296.5,272.9 297.2,272.6 298.0,272.4 298.7,272.1 299.5,271.9 300.3,271.6 301.0,271.4 301.8,271.1 302.6,270.9 303.3,270.7 304.1,270.5 304.9,270.3 305.7,270.1 306.4,269.9 307.2,269.8 308.0,269.6 308.8,269.5 309.6,269.4 310.4,269.3 311.2,269.2 312.0,269.2 312.8,269.1 313.6,269.0 314.4,268.9 315.2,268.9 316.0,268.8 316.8,268.8 317.6,268.7 318.4,268.7 319.2,268.7 320.0,268.7 320.8,268.7 321.6,268.6 322.4,268.6 323.2,268.6 324.0,268.6 324.8,268.7 325.6,268.7 326.4,268.7 327.2,268.7 328.0,268.7 328.8,268.8 329.6,268.8 330.4,268.8 331.2,268.9 332.0,269.0 332.8,269.1 333.6,269.2 334.4,269.3 335.2,269.5 336.0,269.6 336.8,269.7 337.5,269.8 338.3,270.0 339.1,270.1 339.9,270.2 340.7,270.4 341.5,270.6 342.3,270.8 343.0,271.0 343.8,271.1 344.6,271.3 345.4,271.5 346.2,271.7 346.9,271.9 347.7,272.2 348.5,272.4 349.2,272.6 350.0,272.9 350.7,273.2 351.5,273.4 352.3,273.7 353.0,274.0 353.8,274.2 354.5,274.5 355.3,274.8 356.0,275.1 356.8,275.4 357.5,275.7 358.3,275.9 359.0,276.2 359.7,276.5 360.5,276.8 361.2,277.2 362.0,277.5 362.7,277.8 363.4,278.1 364.2,278.4 364.9,278.7 365.6,279.1 366.4,279.4 367.1,279.7 367.8,280.1 368.6,280.4 369.3,280.7 370.0,281.1 370.7,281.4 371.5,281.8 372.2,282.1 372.9,282.5 373.6,282.9 374.3,283.3 375.0,283.7 375.6,284.1 376.3,284.6 376.9,285.0 377.6,285.5 378.2,286.0 378.7,286.6 379.2,287.2 379.5,287.9 379.8,288.6 380.1,289.3 380.3,290.1 380.5,290.9 380.7,291.7 380.8,292.4 381.0,293.2 381.2,294.0 381.3,294.8 381.5,295.6 381.7,296.4 381.8,297.1 382.0,297.9 382.1,298.7 382.3,299.5 382.4,300.3 382.6,301.1 382.7,301.9 382.9,302.7 383.0,303.4 383.2,304.2 383.3,305.0 383.4,305.8 383.5,306.6 383.6,307.4 383.8,308.2 383.9,309.0 384.0,309.8 384.1,310.6 384.2,311.4 384.3,312.2 384.4,313.0 384.5,313.8 384.6,314.6 384.7,315.4 384.8,316.1 384.9,316.9 385.0,317.7 385.1,318.5 385.2,319.3 385.3,320.1 385.4,320.9 385.5,321.7 385.6,322.5 385.7,323.3 385.8,324.1 385.9,324.9 386.0,325.7 386.1,326.5 386.3,327.3 386.4,328.1 386.5,328.9 386.6,329.7 386.7,330.5 386.8,331.2 386.9,332.0 387.0,332.8 387.1,333.6 387.2,334.4 387.3,335.2 387.4,336.0 387.5,336.8 387.6,337.6 387.7,338.0" fill="none" stroke="#00008b" stroke-width="1.4" stroke-linejoin="round" stroke-linecap="round"/><path d="M262.7,364.9 262.8,364.1 262.8,363.3 262.9,362.5 262.9,361.7 263.0,360.9 263.0,360.1 263.1,359.3 263.2,358.5 263.2,357.7 263.3,356.9 263.3,356.1 263.4,355.3 263.4,354.5 263.5,353.7 263.6,352.9 263.6,352.1 263.7,351.3 263.7,350.5 263.8,349.7 263.8,348.9 263.9,348.1 264.0,347.3 264.0,346.5 264.1,345.7 264.1,344.9 264.2,344.1 264.2,343.3 264.3,342.5 264.4,341.7 264.4,340.9 264.5,340.1 264.5,339.3 264.6,338.5 264.6,337.7 264.7,336.9 264.8,336.1 264.8,335.3 264.9,334.5 264.9,333.7 265.0,332.9 265.0,332.1 265.1,331.3 265.2,330.5 265.2,329.7 265.3,328.9 265.3,328.1 265.4,327.3 265.4,326.5 265.5,325.7 265.5,324.9 265.6,324.1 265.6,323.3 265.7,322.5 265.8,321.7 265.8,320.9 265.9,320.1 265.9,319.3 266.0,318.5 266.0,317.7 266.1,316.9 266.1,316.1 266.2,315.3 266.2,314.5 266.3,313.7 266.3,312.9 266.4,312.1 266.4,311.3 266.5,310.5 266.6,309.7 266.8,308.9 266.9,308.1 267.1,307.3 267.2,306.6 267.4,305.8 267.6,305.0 267.9,304.3 268.2,303.5 268.6,302.8 268.9,302.1 269.3,301.4 269.8,300.8 270.2,300.1 270.7,299.5 271.2,298.9 271.7,298.3 272.3,297.7 272.8,297.1 273.4,296.5 274.0,296.0 274.6,295.5 275.2,295.0 275.9,294.5 276.5,294.0 277.2,293.6 277.9,293.2 278.6,292.8 279.3,292.5 280.0,292.1 280.8,291.8 281.5,291.5 282.3,291.3 283.0,291.0 283.8,290.8 284.6,290.6 285.3,290.3 286.1,290.1 286.9,289.9 287.6,289.7 288.4,289.5 289.2,289.4 290.0,289.2 290.8,289.1 291.6,289.0 292.4,288.9 293.2,288.8 294.0,288.7 294.8,288.6 295.6,288.6 296.4,288.5 297.2,288.4 298.0,288.3 298.8,288.2 299.6,288.2 300.4,288.1 301.2,288.1 302.0,288.0 302.8,288.0 303.6,288.0 304.4,288.0 305.2,288.0 306.0,287.9 306.8,287.9 307.6,287.9 308.4,287.9 309.2,287.9 310.0,288.0 310.8,288.0 311.6,288.0 312.4,288.0 313.2,288.0 314.0,288.1 314.8,288.1 315.6,288.1 316.4,288.2 317.2,288.2 318.0,288.2 318.8,288.3 319.6,288.3 320.4,288.4 321.2,288.4 322.0,288.5 322.8,288.5 323.6,288.6 324.4,288.6 325.2,288.7 326.0,288.8 326.8,288.8 327.6,288.9 328.4,289.0 329.2,289.1 330.0,289.1 330.8,289.2 331.6,289.3 332.4,289.4 333.2,289.6 334.0,289.7 334.7,289.8 335.5,289.9 336.3,290.0 337.1,290.2 337.9,290.3 338.7,290.4 339.5,290.6 340.3,290.7 341.1,290.9 341.8,291.1 342.6,291.3 343.4,291.5 344.2,291.7 345.0,291.9 345.7,292.1 346.5,292.2 347.3,292.4 348.1,292.6 348.8,292.8 349.6,293.0 350.4,293.2 351.2,293.4 351.9,293.6 352.7,293.8 353.5,294.0 354.3,294.2 355.0,294.5 355.8,294.7 356.6,294.9 357.3,295.2 358.1,295.4 358.9,295.7 359.6,295.9 360.4,296.2 361.1,296.5 361.9,296.7 362.7,297.0 363.4,297.2 364.2,297.5 364.9,297.8 365.7,298.0 366.4,298.3 367.2,298.6 367.9,298.8 368.7,299.1 369.4,299.5 370.2,299.8 370.9,300.1 371.6,300.4 372.4,300.8 373.1,301.1 373.8,301.5 374.5,301.8 375.2,302.2 375.9,302.6 376.6,303.0 377.3,303.4 378.0,303.8 378.6,304.3 379.3,304.8 379.9,305.3 380.4,305.8 381.0,306.4 381.4,307.0 381.9,307.7 382.2,308.4 382.6,309.1 382.8,309.9 383.0,310.6 383.2,311.4 383.4,312.2 383.5,313.0 383.7,313.7 383.9,314.5 384.0,315.3 384.2,316.1" fill="none" stroke="#8b0000" stroke-width="1.4" stroke-linejoin="round" stroke-linecap="round"/><circle cx="384.50" cy="319.00" r="0.65" fill="#8b0000"/><circle cx="385.15" cy="322.90" r="0.65" fill="#8b0000"/><circle cx="385.80" cy="326.80" r="0.65" fill="#8b0000"/><circle cx="386.45" cy="330.70" r="0.65" fill="#8b0000"/><circle cx="387.10" cy="334.60" r="0.65" fill="#8b0000"/><path d="M262.5,364.9 262.6,364.1 262.6,363.3 262.7,362.5 262.7,361.7 262.8,360.9 262.8,360.1 262.9,359.3 263.0,358.5 263.0,357.7 263.1,356.9 263.1,356.1 263.2,355.3 263.2,354.5 263.3,353.7 263.4,352.9 263.4,352.1 263.5,351.3 263.5,350.5 263.6,349.7 263.6,348.9 263.7,348.1 263.8,347.3 263.8,346.5 263.9,345.7 263.9,344.9 264.0,344.1 264.0,343.3 264.1,342.5 264.2,341.7 264.2,340.9 264.3,340.1 264.3,339.3 264.4,338.5 264.5,337.7 264.5,336.9 264.6,336.1 264.6,335.3 264.7,334.5 264.7,333.7 264.8,332.9 264.9,332.1 264.9,331.3 265.0,330.5 265.0,329.7 265.1,328.9 265.1,328.1 265.2,327.3 265.2,326.5 265.3,325.7 265.3,324.9 265.4,324.1 265.4,323.3 265.5,322.5 265.6,321.6 265.6,320.8 265.7,320.0 265.7,319.2 265.8,318.4 265.8,317.6 265.9,316.8 265.9,316.0 266.0,315.2 266.0,314.4 266.1,313.6 266.1,312.8 266.2,312.0 266.2,311.2 266.3,310.4 266.4,309.6 266.5,308.8 266.6,308.1 266.8,307.3 266.9,306.5 267.1,305.7 267.2,304.9 267.5,304.1 267.7,303.4 268.0,302.7 268.4,301.9 268.7,301.2 269.1,300.5 269.5,299.9 270.0,299.2 270.5,298.6 271.0,298.0 271.5,297.4 272.1,296.8 272.6,296.2 273.2,295.6 273.8,295.1 274.4,294.6 275.0,294.1 275.7,293.6 276.3,293.2 277.0,292.7 277.7,292.3 278.4,292.0 279.1,291.6 279.9,291.3 280.6,291.0 281.3,290.7 282.1,290.4 282.9,290.2 283.6,290.0 284.4,289.7 285.2,289.5 286.0,289.3 286.7,289.1 287.5,288.9 288.3,288.7 289.1,288.6 289.9,288.4 290.7,288.3 291.4,288.2 292.2,288.1 293.0,288.0 293.8,287.9 294.6,287.8 295.4,287.8 296.2,287.7 297.0,287.6 297.8,287.5 298.6,287.4 299.4,287.4 300.2,287.3 301.0,287.3 301.8,287.2 302.6,287.2 303.4,287.2 304.2,287.1 305.0,287.1 305.8,287.1 306.6,287.1 307.4,287.0 308.3,287.0 309.1,287.0 309.9,287.0 310.7,287.0 311.5,287.0 312.3,287.1 313.1,287.1 313.9,287.1 314.7,287.1 315.5,287.1 316.3,287.2 317.1,287.2 317.9,287.3 318.7,287.3 319.5,287.4 320.3,287.4 321.1,287.5 321.9,287.5 322.7,287.6 323.5,287.7 324.3,287.7 325.1,287.8 325.9,287.9 326.7,288.0 327.5,288.1 328.3,288.1 329.1,288.2 329.9,288.3 330.7,288.4 331.5,288.5 332.3,288.6 333.1,288.7 333.9,288.9 334.6,289.0 335.4,289.1 336.2,289.2 337.0,289.3 337.8,289.5 338.6,289.6 339.4,289.7 340.2,289.9 341.0,290.0 341.8,290.2 342.6,290.3 343.4,290.5 344.1,290.6 344.9,290.8 345.7,290.9 346.5,291.1 347.3,291.3 348.1,291.4 348.8,291.6 349.6,291.9 350.4,292.1 351.2,292.3 351.9,292.5 352.7,292.7 353.5,293.0 354.2,293.2 355.0,293.4 355.8,293.6 356.5,293.9 357.3,294.1 358.1,294.4 358.8,294.6 359.6,294.9 360.4,295.2 361.1,295.4 361.9,295.7 362.6,295.9 363.4,296.2 364.2,296.4 364.9,296.7 365.7,296.9 366.5,297.2 367.2,297.5 368.0,297.7 368.7,298.0 369.5,298.3 370.2,298.6 371.0,298.9 371.7,299.2 372.4,299.5 373.2,299.8 373.9,300.1 374.7,300.4 375.4,300.7 376.1,301.1 376.9,301.4 377.6,301.7 378.3,302.1 379.0,302.4 379.8,302.8 380.5,303.2 381.2,303.6 381.9,304.0 382.5,304.4 383.2,304.8 383.9,305.3 384.5,305.8 385.1,306.3 385.7,306.8 386.2,307.4 386.6,308.1 387.0,308.8 387.3,309.5 387.6,310.2 387.9,311.0 388.1,311.7 388.3,312.5" fill="none" stroke="#8b0000" stroke-width="1.4" stroke-linejoin="round" stroke-linecap="round"/><circle cx="388.60" cy="315.00" r="0.6" fill="#8b0000"/><circle cx="389.14" cy="317.95" r="0.6" fill="#8b0000"/><circle cx="389.68" cy="320.90" r="0.6" fill="#8b0000"/><circle cx="390.21" cy="323.85" r="0.6" fill="#8b0000"/><circle cx="390.75" cy="326.80" r="0.6" fill="#8b0000"/><circle cx="391.29" cy="329.75" r="0.6" fill="#8b0000"/><circle cx="391.82" cy="332.70" r="0.6" fill="#8b0000"/><circle cx="392.36" cy="335.65" r="0.6" fill="#8b0000"/><circle cx="392.90" cy="338.60" r="0.6" fill="#8b0000"/></g>
<g><line x1="487.50" y1="209.50" x2="487.50" y2="364.90" stroke="#707070" stroke-width="1"/><line x1="484.50" y1="364.90" x2="681.00" y2="364.90" stroke="#a8a8a8" stroke-width="1.1"/><line x1="484.20" y1="364.90" x2="487.50" y2="364.90" stroke="#505050" stroke-width="0.8"/><text x="481.90" y="367.20" font-size="6.4" fill="#222" text-anchor="end" textLength="3.45" lengthAdjust="spacingAndGlyphs">0</text><line x1="486.10" y1="357.84" x2="487.50" y2="357.84" stroke="#505050" stroke-width="0.8"/><line x1="484.20" y1="350.77" x2="487.50" y2="350.77" stroke="#505050" stroke-width="0.8"/><text x="481.90" y="353.07" font-size="6.4" fill="#222" text-anchor="end" textLength="10.35" lengthAdjust="spacingAndGlyphs">100</text><line x1="486.10" y1="343.71" x2="487.50" y2="343.71" stroke="#505050" stroke-width="0.8"/><line x1="484.20" y1="336.65" x2="487.50" y2="336.65" stroke="#505050" stroke-width="0.8"/><text x="481.90" y="338.95" font-size="6.4" fill="#222" text-anchor="end" textLength="10.35" lengthAdjust="spacingAndGlyphs">200</text><line x1="486.10" y1="329.58" x2="487.50" y2="329.58" stroke="#505050" stroke-width="0.8"/><line x1="484.20" y1="322.52" x2="487.50" y2="322.52" stroke="#505050" stroke-width="0.8"/><text x="481.90" y="324.82" font-size="6.4" fill="#222" text-anchor="end" textLength="10.35" lengthAdjust="spacingAndGlyphs">300</text><line x1="486.10" y1="315.46" x2="487.50" y2="315.46" stroke="#505050" stroke-width="0.8"/><line x1="484.20" y1="308.39" x2="487.50" y2="308.39" stroke="#505050" stroke-width="0.8"/><text x="481.90" y="310.69" font-size="6.4" fill="#222" text-anchor="end" textLength="10.35" lengthAdjust="spacingAndGlyphs">400</text><line x1="486.10" y1="301.33" x2="487.50" y2="301.33" stroke="#505050" stroke-width="0.8"/><line x1="484.20" y1="294.26" x2="487.50" y2="294.26" stroke="#505050" stroke-width="0.8"/><text x="481.90" y="296.56" font-size="6.4" fill="#222" text-anchor="end" textLength="10.35" lengthAdjust="spacingAndGlyphs">500</text><line x1="486.10" y1="287.20" x2="487.50" y2="287.20" stroke="#505050" stroke-width="0.8"/><line x1="484.20" y1="280.14" x2="487.50" y2="280.14" stroke="#505050" stroke-width="0.8"/><text x="481.90" y="282.44" font-size="6.4" fill="#222" text-anchor="end" textLength="10.35" lengthAdjust="spacingAndGlyphs">600</text><line x1="486.10" y1="273.07" x2="487.50" y2="273.07" stroke="#505050" stroke-width="0.8"/><line x1="484.20" y1="266.01" x2="487.50" y2="266.01" stroke="#505050" stroke-width="0.8"/><text x="481.90" y="268.31" font-size="6.4" fill="#222" text-anchor="end" textLength="10.35" lengthAdjust="spacingAndGlyphs">700</text><line x1="486.10" y1="258.95" x2="487.50" y2="258.95" stroke="#505050" stroke-width="0.8"/><line x1="484.20" y1="251.88" x2="487.50" y2="251.88" stroke="#505050" stroke-width="0.8"/><text x="481.90" y="254.18" font-size="6.4" fill="#222" text-anchor="end" textLength="10.35" lengthAdjust="spacingAndGlyphs">800</text><line x1="486.10" y1="244.82" x2="487.50" y2="244.82" stroke="#505050" stroke-width="0.8"/><line x1="484.20" y1="237.76" x2="487.50" y2="237.76" stroke="#505050" stroke-width="0.8"/><text x="481.90" y="240.06" font-size="6.4" fill="#222" text-anchor="end" textLength="10.35" lengthAdjust="spacingAndGlyphs">900</text><line x1="486.10" y1="230.69" x2="487.50" y2="230.69" stroke="#505050" stroke-width="0.8"/><line x1="484.20" y1="223.63" x2="487.50" y2="223.63" stroke="#505050" stroke-width="0.8"/><text x="481.90" y="225.93" font-size="6.4" fill="#222" text-anchor="end" textLength="13.80" lengthAdjust="spacingAndGlyphs">1000</text><line x1="486.10" y1="216.57" x2="487.50" y2="216.57" stroke="#505050" stroke-width="0.8"/><line x1="484.20" y1="209.50" x2="487.50" y2="209.50" stroke="#505050" stroke-width="0.8"/><text x="481.90" y="211.80" font-size="6.4" fill="#222" text-anchor="end" textLength="13.80" lengthAdjust="spacingAndGlyphs">1100</text><line x1="487.50" y1="364.90" x2="487.50" y2="367.70" stroke="#505050" stroke-width="0.8"/><text x="487.80" y="376.10" font-size="6.4" fill="#222" text-anchor="middle" textLength="3.37" lengthAdjust="spacingAndGlyphs">0</text><line x1="506.80" y1="364.90" x2="506.80" y2="366.20" stroke="#505050" stroke-width="0.8"/><line x1="526.10" y1="364.90" x2="526.10" y2="367.70" stroke="#505050" stroke-width="0.8"/><text x="526.40" y="376.10" font-size="6.4" fill="#222" text-anchor="middle" textLength="3.37" lengthAdjust="spacingAndGlyphs">5</text><line x1="545.40" y1="364.90" x2="545.40" y2="366.20" stroke="#505050" stroke-width="0.8"/><line x1="564.70" y1="364.90" x2="564.70" y2="367.70" stroke="#505050" stroke-width="0.8"/><text x="565.00" y="376.10" font-size="6.4" fill="#222" text-anchor="middle" textLength="6.74" lengthAdjust="spacingAndGlyphs">10</text><line x1="584.00" y1="364.90" x2="584.00" y2="366.20" stroke="#505050" stroke-width="0.8"/><line x1="603.30" y1="364.90" x2="603.30" y2="367.70" stroke="#505050" stroke-width="0.8"/><text x="603.60" y="376.10" font-size="6.4" fill="#222" text-anchor="middle" textLength="6.74" lengthAdjust="spacingAndGlyphs">15</text><line x1="622.60" y1="364.90" x2="622.60" y2="366.20" stroke="#505050" stroke-width="0.8"/><line x1="641.90" y1="364.90" x2="641.90" y2="367.70" stroke="#505050" stroke-width="0.8"/><text x="642.20" y="376.10" font-size="6.4" fill="#222" text-anchor="middle" textLength="6.74" lengthAdjust="spacingAndGlyphs">20</text><line x1="661.20" y1="364.90" x2="661.20" y2="366.20" stroke="#505050" stroke-width="0.8"/><line x1="680.50" y1="364.90" x2="680.50" y2="367.70" stroke="#505050" stroke-width="0.8"/><text x="680.80" y="376.10" font-size="6.4" fill="#222" text-anchor="middle" textLength="6.74" lengthAdjust="spacingAndGlyphs">25</text><text x="584.10" y="386.50" font-size="8.1" fill="#222" text-anchor="middle" textLength="35.8" lengthAdjust="spacingAndGlyphs">Strain (%)</text><text transform="translate(464.10,286.40) rotate(-90)" font-size="8.3" fill="#222" text-anchor="middle" textLength="46.4" lengthAdjust="spacingAndGlyphs">Stress (MPa)</text><text x="453.10" y="204.70" font-size="9.9" fill="#222">(f)</text><text x="538.70" y="207.00" font-size="10" fill="#222" textLength="76.7" lengthAdjust="spacingAndGlyphs">504 °C and 3 dpa</text><rect x="633.50" y="219.90" width="2.5" height="2.5" fill="#000000"/><text x="667.10" y="225.10" font-size="10.2" fill="#222" text-anchor="end" textLength="22.8" lengthAdjust="spacingAndGlyphs">25 °C</text><rect x="633.50" y="228.65" width="2.5" height="2.5" fill="#00008b"/><text x="667.10" y="233.85" font-size="10.2" fill="#222" text-anchor="end" textLength="28.5" lengthAdjust="spacingAndGlyphs">200 °C</text><rect x="633.50" y="237.40" width="2.5" height="2.5" fill="#8b0000"/><text x="667.10" y="242.60" font-size="10.2" fill="#222" text-anchor="end" textLength="28.5" lengthAdjust="spacingAndGlyphs">500 °C</text><path d="M487.8,364.9 487.9,364.1 488.0,363.3 488.1,362.5 488.2,361.7 488.3,360.9 488.3,360.1 488.4,359.3 488.5,358.5 488.6,357.7 488.7,356.9 488.8,356.1 488.9,355.3 489.0,354.5 489.1,353.7 489.2,352.9 489.3,352.2 489.3,351.4 489.4,350.6 489.5,349.8 489.6,349.0 489.6,348.2 489.7,347.4 489.8,346.6 489.8,345.8 489.9,345.0 490.0,344.2 490.0,343.4 490.1,342.6 490.1,341.8 490.2,341.0 490.3,340.2 490.3,339.4 490.4,338.6 490.4,337.8 490.5,337.0 490.6,336.2 490.6,335.4 490.7,334.6 490.8,333.8 490.8,333.0 490.9,332.2 490.9,331.4 491.0,330.6 491.1,329.8 491.1,329.0 491.2,328.2 491.2,327.4 491.2,326.6 491.3,325.8 491.3,325.0 491.3,324.2 491.4,323.4 491.4,322.6 491.4,321.8 491.4,321.0 491.5,320.2 491.5,319.4 491.5,318.6 491.5,317.8 491.6,317.0 491.6,316.2 491.6,315.4 491.6,314.6 491.7,313.7 491.7,312.9 491.7,312.1 491.8,311.3 491.8,310.5 491.8,309.7 491.8,308.9 491.8,308.1 491.9,307.3 491.9,306.5 491.9,305.7 491.9,304.9 492.0,304.1 492.0,303.3 492.0,302.5 492.0,301.7 492.0,300.9 492.1,300.1 492.1,299.3 492.1,298.5 492.1,297.7 492.2,296.9 492.2,296.1 492.2,295.3 492.2,294.5 492.3,293.7 492.3,292.9 492.3,292.1 492.4,291.3 492.4,290.5 492.4,289.7 492.5,288.9 492.5,288.1 492.6,287.3 492.6,286.5 492.7,285.7 492.7,284.9 492.8,284.1 492.9,283.3 492.9,282.5 493.0,281.7 493.1,280.9 493.2,280.1 493.3,279.3 493.4,278.5 493.6,277.8 493.8,277.0 494.0,276.2 494.3,275.5 494.6,274.7 494.9,274.0 495.2,273.3 495.6,272.6 496.0,271.9 496.4,271.2 496.8,270.5 497.2,269.8 497.5,269.1 497.9,268.3 498.3,267.6 498.6,266.9 499.0,266.2 499.4,265.5 499.7,264.8 500.1,264.1 500.5,263.4 500.9,262.7 501.3,262.0 501.8,261.4 502.3,260.8 502.8,260.2 503.4,259.6 503.9,259.0 504.5,258.4 505.1,257.9 505.6,257.3 506.2,256.8 506.9,256.3 507.5,255.9 508.2,255.5 508.9,255.1 509.6,254.7 510.3,254.3 511.0,254.0 511.8,253.7 512.5,253.4 513.3,253.1 514.0,252.8 514.8,252.6 515.6,252.4 516.3,252.1 517.1,251.9 517.9,251.7 518.6,251.4 519.4,251.2 520.2,251.0 521.0,250.8 521.7,250.6 522.5,250.4 523.3,250.2 524.1,250.1 524.9,249.9 525.7,249.8 526.4,249.7 527.2,249.6 528.0,249.5 528.8,249.4 529.6,249.3 530.4,249.2 531.2,249.2 532.0,249.1 532.8,249.0 533.6,249.0 534.4,248.9 535.2,248.9 536.0,248.9 536.8,248.9 537.6,249.0 538.4,249.0 539.2,249.1 540.0,249.1 540.8,249.2 541.6,249.3 542.4,249.3 543.2,249.4 544.0,249.5 544.8,249.7 545.6,249.8 546.4,249.9 547.2,250.1 547.9,250.2 548.7,250.4 549.5,250.5 550.3,250.6 551.1,250.8 551.9,250.9 552.7,251.0 553.5,251.0 554.3,251.1 555.1,251.2 555.9,251.4 556.7,251.5 557.5,251.7 558.2,251.8 559.0,252.0 559.8,252.2 560.6,252.4 561.4,252.5 562.1,252.7 562.9,252.9 563.7,253.1 564.5,253.3 565.3,253.5 566.0,253.7 566.8,253.9 567.5,254.2 568.3,254.5 569.0,254.8 569.8,255.0 570.5,255.3 571.3,255.6 572.0,255.9 572.8,256.2 573.5,256.5 574.3,256.8 575.0,257.0 575.8,257.3 576.5,257.6 577.3,257.9 578.0,258.2 578.8,258.5 579.5,258.7 580.3,259.0 581.0,259.3 581.8,259.6 582.5,259.9 583.3,260.2 584.0,260.5 584.8,260.8 585.5,261.1 586.2,261.5 586.9,261.9 587.6,262.3 588.2,262.8 588.9,263.2 589.5,263.7 590.1,264.2 590.7,264.7 591.3,265.3 591.8,265.9 592.3,266.5 592.7,267.2 593.2,267.8 593.5,268.5 593.9,269.3 594.2,270.0 594.5,270.7 594.7,271.5 594.9,272.3 595.1,273.1 595.2,273.8 595.4,274.6 595.6,275.4 595.7,276.2 595.9,277.0 596.0,277.8 596.2,278.6 596.3,279.3 596.5,280.1 596.6,280.9 596.7,281.7 596.8,282.5 597.0,283.3 597.1,284.1 597.2,284.9 597.3,285.7 597.4,286.5 597.5,287.3 597.6,288.1 597.7,288.9 597.9,289.7 598.0,290.4 598.2,291.2 598.3,292.0 598.5,292.8 598.7,293.6 598.8,294.4 599.0,295.2 599.1,295.9 599.3,296.7 599.5,297.5 599.6,298.3 599.8,299.1 599.9,299.9 600.1,300.7 600.2,301.4 600.3,302.2 600.5,303.0 600.6,303.8 600.7,304.6 600.8,305.4 600.9,306.2 601.0,307.0 601.2,307.8 601.3,308.6 601.4,309.4 601.5,310.2 601.6,311.0 601.7,311.8 601.8,312.6 601.9,313.4 602.0,314.2 602.1,315.0 602.1,315.7 602.2,316.5 602.3,317.3 602.4,318.1 602.5,318.9 602.6,319.7 602.7,320.5 602.8,321.3 602.9,322.1 603.0,322.9 603.0,323.7 603.1,324.5 603.2,325.3 603.3,326.1 603.4,326.9 603.5,327.7" fill="none" stroke="#000000" stroke-width="1.5" stroke-linejoin="round" stroke-linecap="round"/><circle cx="603.80" cy="330.00" r="0.6" fill="#000000"/><circle cx="604.15" cy="332.45" r="0.6" fill="#000000"/><circle cx="604.50" cy="334.90" r="0.6" fill="#000000"/><circle cx="604.85" cy="337.35" r="0.6" fill="#000000"/><circle cx="605.20" cy="339.80" r="0.6" fill="#000000"/><path d="M488.0,364.9 488.1,364.1 488.2,363.3 488.3,362.5 488.4,361.7 488.5,360.9 488.5,360.1 488.6,359.3 488.7,358.5 488.8,357.7 488.9,356.9 489.0,356.1 489.1,355.3 489.2,354.5 489.3,353.7 489.4,352.9 489.5,352.2 489.5,351.4 489.6,350.6 489.7,349.8 489.8,349.0 489.8,348.2 489.9,347.4 490.0,346.6 490.0,345.8 490.1,345.0 490.2,344.2 490.2,343.4 490.3,342.6 490.3,341.8 490.4,341.0 490.5,340.2 490.5,339.4 490.6,338.6 490.6,337.8 490.7,337.0 490.8,336.2 490.8,335.4 490.9,334.6 491.0,333.8 491.0,333.0 491.1,332.2 491.1,331.4 491.2,330.6 491.3,329.8 491.3,329.0 491.4,328.2 491.4,327.4 491.4,326.6 491.5,325.8 491.5,325.0 491.5,324.2 491.6,323.4 491.6,322.6 491.6,321.8 491.6,321.0 491.7,320.2 491.7,319.4 491.7,318.6 491.7,317.8 491.8,317.0 491.8,316.1 491.8,315.3 491.8,314.5 491.9,313.7 491.9,312.9 491.9,312.1 492.0,311.3 492.0,310.5 492.0,309.7 492.0,308.9 492.1,308.1 492.1,307.3 492.1,306.5 492.1,305.7 492.2,304.9 492.2,304.1 492.2,303.3 492.2,302.5 492.3,301.7 492.3,300.9 492.3,300.1 492.4,299.3 492.4,298.5 492.4,297.7 492.4,296.9 492.5,296.1 492.5,295.3 492.5,294.5 492.6,293.7 492.6,292.9 492.6,292.1 492.7,291.3 492.7,290.5 492.7,289.7 492.8,288.9 492.8,288.1 492.9,287.3 492.9,286.5 493.0,285.7 493.1,284.9 493.3,284.1 493.4,283.3 493.5,282.5 493.7,281.8 493.9,281.0 494.0,280.2 494.2,279.4 494.5,278.7 494.7,277.9 495.0,277.1 495.2,276.4 495.5,275.6 495.8,274.9 496.2,274.2 496.5,273.4 496.8,272.7 497.2,272.0 497.6,271.3 498.0,270.6 498.4,269.9 498.8,269.2 499.3,268.6 499.7,267.9 500.2,267.3 500.7,266.7 501.2,266.1 501.8,265.5 502.4,264.9 502.9,264.4 503.5,263.8 504.1,263.3 504.7,262.7 505.3,262.2 505.9,261.7 506.5,261.2 507.2,260.7 507.8,260.2 508.4,259.7 509.1,259.2 509.7,258.8 510.4,258.3 511.1,257.9 511.8,257.6 512.5,257.2 513.3,257.0 514.0,256.7 514.8,256.5 515.5,256.3 516.3,256.0 517.1,255.8 517.9,255.6 518.6,255.4 519.4,255.2 520.2,255.0 521.0,254.8 521.7,254.6 522.5,254.5 523.3,254.3 524.1,254.1 524.9,254.0 525.7,253.9 526.5,253.8 527.3,253.7 528.1,253.6 528.9,253.5 529.7,253.5 530.5,253.4 531.3,253.4 532.1,253.4 532.9,253.4 533.7,253.4 534.5,253.4 535.3,253.4 536.1,253.4 536.9,253.4 537.7,253.5 538.5,253.6 539.3,253.7 540.1,253.7 540.9,253.8 541.7,253.9 542.4,254.0 543.2,254.1 544.0,254.2 544.8,254.3 545.6,254.4 546.4,254.5 547.2,254.6 548.0,254.7 548.8,254.9 549.6,255.0 550.4,255.1 551.2,255.3 552.0,255.4 552.8,255.5 553.5,255.7 554.3,255.8 555.1,256.0 555.9,256.1 556.7,256.3 557.5,256.5 558.3,256.6 559.0,256.8 559.8,257.0 560.6,257.2 561.4,257.4 562.2,257.6 562.9,257.8 563.7,258.0 564.5,258.2 565.3,258.4 566.0,258.6 566.8,258.8 567.6,259.1 568.3,259.3 569.1,259.6 569.8,259.8 570.6,260.1 571.4,260.4 572.1,260.6 572.9,260.9 573.6,261.2 574.4,261.4 575.1,261.7 575.9,262.0 576.7,262.2 577.4,262.5 578.2,262.7 578.9,263.0 579.7,263.2 580.5,263.5 581.2,263.7 582.0,264.0 582.7,264.2 583.5,264.5 584.3,264.7 585.0,265.0 585.8,265.3 586.5,265.6 587.3,265.9 588.0,266.2 588.7,266.6 589.4,266.9 590.1,267.3 590.8,267.7 591.5,268.1 592.2,268.5 592.8,269.0 593.4,269.5 594.0,270.0 594.6,270.6 595.2,271.1 595.8,271.7 596.4,272.2 596.9,272.8 597.5,273.4 598.1,273.9 598.6,274.5 599.2,275.1 599.7,275.7 600.2,276.3 600.7,277.0 601.2,277.6 601.6,278.3 602.1,278.9 602.5,279.6 602.9,280.3 603.2,281.0 603.6,281.7 603.9,282.5 604.1,283.2 604.4,284.0 604.6,284.8 604.7,285.5 604.9,286.3 605.0,287.1 605.1,287.9 605.2,288.7 605.3,289.5 605.3,290.3 605.4,291.1 605.4,291.9 605.5,292.7 605.5,293.5" fill="none" stroke="#000000" stroke-width="1.5" stroke-linejoin="round" stroke-linecap="round"/><circle cx="605.80" cy="296.50" r="0.65" fill="#000000"/><circle cx="606.27" cy="300.17" r="0.65" fill="#000000"/><circle cx="606.73" cy="303.83" r="0.65" fill="#000000"/><circle cx="607.20" cy="307.50" r="0.65" fill="#000000"/><circle cx="607.67" cy="311.17" r="0.65" fill="#000000"/><circle cx="608.13" cy="314.83" r="0.65" fill="#000000"/><circle cx="608.60" cy="318.50" r="0.65" fill="#000000"/><path d="M489.5,364.9 490.2,364.7 490.8,364.4 491.4,364.0 491.8,363.5 492.1,362.8 492.3,362.1 492.4,361.4 492.5,360.6 492.6,359.8 492.6,359.0 492.7,358.2 492.7,357.4 492.7,356.6 492.7,355.8 492.8,355.0 492.8,354.2 492.8,353.4 492.8,352.6 492.9,351.7 492.9,350.9 492.9,350.1 492.9,349.3 492.9,348.5 493.0,347.7 493.0,346.9 493.0,346.1 493.0,345.3 493.0,344.5 493.1,343.7 493.1,342.9 493.1,342.1 493.1,341.3 493.2,340.5 493.2,339.7 493.2,338.9 493.2,338.1 493.2,337.3 493.3,336.5 493.3,335.7 493.3,334.9 493.3,334.1 493.4,333.3 493.4,332.5 493.4,331.7 493.4,330.9 493.4,330.1 493.5,329.3 493.5,328.5 493.5,327.7 493.5,326.9 493.5,326.1 493.6,325.3 493.6,324.4 493.6,323.6 493.6,322.8 493.6,322.0 493.7,321.2 493.7,320.4 493.7,319.6 493.7,318.8 493.7,318.0 493.7,317.2 493.8,316.4 493.8,315.6 493.8,314.8 493.8,314.0 493.8,313.2 493.8,312.4 493.9,311.6 493.9,310.8 493.9,310.0 493.9,309.2 493.9,308.4 494.0,307.6 494.0,306.8 494.0,306.0 494.0,305.2 494.1,304.4 494.1,303.6 494.1,302.8 494.1,302.0 494.2,301.2 494.2,300.4 494.2,299.6 494.3,298.8 494.3,298.0 494.3,297.2 494.4,296.3 494.4,295.5 494.5,294.7 494.5,293.9 494.6,293.1 494.7,292.4 494.8,291.6 494.9,290.8 495.1,290.0 495.3,289.2 495.5,288.4 495.8,287.7 496.0,286.9 496.3,286.2 496.6,285.4 497.0,284.7 497.3,284.0 497.7,283.3 498.0,282.6 498.4,281.9 498.9,281.2 499.3,280.6 499.8,279.9 500.4,279.3 500.9,278.7 501.4,278.1 502.0,277.6 502.6,277.0 503.2,276.5 503.8,276.0 504.4,275.5 505.0,275.0 505.7,274.5 506.3,274.0 507.0,273.5 507.6,273.0 508.3,272.6 508.9,272.1 509.6,271.7 510.3,271.3 511.0,270.9 511.7,270.6 512.5,270.2 513.2,269.9 513.9,269.6 514.7,269.3 515.4,269.0 516.2,268.8 516.9,268.5 517.7,268.3 518.5,268.0 519.2,267.8 520.0,267.6 520.8,267.4 521.6,267.3 522.4,267.1 523.2,267.0 524.0,266.9 524.8,266.8 525.5,266.7 526.3,266.6 527.1,266.5 527.9,266.4 528.7,266.3 529.5,266.3 530.3,266.3 531.1,266.3 531.9,266.3 532.8,266.3 533.6,266.3 534.4,266.3 535.2,266.4 536.0,266.4 536.8,266.5 537.6,266.6 538.3,266.7 539.1,266.8 539.9,266.9 540.7,267.0 541.5,267.1 542.3,267.3 543.1,267.4 543.9,267.6 544.7,267.7 545.5,267.9 546.3,268.1 547.0,268.2 547.8,268.4 548.6,268.6 549.4,268.8 550.2,269.0 550.9,269.2 551.7,269.3 552.5,269.5 553.3,269.7 554.1,269.9 554.9,270.1 555.6,270.3 556.4,270.4 557.2,270.6 558.0,270.8 558.8,271.0 559.5,271.2 560.3,271.5 561.1,271.7 561.8,271.9 562.6,272.1 563.4,272.3 564.2,272.6 564.9,272.8 565.7,273.1 566.5,273.3 567.2,273.6 568.0,273.8 568.7,274.1 569.5,274.3 570.3,274.6 571.0,274.9 571.8,275.1 572.5,275.4 573.3,275.7 574.0,276.0 574.8,276.3 575.5,276.6 576.3,276.9 577.0,277.2 577.8,277.5 578.5,277.8 579.2,278.1 579.9,278.5 580.6,278.9 581.3,279.3 582.0,279.7 582.7,280.1 583.4,280.6 584.1,281.0 584.7,281.4 585.4,281.8 586.1,282.3 586.7,282.7 587.4,283.2 588.1,283.7 588.7,284.1 589.3,284.6 590.0,285.1 590.6,285.6 591.2,286.1 591.8,286.7 592.3,287.3 592.8,287.9 593.3,288.5 593.7,289.2 594.1,289.9 594.5,290.6 594.7,291.3 594.9,292.0 595.1,292.8 595.1,293.6 595.2,294.4 595.3,295.2 595.3,296.0" fill="none" stroke="#00008b" stroke-width="1.5" stroke-linejoin="round" stroke-linecap="round"/><circle cx="595.80" cy="299.00" r="0.65" fill="#00008b"/><circle cx="596.30" cy="303.20" r="0.65" fill="#00008b"/><circle cx="596.80" cy="307.40" r="0.65" fill="#00008b"/><circle cx="597.30" cy="311.60" r="0.65" fill="#00008b"/><circle cx="597.80" cy="315.80" r="0.65" fill="#00008b"/><circle cx="598.30" cy="320.00" r="0.65" fill="#00008b"/><circle cx="598.80" cy="324.20" r="0.65" fill="#00008b"/><path d="M489.7,364.9 490.4,364.7 491.1,364.5 491.6,364.1 492.1,363.6 492.4,363.0 492.6,362.3 492.8,361.5 492.9,360.8 493.0,360.0 493.0,359.2 493.1,358.4 493.1,357.6 493.1,356.8 493.2,356.0 493.2,355.2 493.2,354.4 493.2,353.6 493.2,352.8 493.3,351.9 493.3,351.1 493.3,350.3 493.3,349.5 493.4,348.7 493.4,347.9 493.4,347.1 493.4,346.3 493.5,345.5 493.5,344.7 493.5,343.9 493.5,343.1 493.6,342.3 493.6,341.5 493.6,340.7 493.6,339.9 493.7,339.1 493.7,338.3 493.7,337.5 493.7,336.7 493.8,335.9 493.8,335.1 493.8,334.3 493.8,333.5 493.9,332.7 493.9,331.9 493.9,331.1 493.9,330.3 494.0,329.5 494.0,328.7 494.0,327.9 494.0,327.1 494.0,326.3 494.1,325.5 494.1,324.6 494.1,323.8 494.1,323.0 494.1,322.2 494.1,321.4 494.2,320.6 494.2,319.8 494.2,319.0 494.2,318.2 494.2,317.4 494.3,316.6 494.3,315.8 494.3,315.0 494.3,314.2 494.3,313.4 494.3,312.6 494.4,311.8 494.4,311.0 494.4,310.2 494.4,309.4 494.4,308.6 494.4,307.8 494.5,307.0 494.5,306.2 494.5,305.4 494.5,304.6 494.5,303.8 494.5,303.0 494.6,302.2 494.6,301.4 494.6,300.6 494.6,299.8 494.6,298.9 494.7,298.1 494.7,297.3 494.7,296.5 494.7,295.7 494.7,294.9 494.8,294.1 494.9,293.3 494.9,292.5 495.1,291.8 495.3,291.0 495.5,290.2 495.7,289.4 496.0,288.7 496.3,288.0 496.6,287.2 496.9,286.5 497.3,285.8 497.6,285.1 498.0,284.3 498.4,283.6 498.8,283.0 499.2,282.3 499.7,281.6 500.2,281.0 500.7,280.4 501.3,279.8 501.8,279.2 502.4,278.7 503.0,278.1 503.6,277.6 504.2,277.1 504.8,276.5 505.4,276.1 506.1,275.6 506.7,275.1 507.3,274.6 508.0,274.1 508.7,273.7 509.3,273.2 510.0,272.8 510.7,272.4 511.4,272.0 512.1,271.7 512.8,271.3 513.6,271.0 514.3,270.7 515.1,270.4 515.8,270.1 516.6,269.9 517.3,269.6 518.1,269.3 518.9,269.1 519.6,268.9 520.4,268.7 521.2,268.5 522.0,268.4 522.8,268.3 523.6,268.1 524.4,268.0 525.1,267.9 525.9,267.8 526.7,267.7 527.5,267.6 528.3,267.6 529.1,267.5 529.9,267.5 530.7,267.5 531.5,267.5 532.4,267.5 533.2,267.5 534.0,267.5 534.8,267.5 535.6,267.6 536.4,267.6 537.2,267.7 537.9,267.8 538.7,267.9 539.5,268.0 540.3,268.2 541.1,268.3 541.9,268.4 542.7,268.5 543.5,268.7 544.3,268.8 545.1,269.0 545.9,269.2 546.6,269.4 547.4,269.5 548.2,269.7 549.0,269.9 549.8,270.1 550.6,270.3 551.3,270.5 552.1,270.7 552.9,270.9 553.7,271.1 554.4,271.3 555.2,271.5 556.0,271.7 556.8,271.9 557.5,272.1 558.3,272.3 559.1,272.5 559.9,272.8 560.6,273.0 561.4,273.2 562.2,273.5 562.9,273.7 563.7,273.9 564.5,274.2 565.2,274.5 566.0,274.7 566.7,275.0 567.5,275.4 568.2,275.7 568.9,276.0 569.7,276.3 570.4,276.6 571.2,276.9 571.9,277.2 572.6,277.5 573.4,277.9 574.1,278.2 574.9,278.5 575.6,278.8 576.4,279.1 577.1,279.4 577.8,279.7 578.6,280.0 579.3,280.4 580.0,280.8 580.7,281.2 581.4,281.6 582.0,282.0 582.7,282.4 583.4,282.9 584.0,283.3 584.7,283.8 585.3,284.3 585.9,284.8 586.5,285.4 587.0,286.0 587.6,286.5 588.1,287.1 588.6,287.7 589.1,288.4 589.5,289.1 589.8,289.8 590.1,290.5 590.4,291.3 590.6,292.0 590.7,292.8 590.8,293.6 590.9,294.4 590.9,295.2 591.0,296.0" fill="none" stroke="#00008b" stroke-width="1.5" stroke-linejoin="round" stroke-linecap="round"/><circle cx="591.30" cy="299.00" r="0.65" fill="#00008b"/><circle cx="591.78" cy="303.10" r="0.65" fill="#00008b"/><circle cx="592.27" cy="307.20" r="0.65" fill="#00008b"/><circle cx="592.75" cy="311.30" r="0.65" fill="#00008b"/><circle cx="593.23" cy="315.40" r="0.65" fill="#00008b"/><circle cx="593.72" cy="319.50" r="0.65" fill="#00008b"/><circle cx="594.20" cy="323.60" r="0.65" fill="#00008b"/><path d="M488.2,364.9 488.3,364.1 488.4,363.3 488.5,362.5 488.6,361.7 488.7,360.9 488.8,360.1 488.9,359.3 489.1,358.5 489.2,357.7 489.3,357.0 489.4,356.2 489.5,355.4 489.6,354.6 489.7,353.8 489.8,353.0 489.9,352.2 490.0,351.4 490.1,350.6 490.2,349.8 490.3,349.0 490.4,348.2 490.4,347.4 490.5,346.6 490.6,345.8 490.7,345.0 490.7,344.2 490.8,343.4 490.9,342.6 490.9,341.8 491.0,341.0 491.1,340.2 491.2,339.4 491.2,338.6 491.3,337.8 491.4,337.0 491.5,336.2 491.5,335.4 491.6,334.6 491.7,333.8 491.7,333.0 491.8,332.2 491.9,331.4 492.0,330.6 492.0,329.8 492.1,329.0 492.2,328.2 492.2,327.4 492.3,326.6 492.4,325.8 492.5,325.0 492.5,324.2 492.6,323.4 492.7,322.6 492.7,321.8 492.8,321.0 492.9,320.2 492.9,319.4 493.0,318.6 493.1,317.8 493.1,317.0 493.2,316.2 493.3,315.4 493.4,314.6 493.4,313.9 493.5,313.1 493.6,312.3 493.7,311.5 493.8,310.7 494.0,309.9 494.1,309.1 494.2,308.3 494.3,307.5 494.5,306.7 494.6,305.9 494.8,305.1 494.9,304.4 495.1,303.6 495.4,302.8 495.6,302.1 495.9,301.3 496.2,300.6 496.6,299.9 497.0,299.2 497.5,298.6 498.0,298.0 498.5,297.4 499.1,296.8 499.7,296.4 500.4,295.9 501.1,295.5 501.8,295.2 502.5,294.8 503.2,294.5 504.0,294.3 504.7,294.1 505.5,293.9 506.3,293.7 507.1,293.6 507.9,293.5 508.7,293.4 509.5,293.4 510.3,293.4 511.1,293.3 511.9,293.3 512.7,293.3 513.5,293.3 514.3,293.3 515.1,293.4 515.9,293.4 516.7,293.4 517.5,293.4 518.3,293.4 519.1,293.5 519.9,293.5 520.7,293.5 521.5,293.6 522.3,293.6 523.1,293.7 523.9,293.7 524.7,293.8 525.5,293.9 526.3,293.9 527.1,294.0 527.9,294.1 528.7,294.1 529.5,294.2 530.3,294.2 531.1,294.3 531.9,294.4 532.7,294.4 533.5,294.5 534.3,294.5 535.1,294.6 535.9,294.7 536.7,294.8 537.5,294.9 538.3,295.0 539.1,295.1 539.8,295.2 540.6,295.4 541.4,295.5 542.2,295.6 543.0,295.7 543.8,295.9 544.6,296.0 545.4,296.1 546.2,296.2 547.0,296.3 547.8,296.4 548.6,296.5 549.4,296.7 550.2,296.8 551.0,296.9 551.7,297.0 552.5,297.1 553.3,297.2 554.1,297.4 554.9,297.5 555.7,297.6 556.5,297.7 557.3,297.9 558.1,298.0 558.9,298.1 559.7,298.2 560.5,298.3 561.3,298.4 562.1,298.6 562.9,298.7 563.6,298.8 564.4,298.9 565.2,299.0 566.0,299.1 566.8,299.3 567.6,299.4 568.4,299.5 569.2,299.7 570.0,299.9 570.7,300.0 571.5,300.2 572.3,300.4 573.1,300.6 573.9,300.8 574.6,301.0 575.4,301.1 576.2,301.3 577.0,301.5 577.8,301.7 578.6,301.9 579.3,302.1 580.1,302.3 580.9,302.4 581.7,302.6 582.5,302.8 583.2,303.0 584.0,303.2 584.8,303.4 585.6,303.6 586.3,303.9 587.1,304.1 587.8,304.4 588.6,304.6 589.4,304.9 590.1,305.1 590.9,305.4 591.6,305.7 592.4,305.9 593.2,306.2 593.9,306.4 594.7,306.7 595.4,306.9 596.2,307.2 597.0,307.5 597.7,307.7 598.5,308.0 599.2,308.2 600.0,308.5 600.7,308.8 601.5,309.0 602.3,309.3 603.0,309.6 603.8,309.9 604.5,310.1 605.3,310.4 606.0,310.7 606.8,310.9 607.5,311.2 608.3,311.5 609.0,311.8 609.8,312.1 610.5,312.4 611.3,312.7 612.0,313.0 612.7,313.3 613.5,313.6 614.2,313.9 615.0,314.2 615.7,314.6 616.4,314.9 617.2,315.2 617.9,315.5 618.6,315.9 619.3,316.2 620.0,316.6 620.7,317.0 621.4,317.4 622.1,317.8 622.8,318.2 623.5,318.6 624.2,319.0 624.9,319.4 625.6,319.8 626.3,320.2 627.0,320.6 627.7,321.0 628.4,321.5 629.0,321.9 629.7,322.3 630.4,322.7 631.1,323.2 631.7,323.6 632.4,324.1 633.1,324.5 633.7,325.0 634.4,325.4 635.0,326.0 635.5,326.5 636.0,327.1 636.5,327.7 636.8,328.4 637.0,329.1 637.2,329.9 637.3,330.7 637.4,331.4 637.4,332.2 637.5,333.0 637.5,333.8 637.6,334.6 637.6,335.5 637.6,336.3 637.7,337.1 637.7,337.9 637.8,338.7 637.8,339.5 637.9,340.2 638.0,341.0 638.1,341.8 638.3,342.6 638.4,343.4 638.5,344.2 638.6,345.0 638.8,345.8 638.9,346.6 639.1,347.4 639.2,348.2 639.3,349.0 639.5,349.7 639.6,350.5 639.7,351.3 639.9,352.1 640.0,352.9 640.1,353.7 640.3,354.5 640.4,355.3 640.6,356.1 640.7,356.9 640.8,357.6 641.0,358.4 641.1,359.2 641.3,360.0 641.4,360.8" fill="none" stroke="#8b0000" stroke-width="1.6" stroke-linejoin="round" stroke-linecap="round"/><path d="M488.4,364.9 488.5,364.1 488.6,363.3 488.7,362.5 488.8,361.7 488.9,360.9 489.0,360.1 489.1,359.3 489.3,358.5 489.4,357.7 489.5,356.9 489.6,356.2 489.7,355.4 489.8,354.6 489.9,353.8 490.0,353.0 490.1,352.2 490.2,351.4 490.3,350.6 490.4,349.8 490.5,349.0 490.6,348.2 490.6,347.4 490.7,346.6 490.8,345.8 490.9,345.0 490.9,344.2 491.0,343.4 491.1,342.6 491.1,341.8 491.2,341.0 491.3,340.2 491.4,339.4 491.4,338.6 491.5,337.8 491.6,337.0 491.7,336.2 491.7,335.4 491.8,334.6 491.9,333.8 491.9,333.0 492.0,332.2 492.1,331.4 492.2,330.6 492.2,329.8 492.3,329.0 492.4,328.2 492.4,327.4 492.5,326.6 492.6,325.8 492.7,325.0 492.7,324.2 492.8,323.4 492.9,322.6 492.9,321.8 493.0,321.0 493.1,320.2 493.1,319.4 493.2,318.6 493.3,317.8 493.3,317.0 493.4,316.2 493.5,315.4 493.6,314.6 493.6,313.8 493.7,313.0 493.8,312.2 493.9,311.4 494.1,310.6 494.2,309.9 494.3,309.1 494.5,308.3 494.6,307.5 494.8,306.7 495.0,305.9 495.1,305.1 495.4,304.4 495.6,303.6 495.9,302.9 496.2,302.1 496.5,301.4 496.9,300.7 497.3,300.0 497.8,299.4 498.3,298.8 498.8,298.2 499.4,297.6 500.0,297.1 500.6,296.7 501.3,296.3 502.0,295.9 502.7,295.6 503.5,295.2 504.2,295.0 505.0,294.8 505.7,294.6 506.5,294.4 507.3,294.3 508.1,294.2 508.9,294.1 509.7,294.1 510.5,294.0 511.3,294.0 512.1,294.0 512.9,294.0 513.7,294.0 514.5,294.1 515.3,294.1 516.1,294.1 516.9,294.1 517.7,294.1 518.5,294.2 519.3,294.2 520.1,294.2 520.9,294.2 521.7,294.3 522.5,294.3 523.3,294.4 524.1,294.4 524.9,294.5 525.7,294.5 526.5,294.6 527.3,294.7 528.1,294.7 528.9,294.8 529.7,294.8 530.5,294.9 531.3,295.0 532.1,295.0 532.9,295.1 533.7,295.2 534.5,295.2 535.3,295.3 536.1,295.4 536.9,295.5 537.7,295.6 538.5,295.7 539.3,295.9 540.1,296.0 540.9,296.1 541.7,296.2 542.5,296.4 543.3,296.5 544.1,296.6 544.9,296.7 545.7,296.8 546.4,296.9 547.2,297.0 548.0,297.2 548.8,297.3 549.6,297.4 550.4,297.5 551.2,297.6 552.0,297.7 552.8,297.9 553.6,298.0 554.4,298.1 555.2,298.2 556.0,298.4 556.8,298.5 557.6,298.6 558.3,298.7 559.1,298.8 559.9,299.0 560.7,299.1 561.5,299.2 562.3,299.3 563.1,299.4 563.9,299.5 564.7,299.6 565.5,299.7 566.3,299.9 567.1,300.0 567.9,300.1 568.7,300.3 569.4,300.5 570.2,300.6 571.0,300.8 571.8,301.0 572.6,301.2 573.3,301.4 574.1,301.5 574.9,301.7 575.7,301.9 576.5,302.1 577.3,302.3 578.0,302.5 578.8,302.6 579.6,302.8 580.4,303.0 581.2,303.2 581.9,303.4 582.7,303.6 583.5,303.8 584.3,304.0 585.0,304.2 585.8,304.4 586.6,304.6 587.3,304.9 588.1,305.2 588.9,305.4 589.6,305.7 590.4,305.9 591.1,306.2 591.9,306.4 592.7,306.7 593.4,307.0 594.2,307.2 594.9,307.5 595.7,307.7 596.5,308.0 597.2,308.3 598.0,308.5 598.7,308.8 599.5,309.0 600.3,309.3 601.0,309.6 601.8,309.8 602.5,310.1 603.3,310.4 604.0,310.7 604.8,310.9 605.5,311.2 606.3,311.5 607.0,311.7 607.8,312.0 608.6,312.3 609.3,312.6 610.1,312.9 610.8,313.2 611.5,313.5 612.3,313.8 613.0,314.1 613.7,314.4 614.5,314.7 615.2,315.1 616.0,315.4 616.7,315.7 617.4,316.0 618.2,316.4 618.9,316.7 619.6,317.1 620.3,317.5 621.0,317.9 621.7,318.3 622.4,318.7 623.1,319.1 623.8,319.5 624.5,319.9 625.2,320.3 625.9,320.7 626.5,321.1 627.2,321.5 627.9,321.9 628.6,322.3 629.3,322.7 630.0,323.1 630.7,323.5 631.4,324.0 632.0,324.4 632.7,324.8 633.4,325.2 634.1,325.7 634.8,326.1 635.4,326.5 636.1,327.0 636.8,327.4 637.4,327.9 638.0,328.4 638.5,329.0 639.0,329.6 639.5,330.2 639.8,330.9 640.0,331.6 640.2,332.4 640.3,333.2 640.4,334.0 640.5,334.8 640.6,335.6 640.7,336.4 640.7,337.2 640.8,338.0 640.9,338.8 641.0,339.5 641.1,340.3 641.2,341.1 641.3,341.9 641.4,342.7 641.5,343.5 641.7,344.3 641.8,345.1 641.9,345.9" fill="none" stroke="#8b0000" stroke-width="1.6" stroke-linejoin="round" stroke-linecap="round"/></g>
</svg></body></html>
